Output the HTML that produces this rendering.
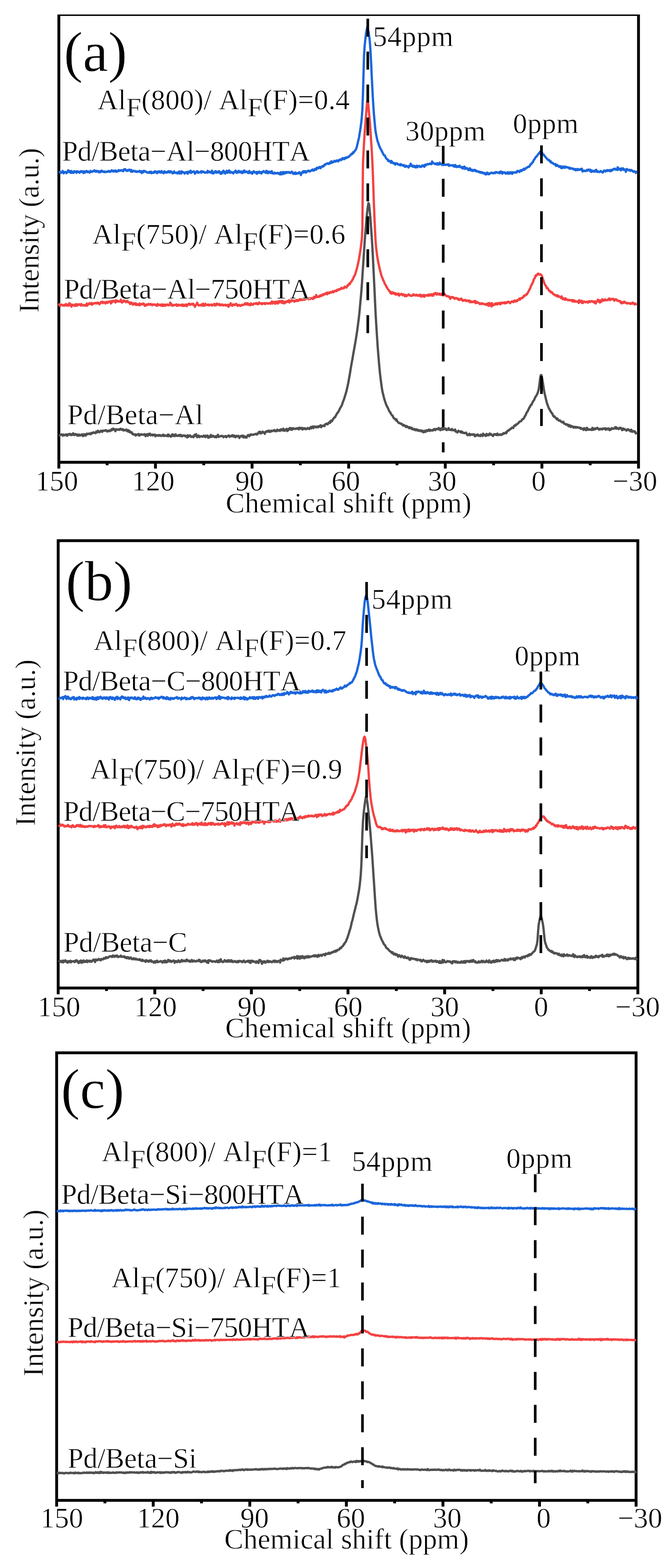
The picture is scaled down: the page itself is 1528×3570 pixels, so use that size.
<!DOCTYPE html>
<html><head><meta charset="utf-8"><title>NMR spectra</title>
<style>
html,body{margin:0;padding:0;background:#fff;}
svg{display:block;}
text{font-family:"Liberation Serif","Times New Roman",serif;font-size:65px;fill:#000;font-kerning:none;stroke:#fff;stroke-width:0.8px;paint-order:fill stroke;}
</style></head>
<body>
<svg width="1528" height="3570" viewBox="0 0 1528 3570">
<defs><filter id="soft" x="0" y="0" width="100%" height="100%" color-interpolation-filters="sRGB"><feGaussianBlur stdDeviation="0.6"/></filter></defs>
<rect width="1528" height="3570" fill="#fff"/>
<g filter="url(#soft)">
<rect x="134" y="33" width="1320" height="1019.5" fill="none" stroke="#000" stroke-width="6.5"/>
<rect x="130.75" y="1055.25" width="6.5" height="11.5" fill="#000"/>
<rect x="350.75" y="1055.25" width="6.5" height="11.5" fill="#000"/>
<rect x="570.75" y="1055.25" width="6.5" height="11.5" fill="#000"/>
<rect x="790.75" y="1055.25" width="6.5" height="11.5" fill="#000"/>
<rect x="1010.75" y="1055.25" width="6.5" height="11.5" fill="#000"/>
<rect x="1230.75" y="1055.25" width="6.5" height="11.5" fill="#000"/>
<rect x="1450.75" y="1055.25" width="6.5" height="11.5" fill="#000"/>
<rect x="240.75" y="1055.25" width="6.5" height="4" fill="#000"/>
<rect x="460.75" y="1055.25" width="6.5" height="4" fill="#000"/>
<rect x="680.75" y="1055.25" width="6.5" height="4" fill="#000"/>
<rect x="900.75" y="1055.25" width="6.5" height="4" fill="#000"/>
<rect x="1120.75" y="1055.25" width="6.5" height="4" fill="#000"/>
<rect x="1340.75" y="1055.25" width="6.5" height="4" fill="#000"/>
<path d="M134.0,990.6 L135.2,991.1 L136.5,990.4 L137.8,989.4 L139.0,989.9 L140.2,989.0 L141.5,990.6 L142.8,992.0 L144.0,989.5 L145.2,989.3 L146.5,990.9 L147.8,990.9 L149.0,990.7 L150.2,989.1 L151.5,990.8 L152.8,992.1 L154.0,989.3 L155.2,990.4 L156.5,988.3 L157.8,988.9 L159.0,988.1 L160.2,990.0 L161.5,988.4 L162.8,990.6 L164.0,990.2 L165.2,989.8 L166.5,986.5 L167.8,989.5 L169.0,990.6 L170.2,990.3 L171.5,988.2 L172.8,989.8 L174.0,989.1 L175.2,989.4 L176.5,992.1 L177.8,989.2 L179.0,990.5 L180.2,991.7 L181.5,989.7 L182.8,990.7 L184.0,991.3 L185.2,990.9 L186.5,989.0 L187.8,991.1 L189.0,992.8 L190.2,988.7 L191.5,991.6 L192.8,990.4 L194.0,988.9 L195.2,991.8 L196.5,990.2 L197.8,987.3 L199.0,988.4 L200.2,988.5 L201.5,987.3 L202.8,988.1 L204.0,986.9 L205.2,987.8 L206.5,988.7 L207.8,985.7 L209.0,986.6 L210.2,985.6 L211.5,986.2 L212.8,984.2 L214.0,984.9 L215.2,985.0 L216.5,986.2 L217.8,986.2 L219.0,982.6 L220.2,982.9 L221.5,984.4 L222.8,980.8 L224.0,982.4 L225.2,982.7 L226.5,984.3 L227.8,982.9 L229.0,981.2 L230.2,980.8 L231.5,980.8 L232.8,983.3 L234.0,980.5 L235.2,980.5 L236.5,981.0 L237.8,980.5 L239.0,980.5 L240.2,979.2 L241.5,980.9 L242.8,980.4 L244.0,982.5 L245.2,981.6 L246.5,980.7 L247.8,981.7 L249.0,979.9 L250.2,981.5 L251.5,979.9 L252.8,980.3 L254.0,977.3 L255.2,979.3 L256.5,976.6 L257.8,975.8 L259.0,978.1 L260.2,977.2 L261.5,978.8 L262.8,981.8 L264.0,977.4 L265.2,977.5 L266.5,978.5 L267.8,978.4 L269.0,977.6 L270.2,977.5 L271.5,978.8 L272.8,978.4 L274.0,976.1 L275.2,977.7 L276.5,978.0 L277.8,976.9 L279.0,978.8 L280.2,977.4 L281.5,980.2 L282.8,979.3 L284.0,979.5 L285.2,979.0 L286.5,979.9 L287.8,978.0 L289.0,979.4 L290.2,981.8 L291.5,979.3 L292.8,982.9 L294.0,980.4 L295.2,983.7 L296.5,982.4 L297.8,984.9 L299.0,985.1 L300.2,984.4 L301.5,987.9 L302.8,989.0 L304.0,988.4 L305.2,988.9 L306.5,989.7 L307.8,988.9 L309.0,991.8 L310.2,989.6 L311.5,990.1 L312.8,989.1 L314.0,989.2 L315.2,988.2 L316.5,991.5 L317.8,989.2 L319.0,990.9 L320.2,989.7 L321.5,988.7 L322.8,989.5 L324.0,989.1 L325.2,989.9 L326.5,989.5 L327.8,989.8 L329.0,988.5 L330.2,989.6 L331.5,993.1 L332.8,989.4 L334.0,988.7 L335.2,990.6 L336.5,992.2 L337.8,988.1 L339.0,990.0 L340.2,989.1 L341.5,987.3 L342.8,991.2 L344.0,990.2 L345.2,990.4 L346.5,989.4 L347.8,991.4 L349.0,989.8 L350.2,990.6 L351.5,989.5 L352.8,989.5 L354.0,993.3 L355.2,990.7 L356.5,991.8 L357.8,991.4 L359.0,990.8 L360.2,990.6 L361.5,992.3 L362.8,990.7 L364.0,990.7 L365.2,991.0 L366.5,992.7 L367.8,992.2 L369.0,992.0 L370.2,990.7 L371.5,989.6 L372.8,992.6 L374.0,992.6 L375.2,991.1 L376.5,991.8 L377.8,992.1 L379.0,992.4 L380.2,992.3 L381.5,990.0 L382.8,993.2 L384.0,989.4 L385.2,992.5 L386.5,992.1 L387.8,992.8 L389.0,994.2 L390.2,993.6 L391.5,989.8 L392.8,989.0 L394.0,992.5 L395.2,990.0 L396.5,991.6 L397.8,992.9 L399.0,989.2 L400.2,989.0 L401.5,992.3 L402.8,992.3 L404.0,992.0 L405.2,992.4 L406.5,991.1 L407.8,990.4 L409.0,992.5 L410.2,991.4 L411.5,990.1 L412.8,993.3 L414.0,992.4 L415.2,993.2 L416.5,991.4 L417.8,991.9 L419.0,991.5 L420.2,991.8 L421.5,993.4 L422.8,992.0 L424.0,993.6 L425.2,993.4 L426.5,996.0 L427.8,990.9 L429.0,994.3 L430.2,992.9 L431.5,993.1 L432.8,991.2 L434.0,992.9 L435.2,994.8 L436.5,993.9 L437.8,994.0 L439.0,993.5 L440.2,995.5 L441.5,993.9 L442.8,990.3 L444.0,992.4 L445.2,990.4 L446.5,988.5 L447.8,992.7 L449.0,995.5 L450.2,993.7 L451.5,991.7 L452.8,991.9 L454.0,995.2 L455.2,993.8 L456.5,993.8 L457.8,993.2 L459.0,993.2 L460.2,994.4 L461.5,994.1 L462.8,993.8 L464.0,991.8 L465.2,994.0 L466.5,992.4 L467.8,995.2 L469.0,992.0 L470.2,993.8 L471.5,993.8 L472.8,991.7 L474.0,996.6 L475.2,996.3 L476.5,993.7 L477.8,995.5 L479.0,994.5 L480.2,990.2 L481.5,994.4 L482.8,994.1 L484.0,994.2 L485.2,992.2 L486.5,993.4 L487.8,993.4 L489.0,995.3 L490.2,994.0 L491.5,993.3 L492.8,995.7 L494.0,992.4 L495.2,992.4 L496.5,990.1 L497.8,994.9 L499.0,993.8 L500.2,993.6 L501.5,993.4 L502.8,992.6 L504.0,993.1 L505.2,992.4 L506.5,992.5 L507.8,993.1 L509.0,995.5 L510.2,994.2 L511.5,993.7 L512.8,992.9 L514.0,992.6 L515.2,995.5 L516.5,994.1 L517.8,993.6 L519.0,992.7 L520.2,991.4 L521.5,993.1 L522.8,994.4 L524.0,992.4 L525.2,992.9 L526.5,993.2 L527.8,993.4 L529.0,990.7 L530.2,993.0 L531.5,992.1 L532.8,994.4 L534.0,991.8 L535.2,994.0 L536.5,995.6 L537.8,992.4 L539.0,992.6 L540.2,993.7 L541.5,993.4 L542.8,992.2 L544.0,994.8 L545.2,997.2 L546.5,993.5 L547.8,993.5 L549.0,992.4 L550.2,993.8 L551.5,991.9 L552.8,992.1 L554.0,995.8 L555.2,992.3 L556.5,995.2 L557.8,996.1 L559.0,994.3 L560.2,994.6 L561.5,996.4 L562.8,993.0 L564.0,991.9 L565.2,990.3 L566.5,991.9 L567.8,993.2 L569.0,992.0 L570.2,989.2 L571.5,989.2 L572.8,989.6 L574.0,990.2 L575.2,989.7 L576.5,989.9 L577.8,989.7 L579.0,988.8 L580.2,988.7 L581.5,988.6 L582.8,987.6 L584.0,987.9 L585.2,989.5 L586.5,987.4 L587.8,986.6 L589.0,984.0 L590.2,986.2 L591.5,982.9 L592.8,983.6 L594.0,986.9 L595.2,986.5 L596.5,984.9 L597.8,982.8 L599.0,984.3 L600.2,983.9 L601.5,985.6 L602.8,987.7 L604.0,984.7 L605.2,982.9 L606.5,982.0 L607.8,983.2 L609.0,982.7 L610.2,981.1 L611.5,982.5 L612.8,980.5 L614.0,983.3 L615.2,983.1 L616.5,982.8 L617.8,980.5 L619.0,981.8 L620.2,980.9 L621.5,980.7 L622.8,980.8 L624.0,979.4 L625.2,979.2 L626.5,981.8 L627.8,980.7 L629.0,981.1 L630.2,981.8 L631.5,978.2 L632.8,979.3 L634.0,980.2 L635.2,980.5 L636.5,979.1 L637.8,981.0 L639.0,979.4 L640.2,977.3 L641.5,978.0 L642.8,979.9 L644.0,979.3 L645.2,976.0 L646.5,980.6 L647.8,979.4 L649.0,980.4 L650.2,977.8 L651.5,977.7 L652.8,976.5 L654.0,981.4 L655.2,977.4 L656.5,979.8 L657.8,976.1 L659.0,977.2 L660.2,974.4 L661.5,976.3 L662.8,978.4 L664.0,975.0 L665.2,978.3 L666.5,977.0 L667.8,975.0 L669.0,975.8 L670.2,976.0 L671.5,976.9 L672.8,976.3 L674.0,975.7 L675.2,976.3 L676.5,975.2 L677.8,974.7 L679.0,976.3 L680.2,977.6 L681.5,973.8 L682.8,975.8 L684.0,974.6 L685.2,974.0 L686.5,976.5 L687.8,974.8 L689.0,977.8 L690.2,974.8 L691.5,976.6 L692.8,975.8 L694.0,974.9 L695.2,976.9 L696.5,976.1 L697.8,977.1 L699.0,976.0 L700.2,974.6 L701.5,975.7 L702.8,975.8 L704.0,976.9 L705.2,974.1 L706.5,975.1 L707.8,972.2 L709.0,975.4 L710.2,972.6 L711.5,971.3 L712.8,973.4 L714.0,974.8 L715.2,970.8 L716.5,971.5 L717.8,971.8 L719.0,971.3 L720.2,973.1 L721.5,971.4 L722.8,971.4 L724.0,972.8 L725.2,970.6 L726.5,972.1 L727.8,970.2 L729.0,969.3 L730.2,968.2 L731.5,972.7 L732.8,969.6 L734.0,970.1 L735.2,969.2 L736.5,969.3 L737.8,968.8 L739.0,970.2 L740.2,966.5 L741.5,965.4 L742.8,965.4 L744.0,964.7 L745.2,966.1 L746.5,965.8 L747.8,963.1 L749.0,961.9 L750.2,962.3 L751.5,963.0 L752.8,958.1 L754.0,960.3 L755.2,957.7 L756.5,958.3 L757.8,955.0 L759.0,954.1 L760.2,951.6 L761.5,950.3 L762.8,950.4 L764.0,948.1 L765.2,945.4 L766.5,943.3 L767.8,940.7 L769.0,939.8 L770.2,938.0 L771.5,935.7 L772.8,933.4 L774.0,930.2 L775.2,928.4 L776.5,925.9 L777.8,923.8 L779.0,921.1 L780.2,917.1 L781.5,913.6 L782.8,910.5 L784.0,906.7 L785.2,902.8 L786.5,899.0 L787.8,894.2 L789.0,890.2 L790.2,884.7 L791.5,879.2 L792.8,873.2 L794.0,866.8 L795.2,859.7 L796.5,852.5 L797.8,844.8 L799.0,837.4 L800.2,830.1 L801.5,822.7 L802.8,816.1 L804.0,808.7 L805.2,801.8 L806.5,794.7 L807.8,787.2 L809.0,780.7 L810.2,773.4 L811.5,765.3 L812.8,757.0 L814.0,748.4 L815.2,739.1 L816.5,729.2 L817.8,718.3 L819.0,706.4 L820.2,693.1 L821.5,679.3 L822.8,664.4 L824.0,648.4 L825.2,630.2 L826.5,610.4 L827.8,590.2 L829.0,571.9 L830.2,553.6 L831.5,535.9 L832.8,519.7 L834.0,505.1 L835.2,492.1 L836.5,479.3 L837.8,469.4 L839.0,462.5 L840.2,464.4 L841.5,474.5 L842.8,489.3 L844.0,504.5 L845.2,521.0 L846.5,539.4 L847.8,559.9 L849.0,581.8 L850.2,606.5 L851.5,633.5 L852.8,659.6 L854.0,685.8 L855.2,711.3 L856.5,734.4 L857.8,754.8 L859.0,773.9 L860.2,791.5 L861.5,807.6 L862.8,823.1 L864.0,837.4 L865.2,849.5 L866.5,860.4 L867.8,870.7 L869.0,879.8 L870.2,887.6 L871.5,894.2 L872.8,898.9 L874.0,904.0 L875.2,908.8 L876.5,912.7 L877.8,916.7 L879.0,919.9 L880.2,922.7 L881.5,926.0 L882.8,928.0 L884.0,930.2 L885.2,933.8 L886.5,935.9 L887.8,938.3 L889.0,939.2 L890.2,942.1 L891.5,944.0 L892.8,945.7 L894.0,946.3 L895.2,949.2 L896.5,951.9 L897.8,952.8 L899.0,953.2 L900.2,954.9 L901.5,956.7 L902.8,954.7 L904.0,958.1 L905.2,959.8 L906.5,961.0 L907.8,963.0 L909.0,963.2 L910.2,963.4 L911.5,964.0 L912.8,965.2 L914.0,964.5 L915.2,965.6 L916.5,967.3 L917.8,968.9 L919.0,967.4 L920.2,968.0 L921.5,968.9 L922.8,970.8 L924.0,970.1 L925.2,972.4 L926.5,970.3 L927.8,971.6 L929.0,972.1 L930.2,973.7 L931.5,974.8 L932.8,972.4 L934.0,973.5 L935.2,975.4 L936.5,974.6 L937.8,974.0 L939.0,977.5 L940.2,977.3 L941.5,977.6 L942.8,976.4 L944.0,978.6 L945.2,977.5 L946.5,979.6 L947.8,977.5 L949.0,977.8 L950.2,979.8 L951.5,978.8 L952.8,980.9 L954.0,980.8 L955.2,979.5 L956.5,980.9 L957.8,980.3 L959.0,982.1 L960.2,980.2 L961.5,980.3 L962.8,982.6 L964.0,984.3 L965.2,983.9 L966.5,980.9 L967.8,981.2 L969.0,983.4 L970.2,980.9 L971.5,979.5 L972.8,981.0 L974.0,981.4 L975.2,979.4 L976.5,978.2 L977.8,978.4 L979.0,981.1 L980.2,978.9 L981.5,979.7 L982.8,979.8 L984.0,980.3 L985.2,978.9 L986.5,979.7 L987.8,977.5 L989.0,978.0 L990.2,976.7 L991.5,979.3 L992.8,977.7 L994.0,976.5 L995.2,976.6 L996.5,976.4 L997.8,977.5 L999.0,974.5 L1000.2,975.2 L1001.5,975.9 L1002.8,979.5 L1004.0,976.9 L1005.2,975.2 L1006.5,976.7 L1007.8,978.4 L1009.0,975.2 L1010.2,974.9 L1011.5,977.0 L1012.8,976.3 L1014.0,976.9 L1015.2,975.7 L1016.5,979.1 L1017.8,979.0 L1019.0,977.9 L1020.2,978.0 L1021.5,974.7 L1022.8,978.6 L1024.0,977.8 L1025.2,978.5 L1026.5,979.1 L1027.8,978.1 L1029.0,976.8 L1030.2,979.5 L1031.5,978.6 L1032.8,979.6 L1034.0,979.2 L1035.2,979.9 L1036.5,977.9 L1037.8,982.7 L1039.0,982.1 L1040.2,983.4 L1041.5,984.7 L1042.8,982.7 L1044.0,980.7 L1045.2,982.1 L1046.5,982.2 L1047.8,983.3 L1049.0,984.3 L1050.2,982.0 L1051.5,985.1 L1052.8,983.2 L1054.0,985.6 L1055.2,985.7 L1056.5,985.7 L1057.8,986.3 L1059.0,985.9 L1060.2,986.0 L1061.5,985.0 L1062.8,987.6 L1064.0,990.2 L1065.2,990.9 L1066.5,989.9 L1067.8,989.5 L1069.0,987.6 L1070.2,991.0 L1071.5,989.1 L1072.8,989.3 L1074.0,989.0 L1075.2,990.0 L1076.5,989.0 L1077.8,989.7 L1079.0,988.6 L1080.2,989.7 L1081.5,993.4 L1082.8,990.5 L1084.0,990.2 L1085.2,991.4 L1086.5,991.7 L1087.8,989.1 L1089.0,990.7 L1090.2,992.3 L1091.5,991.3 L1092.8,991.0 L1094.0,992.9 L1095.2,989.6 L1096.5,990.8 L1097.8,989.9 L1099.0,992.8 L1100.2,987.5 L1101.5,989.2 L1102.8,989.5 L1104.0,991.4 L1105.2,991.1 L1106.5,992.4 L1107.8,988.0 L1109.0,991.3 L1110.2,989.8 L1111.5,989.2 L1112.8,991.0 L1114.0,988.7 L1115.2,987.0 L1116.5,989.7 L1117.8,988.1 L1119.0,989.5 L1120.2,990.9 L1121.5,990.8 L1122.8,992.8 L1124.0,990.1 L1125.2,988.4 L1126.5,989.4 L1127.8,989.1 L1129.0,988.5 L1130.2,990.6 L1131.5,989.1 L1132.8,987.3 L1134.0,990.7 L1135.2,989.5 L1136.5,989.9 L1137.8,989.4 L1139.0,990.0 L1140.2,988.9 L1141.5,990.3 L1142.8,989.0 L1144.0,988.7 L1145.2,988.7 L1146.5,986.0 L1147.8,987.2 L1149.0,986.7 L1150.2,986.4 L1151.5,984.4 L1152.8,986.4 L1154.0,984.1 L1155.2,981.8 L1156.5,980.2 L1157.8,980.5 L1159.0,979.8 L1160.2,978.1 L1161.5,977.8 L1162.8,976.0 L1164.0,976.1 L1165.2,973.9 L1166.5,973.8 L1167.8,973.7 L1169.0,974.4 L1170.2,969.9 L1171.5,969.6 L1172.8,968.2 L1174.0,969.0 L1175.2,966.4 L1176.5,966.2 L1177.8,965.9 L1179.0,964.2 L1180.2,963.2 L1181.5,962.5 L1182.8,960.1 L1184.0,959.7 L1185.2,959.5 L1186.5,958.9 L1187.8,957.4 L1189.0,954.7 L1190.2,954.5 L1191.5,954.0 L1192.8,952.3 L1194.0,950.0 L1195.2,947.5 L1196.5,946.2 L1197.8,943.1 L1199.0,940.2 L1200.2,937.9 L1201.5,936.7 L1202.8,933.4 L1204.0,931.5 L1205.2,928.2 L1206.5,926.9 L1207.8,923.8 L1209.0,922.0 L1210.2,921.8 L1211.5,918.6 L1212.8,915.7 L1214.0,914.0 L1215.2,912.1 L1216.5,910.3 L1217.8,906.8 L1219.0,904.0 L1220.2,902.7 L1221.5,900.6 L1222.8,898.1 L1224.0,895.8 L1225.2,891.8 L1226.5,887.9 L1227.8,879.7 L1229.0,869.8 L1230.2,860.2 L1231.5,854.0 L1232.8,853.9 L1234.0,858.1 L1235.2,865.4 L1236.5,873.2 L1237.8,882.2 L1239.0,890.1 L1240.2,896.1 L1241.5,901.2 L1242.8,906.9 L1244.0,911.8 L1245.2,916.8 L1246.5,920.9 L1247.8,924.1 L1249.0,927.4 L1250.2,930.6 L1251.5,932.0 L1252.8,934.7 L1254.0,937.3 L1255.2,938.1 L1256.5,940.8 L1257.8,941.7 L1259.0,944.9 L1260.2,947.4 L1261.5,948.6 L1262.8,948.0 L1264.0,950.2 L1265.2,951.1 L1266.5,952.1 L1267.8,954.4 L1269.0,952.8 L1270.2,955.8 L1271.5,955.5 L1272.8,957.9 L1274.0,957.5 L1275.2,957.2 L1276.5,958.9 L1277.8,960.1 L1279.0,960.2 L1280.2,961.5 L1281.5,961.2 L1282.8,960.3 L1284.0,964.1 L1285.2,964.6 L1286.5,964.9 L1287.8,965.4 L1289.0,967.0 L1290.2,966.0 L1291.5,966.3 L1292.8,967.4 L1294.0,969.7 L1295.2,967.4 L1296.5,970.9 L1297.8,969.1 L1299.0,968.8 L1300.2,972.2 L1301.5,971.0 L1302.8,970.1 L1304.0,971.5 L1305.2,973.0 L1306.5,973.5 L1307.8,971.7 L1309.0,972.9 L1310.2,973.6 L1311.5,972.0 L1312.8,973.6 L1314.0,973.0 L1315.2,972.5 L1316.5,973.1 L1317.8,974.1 L1319.0,974.2 L1320.2,973.6 L1321.5,974.0 L1322.8,976.4 L1324.0,975.1 L1325.2,976.2 L1326.5,977.0 L1327.8,976.2 L1329.0,978.8 L1330.2,974.7 L1331.5,977.4 L1332.8,976.2 L1334.0,979.3 L1335.2,979.2 L1336.5,974.0 L1337.8,975.5 L1339.0,978.2 L1340.2,978.5 L1341.5,978.7 L1342.8,977.4 L1344.0,978.0 L1345.2,978.3 L1346.5,977.5 L1347.8,979.0 L1349.0,974.1 L1350.2,978.3 L1351.5,975.6 L1352.8,978.2 L1354.0,976.5 L1355.2,975.5 L1356.5,977.0 L1357.8,975.1 L1359.0,975.3 L1360.2,974.1 L1361.5,976.3 L1362.8,977.2 L1364.0,978.0 L1365.2,976.2 L1366.5,977.8 L1367.8,976.5 L1369.0,976.2 L1370.2,977.0 L1371.5,977.7 L1372.8,975.6 L1374.0,975.7 L1375.2,976.0 L1376.5,976.4 L1377.8,975.1 L1379.0,978.2 L1380.2,976.1 L1381.5,977.6 L1382.8,975.7 L1384.0,977.2 L1385.2,976.9 L1386.5,975.6 L1387.8,979.2 L1389.0,976.9 L1390.2,978.7 L1391.5,977.5 L1392.8,974.8 L1394.0,975.3 L1395.2,976.4 L1396.5,976.1 L1397.8,975.9 L1399.0,975.4 L1400.2,973.0 L1401.5,975.4 L1402.8,972.4 L1404.0,976.1 L1405.2,974.9 L1406.5,974.9 L1407.8,975.9 L1409.0,977.0 L1410.2,974.5 L1411.5,973.9 L1412.8,975.2 L1414.0,974.2 L1415.2,975.9 L1416.5,979.3 L1417.8,975.9 L1419.0,978.3 L1420.2,975.6 L1421.5,978.1 L1422.8,977.5 L1424.0,977.7 L1425.2,978.8 L1426.5,980.5 L1427.8,978.4 L1429.0,978.5 L1430.2,977.3 L1431.5,979.5 L1432.8,978.8 L1434.0,980.4 L1435.2,979.9 L1436.5,982.4 L1437.8,978.4 L1439.0,981.1 L1440.2,983.0 L1441.5,982.0 L1442.8,981.7 L1444.0,982.8 L1445.2,981.8 L1446.5,984.0 L1447.8,986.9 L1449.0,985.9 L1450.0,983.6" fill="none" stroke="#505050" stroke-width="5.2" stroke-linejoin="round" stroke-linecap="butt"/>
<path d="M134.0,696.1 L135.2,692.3 L136.5,696.1 L137.8,696.0 L139.0,694.4 L140.2,693.4 L141.5,694.2 L142.8,695.1 L144.0,695.7 L145.2,695.0 L146.5,696.1 L147.8,693.9 L149.0,694.9 L150.2,692.2 L151.5,695.5 L152.8,694.6 L154.0,693.7 L155.2,696.1 L156.5,695.3 L157.8,690.1 L159.0,694.3 L160.2,692.1 L161.5,695.9 L162.8,698.2 L164.0,693.8 L165.2,694.9 L166.5,694.1 L167.8,695.1 L169.0,695.6 L170.2,696.4 L171.5,692.9 L172.8,696.4 L174.0,692.5 L175.2,694.3 L176.5,695.5 L177.8,694.9 L179.0,692.6 L180.2,692.9 L181.5,693.1 L182.8,693.8 L184.0,695.7 L185.2,692.3 L186.5,694.8 L187.8,694.9 L189.0,695.0 L190.2,694.6 L191.5,695.8 L192.8,694.5 L194.0,695.0 L195.2,694.5 L196.5,696.2 L197.8,691.0 L199.0,695.6 L200.2,693.1 L201.5,692.8 L202.8,691.7 L204.0,690.0 L205.2,692.0 L206.5,691.5 L207.8,692.8 L209.0,689.7 L210.2,693.7 L211.5,692.0 L212.8,691.2 L214.0,690.6 L215.2,690.4 L216.5,689.7 L217.8,690.2 L219.0,691.1 L220.2,690.8 L221.5,689.0 L222.8,690.5 L224.0,689.5 L225.2,690.5 L226.5,692.7 L227.8,691.0 L229.0,689.5 L230.2,687.6 L231.5,687.7 L232.8,687.0 L234.0,690.2 L235.2,688.0 L236.5,688.9 L237.8,687.9 L239.0,688.9 L240.2,690.9 L241.5,687.9 L242.8,688.3 L244.0,687.5 L245.2,689.7 L246.5,687.1 L247.8,687.0 L249.0,686.6 L250.2,686.2 L251.5,688.3 L252.8,690.8 L254.0,685.7 L255.2,688.2 L256.5,686.9 L257.8,684.8 L259.0,686.0 L260.2,685.7 L261.5,685.0 L262.8,688.7 L264.0,683.6 L265.2,686.7 L266.5,686.3 L267.8,684.8 L269.0,685.9 L270.2,686.7 L271.5,685.9 L272.8,686.1 L274.0,686.5 L275.2,682.1 L276.5,687.5 L277.8,688.8 L279.0,687.3 L280.2,687.3 L281.5,684.1 L282.8,685.7 L284.0,685.2 L285.2,685.5 L286.5,688.0 L287.8,686.1 L289.0,687.3 L290.2,685.3 L291.5,687.8 L292.8,688.6 L294.0,688.3 L295.2,688.7 L296.5,692.4 L297.8,688.8 L299.0,689.0 L300.2,689.5 L301.5,692.3 L302.8,693.8 L304.0,691.9 L305.2,690.5 L306.5,691.0 L307.8,693.3 L309.0,690.7 L310.2,694.3 L311.5,694.4 L312.8,692.5 L314.0,693.3 L315.2,693.6 L316.5,695.1 L317.8,691.2 L319.0,694.3 L320.2,692.2 L321.5,691.8 L322.8,693.2 L324.0,692.8 L325.2,691.9 L326.5,690.9 L327.8,691.7 L329.0,695.5 L330.2,696.3 L331.5,694.4 L332.8,695.3 L334.0,692.9 L335.2,693.7 L336.5,694.1 L337.8,692.1 L339.0,692.2 L340.2,693.6 L341.5,693.1 L342.8,692.0 L344.0,693.9 L345.2,693.0 L346.5,694.9 L347.8,693.2 L349.0,693.2 L350.2,693.9 L351.5,693.7 L352.8,693.1 L354.0,693.6 L355.2,695.4 L356.5,695.5 L357.8,696.3 L359.0,692.1 L360.2,693.9 L361.5,693.8 L362.8,694.7 L364.0,693.7 L365.2,693.9 L366.5,695.8 L367.8,694.6 L369.0,692.9 L370.2,696.6 L371.5,695.9 L372.8,693.7 L374.0,695.9 L375.2,693.5 L376.5,696.2 L377.8,694.4 L379.0,693.6 L380.2,694.2 L381.5,693.5 L382.8,695.0 L384.0,695.0 L385.2,694.7 L386.5,693.8 L387.8,688.9 L389.0,694.5 L390.2,691.8 L391.5,694.9 L392.8,696.4 L394.0,695.1 L395.2,694.3 L396.5,694.7 L397.8,694.7 L399.0,694.2 L400.2,693.9 L401.5,693.0 L402.8,696.3 L404.0,694.3 L405.2,695.9 L406.5,693.9 L407.8,694.5 L409.0,694.1 L410.2,695.2 L411.5,695.6 L412.8,694.9 L414.0,693.4 L415.2,693.4 L416.5,696.9 L417.8,694.1 L419.0,693.7 L420.2,696.4 L421.5,695.4 L422.8,694.9 L424.0,693.1 L425.2,697.1 L426.5,694.0 L427.8,694.4 L429.0,693.0 L430.2,691.4 L431.5,691.4 L432.8,694.0 L434.0,693.7 L435.2,693.1 L436.5,691.8 L437.8,691.8 L439.0,693.2 L440.2,691.6 L441.5,695.1 L442.8,695.6 L444.0,698.6 L445.2,695.8 L446.5,693.5 L447.8,693.0 L449.0,688.9 L450.2,693.4 L451.5,693.9 L452.8,695.6 L454.0,695.0 L455.2,694.6 L456.5,694.3 L457.8,694.6 L459.0,695.9 L460.2,692.4 L461.5,692.9 L462.8,691.6 L464.0,696.3 L465.2,696.0 L466.5,695.2 L467.8,691.8 L469.0,694.3 L470.2,693.8 L471.5,694.2 L472.8,693.6 L474.0,695.0 L475.2,693.5 L476.5,695.4 L477.8,694.6 L479.0,693.9 L480.2,694.0 L481.5,693.5 L482.8,695.7 L484.0,694.1 L485.2,694.6 L486.5,693.8 L487.8,692.0 L489.0,695.4 L490.2,692.5 L491.5,695.2 L492.8,694.6 L494.0,691.3 L495.2,692.6 L496.5,693.3 L497.8,692.7 L499.0,692.1 L500.2,695.1 L501.5,693.6 L502.8,694.7 L504.0,693.6 L505.2,694.8 L506.5,693.3 L507.8,694.5 L509.0,695.5 L510.2,694.9 L511.5,694.4 L512.8,693.7 L514.0,695.4 L515.2,695.6 L516.5,694.8 L517.8,694.0 L519.0,695.9 L520.2,698.5 L521.5,694.0 L522.8,694.8 L524.0,694.8 L525.2,690.5 L526.5,694.4 L527.8,693.2 L529.0,696.2 L530.2,693.8 L531.5,693.2 L532.8,694.2 L534.0,694.7 L535.2,693.2 L536.5,693.7 L537.8,691.7 L539.0,693.3 L540.2,694.8 L541.5,696.6 L542.8,694.7 L544.0,694.0 L545.2,695.4 L546.5,695.4 L547.8,696.5 L549.0,695.9 L550.2,693.9 L551.5,694.4 L552.8,694.1 L554.0,694.1 L555.2,694.1 L556.5,692.8 L557.8,690.8 L559.0,692.7 L560.2,690.4 L561.5,693.4 L562.8,693.2 L564.0,690.5 L565.2,693.9 L566.5,694.0 L567.8,692.5 L569.0,694.7 L570.2,694.8 L571.5,690.7 L572.8,693.7 L574.0,692.8 L575.2,693.2 L576.5,693.8 L577.8,691.3 L579.0,691.5 L580.2,691.0 L581.5,691.1 L582.8,691.9 L584.0,690.0 L585.2,690.6 L586.5,692.7 L587.8,691.8 L589.0,692.1 L590.2,688.7 L591.5,690.2 L592.8,690.5 L594.0,691.3 L595.2,690.6 L596.5,692.5 L597.8,690.7 L599.0,690.6 L600.2,690.7 L601.5,691.7 L602.8,690.1 L604.0,692.3 L605.2,691.2 L606.5,690.5 L607.8,690.1 L609.0,690.8 L610.2,691.4 L611.5,691.2 L612.8,690.3 L614.0,690.8 L615.2,689.7 L616.5,691.2 L617.8,689.4 L619.0,686.5 L620.2,691.2 L621.5,689.4 L622.8,687.4 L624.0,688.6 L625.2,687.5 L626.5,691.7 L627.8,689.4 L629.0,686.5 L630.2,689.5 L631.5,688.1 L632.8,691.1 L634.0,686.8 L635.2,685.4 L636.5,688.6 L637.8,687.9 L639.0,687.7 L640.2,685.0 L641.5,688.5 L642.8,690.1 L644.0,685.3 L645.2,689.6 L646.5,686.9 L647.8,690.8 L649.0,687.9 L650.2,686.8 L651.5,688.3 L652.8,687.5 L654.0,685.6 L655.2,687.1 L656.5,685.6 L657.8,683.6 L659.0,688.6 L660.2,685.2 L661.5,684.9 L662.8,686.2 L664.0,683.4 L665.2,683.8 L666.5,684.8 L667.8,684.7 L669.0,685.5 L670.2,686.8 L671.5,684.4 L672.8,685.5 L674.0,685.6 L675.2,683.1 L676.5,684.8 L677.8,682.9 L679.0,685.1 L680.2,684.1 L681.5,683.3 L682.8,681.2 L684.0,682.9 L685.2,681.4 L686.5,683.1 L687.8,681.6 L689.0,680.7 L690.2,682.8 L691.5,682.2 L692.8,680.2 L694.0,682.4 L695.2,680.5 L696.5,680.0 L697.8,680.4 L699.0,679.0 L700.2,679.1 L701.5,679.3 L702.8,681.4 L704.0,681.1 L705.2,678.6 L706.5,680.8 L707.8,678.8 L709.0,679.2 L710.2,679.6 L711.5,678.5 L712.8,680.8 L714.0,677.8 L715.2,675.7 L716.5,678.5 L717.8,675.7 L719.0,675.5 L720.2,671.7 L721.5,676.5 L722.8,676.0 L724.0,675.5 L725.2,675.4 L726.5,676.0 L727.8,673.6 L729.0,674.7 L730.2,672.2 L731.5,672.4 L732.8,673.4 L734.0,672.4 L735.2,669.8 L736.5,671.6 L737.8,670.4 L739.0,669.0 L740.2,669.9 L741.5,668.5 L742.8,666.8 L744.0,667.2 L745.2,670.0 L746.5,665.9 L747.8,667.4 L749.0,667.7 L750.2,667.5 L751.5,664.9 L752.8,665.6 L754.0,665.7 L755.2,666.0 L756.5,664.2 L757.8,663.0 L759.0,665.4 L760.2,664.8 L761.5,663.4 L762.8,662.0 L764.0,662.7 L765.2,662.0 L766.5,662.8 L767.8,659.8 L769.0,661.0 L770.2,660.0 L771.5,658.5 L772.8,659.6 L774.0,658.9 L775.2,657.6 L776.5,657.8 L777.8,655.1 L779.0,656.4 L780.2,656.7 L781.5,656.1 L782.8,656.6 L784.0,653.5 L785.2,652.7 L786.5,654.1 L787.8,653.8 L789.0,654.8 L790.2,652.1 L791.5,649.7 L792.8,650.1 L794.0,647.4 L795.2,645.7 L796.5,647.2 L797.8,643.9 L799.0,642.4 L800.2,640.5 L801.5,639.4 L802.8,636.4 L804.0,635.0 L805.2,631.3 L806.5,628.6 L807.8,627.2 L809.0,624.0 L810.2,619.8 L811.5,615.5 L812.8,611.0 L814.0,605.7 L815.2,601.0 L816.5,594.7 L817.8,588.0 L819.0,580.8 L820.2,573.3 L821.5,563.8 L822.8,553.9 L824.0,543.9 L825.2,518.8 L826.5,374.0 L827.8,346.7 L829.0,324.3 L830.2,305.2 L831.5,288.0 L832.8,271.8 L834.0,256.1 L835.2,241.4 L836.5,229.0 L837.8,230.0 L839.0,242.1 L840.2,255.4 L841.5,269.9 L842.8,285.8 L844.0,302.5 L845.2,321.5 L846.5,342.4 L847.8,366.2 L849.0,393.5 L850.2,427.4 L851.5,465.6 L852.8,497.6 L854.0,524.7 L855.2,547.4 L856.5,563.4 L857.8,573.9 L859.0,583.1 L860.2,590.8 L861.5,597.8 L862.8,604.1 L864.0,609.4 L865.2,614.9 L866.5,618.9 L867.8,624.8 L869.0,628.6 L870.2,631.6 L871.5,634.4 L872.8,638.4 L874.0,640.1 L875.2,643.3 L876.5,646.6 L877.8,648.4 L879.0,650.4 L880.2,653.6 L881.5,654.7 L882.8,657.7 L884.0,659.1 L885.2,660.6 L886.5,663.1 L887.8,663.1 L889.0,667.0 L890.2,665.2 L891.5,668.5 L892.8,665.3 L894.0,668.0 L895.2,666.4 L896.5,666.3 L897.8,668.5 L899.0,669.6 L900.2,667.6 L901.5,670.9 L902.8,668.6 L904.0,670.1 L905.2,670.6 L906.5,671.0 L907.8,668.3 L909.0,673.0 L910.2,671.8 L911.5,670.5 L912.8,669.6 L914.0,668.8 L915.2,669.4 L916.5,672.1 L917.8,671.0 L919.0,670.2 L920.2,671.4 L921.5,674.3 L922.8,671.7 L924.0,671.4 L925.2,674.4 L926.5,673.4 L927.8,672.9 L929.0,672.0 L930.2,670.2 L931.5,670.9 L932.8,672.0 L934.0,672.5 L935.2,673.6 L936.5,673.8 L937.8,673.3 L939.0,673.0 L940.2,671.4 L941.5,669.9 L942.8,672.1 L944.0,671.7 L945.2,672.3 L946.5,672.8 L947.8,671.0 L949.0,671.2 L950.2,673.0 L951.5,673.2 L952.8,671.9 L954.0,673.6 L955.2,672.1 L956.5,670.9 L957.8,672.5 L959.0,675.5 L960.2,671.7 L961.5,674.2 L962.8,674.5 L964.0,674.7 L965.2,671.4 L966.5,675.7 L967.8,672.9 L969.0,672.3 L970.2,672.0 L971.5,673.1 L972.8,672.0 L974.0,671.5 L975.2,673.6 L976.5,670.9 L977.8,670.2 L979.0,672.7 L980.2,672.3 L981.5,672.7 L982.8,669.6 L984.0,672.7 L985.2,671.6 L986.5,673.3 L987.8,668.6 L989.0,670.2 L990.2,669.1 L991.5,667.0 L992.8,668.0 L994.0,670.7 L995.2,668.3 L996.5,667.9 L997.8,670.2 L999.0,670.7 L1000.2,670.8 L1001.5,668.5 L1002.8,669.9 L1004.0,671.6 L1005.2,669.4 L1006.5,669.4 L1007.8,671.6 L1009.0,672.7 L1010.2,669.7 L1011.5,668.5 L1012.8,670.1 L1014.0,671.2 L1015.2,672.8 L1016.5,674.2 L1017.8,674.1 L1019.0,674.0 L1020.2,675.5 L1021.5,674.6 L1022.8,676.1 L1024.0,675.8 L1025.2,680.3 L1026.5,678.2 L1027.8,676.3 L1029.0,676.3 L1030.2,677.6 L1031.5,676.4 L1032.8,677.9 L1034.0,678.2 L1035.2,680.5 L1036.5,678.9 L1037.8,678.7 L1039.0,678.6 L1040.2,678.9 L1041.5,680.5 L1042.8,680.5 L1044.0,682.3 L1045.2,680.4 L1046.5,683.0 L1047.8,682.3 L1049.0,682.1 L1050.2,679.6 L1051.5,680.8 L1052.8,683.7 L1054.0,684.9 L1055.2,683.7 L1056.5,684.4 L1057.8,683.0 L1059.0,683.1 L1060.2,683.2 L1061.5,685.5 L1062.8,685.1 L1064.0,684.2 L1065.2,684.3 L1066.5,685.8 L1067.8,685.8 L1069.0,684.3 L1070.2,688.1 L1071.5,686.2 L1072.8,686.0 L1074.0,688.2 L1075.2,687.8 L1076.5,686.8 L1077.8,687.6 L1079.0,686.0 L1080.2,687.2 L1081.5,685.2 L1082.8,690.1 L1084.0,686.3 L1085.2,689.8 L1086.5,688.4 L1087.8,688.2 L1089.0,689.6 L1090.2,690.2 L1091.5,690.6 L1092.8,692.3 L1094.0,691.0 L1095.2,692.0 L1096.5,690.4 L1097.8,692.1 L1099.0,691.9 L1100.2,691.0 L1101.5,691.9 L1102.8,692.5 L1104.0,693.2 L1105.2,693.4 L1106.5,692.4 L1107.8,692.1 L1109.0,694.4 L1110.2,691.1 L1111.5,692.9 L1112.8,696.2 L1114.0,689.7 L1115.2,692.8 L1116.5,694.8 L1117.8,691.4 L1119.0,697.8 L1120.2,690.2 L1121.5,695.5 L1122.8,695.6 L1124.0,694.6 L1125.2,692.9 L1126.5,693.2 L1127.8,691.2 L1129.0,693.3 L1130.2,690.4 L1131.5,691.3 L1132.8,693.1 L1134.0,690.2 L1135.2,690.9 L1136.5,691.5 L1137.8,689.5 L1139.0,692.9 L1140.2,691.6 L1141.5,689.1 L1142.8,690.7 L1144.0,689.4 L1145.2,689.2 L1146.5,689.9 L1147.8,688.7 L1149.0,690.8 L1150.2,688.2 L1151.5,690.2 L1152.8,688.7 L1154.0,689.7 L1155.2,687.7 L1156.5,687.8 L1157.8,686.7 L1159.0,688.6 L1160.2,688.9 L1161.5,690.2 L1162.8,688.8 L1164.0,687.0 L1165.2,686.3 L1166.5,687.0 L1167.8,686.1 L1169.0,687.9 L1170.2,687.2 L1171.5,684.4 L1172.8,684.3 L1174.0,686.6 L1175.2,685.1 L1176.5,684.1 L1177.8,685.5 L1179.0,682.9 L1180.2,682.8 L1181.5,682.0 L1182.8,679.8 L1184.0,682.3 L1185.2,679.4 L1186.5,679.4 L1187.8,678.4 L1189.0,678.9 L1190.2,677.4 L1191.5,676.5 L1192.8,674.0 L1194.0,674.3 L1195.2,672.1 L1196.5,672.5 L1197.8,671.3 L1199.0,669.7 L1200.2,670.0 L1201.5,667.1 L1202.8,665.1 L1204.0,662.6 L1205.2,660.0 L1206.5,658.0 L1207.8,655.3 L1209.0,651.3 L1210.2,649.7 L1211.5,646.6 L1212.8,644.3 L1214.0,641.3 L1215.2,637.4 L1216.5,634.4 L1217.8,633.1 L1219.0,629.9 L1220.2,626.8 L1221.5,627.6 L1222.8,626.2 L1224.0,624.1 L1225.2,623.1 L1226.5,623.4 L1227.8,625.2 L1229.0,624.6 L1230.2,624.2 L1231.5,625.1 L1232.8,626.6 L1234.0,627.9 L1235.2,632.2 L1236.5,635.8 L1237.8,639.6 L1239.0,643.5 L1240.2,646.7 L1241.5,648.9 L1242.8,650.1 L1244.0,652.7 L1245.2,656.1 L1246.5,655.7 L1247.8,656.8 L1249.0,659.8 L1250.2,661.6 L1251.5,662.8 L1252.8,662.6 L1254.0,665.5 L1255.2,665.0 L1256.5,665.3 L1257.8,666.8 L1259.0,668.2 L1260.2,670.0 L1261.5,670.7 L1262.8,670.8 L1264.0,672.4 L1265.2,672.1 L1266.5,673.7 L1267.8,672.0 L1269.0,672.4 L1270.2,675.5 L1271.5,673.4 L1272.8,675.2 L1274.0,675.9 L1275.2,675.8 L1276.5,676.3 L1277.8,678.8 L1279.0,674.8 L1280.2,679.0 L1281.5,681.0 L1282.8,679.1 L1284.0,679.4 L1285.2,680.8 L1286.5,682.7 L1287.8,679.3 L1289.0,681.3 L1290.2,681.3 L1291.5,682.8 L1292.8,682.8 L1294.0,683.6 L1295.2,682.6 L1296.5,683.6 L1297.8,682.9 L1299.0,683.2 L1300.2,684.0 L1301.5,684.2 L1302.8,683.1 L1304.0,686.6 L1305.2,684.8 L1306.5,683.5 L1307.8,686.9 L1309.0,684.7 L1310.2,686.8 L1311.5,686.4 L1312.8,686.8 L1314.0,686.8 L1315.2,686.0 L1316.5,686.7 L1317.8,689.7 L1319.0,683.5 L1320.2,686.9 L1321.5,687.4 L1322.8,684.9 L1324.0,684.7 L1325.2,689.8 L1326.5,686.0 L1327.8,689.7 L1329.0,687.3 L1330.2,686.5 L1331.5,687.0 L1332.8,687.4 L1334.0,688.3 L1335.2,687.3 L1336.5,687.1 L1337.8,687.1 L1339.0,689.0 L1340.2,688.1 L1341.5,685.6 L1342.8,686.2 L1344.0,687.5 L1345.2,686.1 L1346.5,686.2 L1347.8,685.3 L1349.0,686.3 L1350.2,687.3 L1351.5,687.9 L1352.8,686.2 L1354.0,689.4 L1355.2,686.2 L1356.5,691.1 L1357.8,687.9 L1359.0,687.0 L1360.2,685.6 L1361.5,682.1 L1362.8,686.0 L1364.0,686.3 L1365.2,688.5 L1366.5,683.7 L1367.8,688.1 L1369.0,684.9 L1370.2,686.1 L1371.5,681.3 L1372.8,684.3 L1374.0,683.3 L1375.2,684.3 L1376.5,683.5 L1377.8,681.6 L1379.0,683.9 L1380.2,683.5 L1381.5,682.9 L1382.8,683.3 L1384.0,683.3 L1385.2,682.0 L1386.5,679.8 L1387.8,679.6 L1389.0,683.3 L1390.2,682.4 L1391.5,681.2 L1392.8,680.4 L1394.0,681.3 L1395.2,681.6 L1396.5,680.7 L1397.8,680.7 L1399.0,684.7 L1400.2,682.4 L1401.5,681.7 L1402.8,681.4 L1404.0,682.3 L1405.2,684.4 L1406.5,685.0 L1407.8,684.6 L1409.0,685.3 L1410.2,685.7 L1411.5,685.1 L1412.8,688.3 L1414.0,687.7 L1415.2,690.8 L1416.5,687.4 L1417.8,688.5 L1419.0,689.9 L1420.2,688.7 L1421.5,686.8 L1422.8,687.8 L1424.0,689.2 L1425.2,689.8 L1426.5,689.2 L1427.8,690.8 L1429.0,690.9 L1430.2,690.3 L1431.5,690.1 L1432.8,690.1 L1434.0,691.3 L1435.2,691.8 L1436.5,690.8 L1437.8,691.6 L1439.0,690.8 L1440.2,688.9 L1441.5,689.4 L1442.8,691.6 L1444.0,691.1 L1445.2,693.0 L1446.5,691.0 L1447.8,692.1 L1449.0,692.7 L1450.0,692.1" fill="none" stroke="#f44242" stroke-width="5.2" stroke-linejoin="round" stroke-linecap="butt"/>
<path d="M134.0,392.8 L135.2,392.0 L136.5,392.4 L137.8,393.5 L139.0,391.8 L140.2,392.8 L141.5,392.9 L142.8,389.2 L144.0,391.9 L145.2,394.7 L146.5,392.0 L147.8,392.3 L149.0,391.5 L150.2,391.8 L151.5,394.4 L152.8,391.9 L154.0,391.0 L155.2,387.8 L156.5,391.4 L157.8,389.3 L159.0,389.3 L160.2,393.3 L161.5,393.2 L162.8,389.4 L164.0,393.7 L165.2,392.9 L166.5,391.3 L167.8,393.5 L169.0,390.0 L170.2,391.0 L171.5,390.4 L172.8,390.7 L174.0,393.5 L175.2,390.0 L176.5,390.3 L177.8,390.4 L179.0,392.2 L180.2,391.5 L181.5,393.2 L182.8,390.8 L184.0,389.7 L185.2,390.8 L186.5,391.5 L187.8,390.0 L189.0,391.7 L190.2,394.0 L191.5,390.1 L192.8,390.8 L194.0,392.9 L195.2,389.9 L196.5,389.5 L197.8,389.4 L199.0,392.0 L200.2,391.9 L201.5,390.7 L202.8,391.3 L204.0,393.0 L205.2,392.3 L206.5,389.0 L207.8,391.2 L209.0,390.8 L210.2,391.2 L211.5,389.9 L212.8,389.5 L214.0,389.7 L215.2,387.7 L216.5,390.3 L217.8,389.6 L219.0,391.1 L220.2,389.1 L221.5,390.3 L222.8,389.8 L224.0,389.6 L225.2,392.2 L226.5,390.7 L227.8,391.9 L229.0,389.4 L230.2,391.2 L231.5,388.5 L232.8,390.2 L234.0,390.1 L235.2,391.7 L236.5,391.1 L237.8,390.4 L239.0,392.0 L240.2,391.0 L241.5,391.4 L242.8,391.6 L244.0,390.5 L245.2,390.1 L246.5,390.7 L247.8,389.3 L249.0,390.6 L250.2,391.4 L251.5,391.2 L252.8,389.3 L254.0,387.8 L255.2,389.2 L256.5,388.9 L257.8,390.6 L259.0,388.6 L260.2,389.0 L261.5,390.2 L262.8,388.2 L264.0,388.5 L265.2,391.2 L266.5,391.0 L267.8,389.6 L269.0,389.1 L270.2,387.2 L271.5,389.2 L272.8,388.5 L274.0,388.6 L275.2,387.6 L276.5,388.1 L277.8,387.4 L279.0,388.2 L280.2,389.8 L281.5,388.5 L282.8,385.2 L284.0,386.2 L285.2,385.3 L286.5,386.8 L287.8,389.0 L289.0,389.0 L290.2,387.6 L291.5,388.9 L292.8,387.0 L294.0,386.3 L295.2,386.4 L296.5,387.4 L297.8,390.5 L299.0,386.9 L300.2,390.9 L301.5,391.2 L302.8,389.0 L304.0,389.5 L305.2,388.8 L306.5,389.6 L307.8,390.6 L309.0,389.7 L310.2,391.2 L311.5,391.5 L312.8,390.3 L314.0,390.6 L315.2,390.2 L316.5,390.7 L317.8,389.1 L319.0,391.3 L320.2,391.5 L321.5,389.9 L322.8,394.0 L324.0,389.9 L325.2,390.1 L326.5,391.9 L327.8,388.9 L329.0,390.3 L330.2,389.5 L331.5,390.1 L332.8,391.5 L334.0,392.2 L335.2,393.0 L336.5,392.7 L337.8,393.3 L339.0,392.6 L340.2,391.2 L341.5,393.6 L342.8,391.3 L344.0,390.9 L345.2,394.2 L346.5,393.3 L347.8,392.6 L349.0,393.2 L350.2,393.5 L351.5,390.4 L352.8,391.9 L354.0,390.3 L355.2,392.3 L356.5,391.1 L357.8,394.3 L359.0,392.6 L360.2,390.8 L361.5,392.0 L362.8,390.1 L364.0,392.0 L365.2,392.9 L366.5,392.5 L367.8,389.4 L369.0,391.7 L370.2,393.3 L371.5,392.8 L372.8,394.2 L374.0,390.2 L375.2,393.0 L376.5,391.3 L377.8,392.4 L379.0,392.7 L380.2,393.0 L381.5,391.0 L382.8,392.1 L384.0,389.8 L385.2,389.8 L386.5,392.8 L387.8,391.8 L389.0,389.9 L390.2,390.9 L391.5,392.3 L392.8,394.6 L394.0,394.1 L395.2,393.9 L396.5,390.3 L397.8,392.7 L399.0,393.7 L400.2,393.5 L401.5,393.5 L402.8,392.7 L404.0,395.1 L405.2,394.5 L406.5,392.2 L407.8,390.4 L409.0,395.0 L410.2,391.0 L411.5,393.5 L412.8,394.8 L414.0,390.2 L415.2,392.5 L416.5,391.7 L417.8,392.6 L419.0,392.5 L420.2,395.2 L421.5,393.3 L422.8,392.4 L424.0,393.5 L425.2,391.7 L426.5,391.6 L427.8,395.3 L429.0,390.9 L430.2,391.8 L431.5,392.3 L432.8,390.3 L434.0,388.7 L435.2,393.8 L436.5,391.0 L437.8,391.3 L439.0,391.7 L440.2,390.8 L441.5,390.1 L442.8,391.9 L444.0,395.5 L445.2,392.9 L446.5,393.1 L447.8,389.9 L449.0,392.0 L450.2,390.2 L451.5,393.3 L452.8,392.2 L454.0,392.6 L455.2,392.5 L456.5,391.7 L457.8,389.9 L459.0,393.1 L460.2,390.3 L461.5,390.6 L462.8,391.7 L464.0,390.9 L465.2,392.3 L466.5,393.4 L467.8,392.4 L469.0,392.5 L470.2,392.3 L471.5,393.3 L472.8,389.0 L474.0,392.6 L475.2,390.8 L476.5,390.5 L477.8,392.2 L479.0,391.4 L480.2,392.9 L481.5,393.7 L482.8,388.6 L484.0,392.1 L485.2,395.0 L486.5,393.2 L487.8,393.9 L489.0,392.0 L490.2,389.6 L491.5,390.2 L492.8,392.9 L494.0,393.3 L495.2,390.9 L496.5,391.7 L497.8,392.3 L499.0,389.8 L500.2,391.7 L501.5,394.8 L502.8,395.7 L504.0,391.9 L505.2,395.1 L506.5,391.4 L507.8,390.8 L509.0,388.6 L510.2,393.1 L511.5,391.1 L512.8,395.0 L514.0,391.8 L515.2,391.7 L516.5,388.8 L517.8,393.6 L519.0,390.7 L520.2,391.1 L521.5,388.0 L522.8,392.9 L524.0,393.3 L525.2,390.9 L526.5,392.1 L527.8,392.3 L529.0,393.5 L530.2,392.4 L531.5,394.8 L532.8,391.5 L534.0,391.2 L535.2,391.4 L536.5,388.4 L537.8,391.1 L539.0,393.7 L540.2,392.4 L541.5,390.6 L542.8,392.4 L544.0,389.0 L545.2,391.2 L546.5,392.2 L547.8,392.5 L549.0,390.2 L550.2,392.8 L551.5,394.1 L552.8,390.7 L554.0,392.5 L555.2,389.0 L556.5,388.3 L557.8,392.3 L559.0,391.2 L560.2,391.6 L561.5,390.4 L562.8,391.2 L564.0,392.8 L565.2,394.0 L566.5,391.3 L567.8,389.3 L569.0,393.7 L570.2,392.8 L571.5,392.8 L572.8,392.2 L574.0,395.5 L575.2,392.3 L576.5,393.3 L577.8,389.9 L579.0,391.9 L580.2,391.8 L581.5,392.9 L582.8,393.6 L584.0,391.8 L585.2,395.7 L586.5,391.5 L587.8,392.2 L589.0,393.2 L590.2,390.9 L591.5,393.5 L592.8,393.4 L594.0,391.8 L595.2,395.1 L596.5,391.8 L597.8,392.2 L599.0,390.4 L600.2,389.6 L601.5,391.4 L602.8,391.9 L604.0,391.8 L605.2,393.7 L606.5,389.0 L607.8,391.1 L609.0,389.9 L610.2,394.5 L611.5,391.7 L612.8,391.7 L614.0,390.8 L615.2,393.9 L616.5,392.1 L617.8,393.2 L619.0,389.8 L620.2,394.7 L621.5,393.9 L622.8,394.2 L624.0,395.3 L625.2,393.2 L626.5,393.5 L627.8,394.8 L629.0,394.7 L630.2,394.0 L631.5,394.3 L632.8,393.5 L634.0,395.3 L635.2,395.7 L636.5,394.5 L637.8,397.1 L639.0,392.1 L640.2,394.0 L641.5,396.8 L642.8,393.8 L644.0,391.8 L645.2,396.1 L646.5,394.7 L647.8,391.9 L649.0,394.9 L650.2,392.4 L651.5,391.6 L652.8,393.5 L654.0,392.7 L655.2,391.7 L656.5,392.9 L657.8,391.7 L659.0,393.1 L660.2,393.0 L661.5,394.0 L662.8,392.4 L664.0,391.0 L665.2,391.5 L666.5,393.2 L667.8,395.8 L669.0,395.3 L670.2,393.4 L671.5,395.7 L672.8,392.7 L674.0,395.9 L675.2,394.0 L676.5,395.4 L677.8,395.0 L679.0,393.9 L680.2,394.4 L681.5,392.2 L682.8,393.3 L684.0,394.7 L685.2,398.5 L686.5,393.7 L687.8,392.7 L689.0,391.1 L690.2,393.3 L691.5,389.6 L692.8,390.6 L694.0,392.0 L695.2,389.8 L696.5,393.1 L697.8,392.3 L699.0,390.0 L700.2,389.6 L701.5,388.7 L702.8,388.4 L704.0,390.4 L705.2,390.4 L706.5,389.6 L707.8,389.0 L709.0,387.7 L710.2,388.4 L711.5,385.9 L712.8,387.2 L714.0,388.5 L715.2,387.9 L716.5,385.1 L717.8,384.7 L719.0,386.5 L720.2,386.2 L721.5,381.9 L722.8,382.6 L724.0,382.7 L725.2,383.2 L726.5,380.4 L727.8,381.8 L729.0,380.3 L730.2,382.8 L731.5,380.2 L732.8,379.2 L734.0,378.5 L735.2,379.6 L736.5,378.7 L737.8,376.0 L739.0,376.7 L740.2,374.3 L741.5,374.3 L742.8,373.0 L744.0,372.4 L745.2,372.7 L746.5,371.8 L747.8,373.2 L749.0,373.1 L750.2,371.5 L751.5,370.1 L752.8,371.8 L754.0,367.9 L755.2,367.3 L756.5,370.2 L757.8,369.5 L759.0,369.5 L760.2,367.8 L761.5,366.1 L762.8,366.8 L764.0,368.1 L765.2,366.4 L766.5,366.6 L767.8,365.2 L769.0,365.3 L770.2,367.4 L771.5,366.4 L772.8,363.9 L774.0,363.4 L775.2,363.8 L776.5,364.6 L777.8,361.9 L779.0,362.7 L780.2,360.0 L781.5,360.6 L782.8,362.2 L784.0,362.3 L785.2,359.5 L786.5,359.1 L787.8,360.3 L789.0,358.6 L790.2,357.9 L791.5,358.5 L792.8,357.4 L794.0,357.5 L795.2,356.3 L796.5,354.2 L797.8,353.6 L799.0,352.6 L800.2,350.4 L801.5,349.6 L802.8,350.2 L804.0,346.8 L805.2,347.6 L806.5,345.7 L807.8,343.7 L809.0,342.5 L810.2,340.5 L811.5,338.0 L812.8,333.2 L814.0,328.3 L815.2,322.9 L816.5,318.0 L817.8,311.5 L819.0,304.1 L820.2,296.5 L821.5,287.8 L822.8,277.8 L824.0,265.7 L825.2,249.1 L826.5,215.0 L827.8,168.2 L829.0,126.5 L830.2,107.1 L831.5,93.7 L832.8,82.4 L834.0,73.3 L835.2,67.2 L836.5,61.2 L837.8,66.9 L839.0,71.8 L840.2,78.9 L841.5,88.0 L842.8,102.7 L844.0,121.6 L845.2,144.7 L846.5,173.8 L847.8,198.7 L849.0,221.1 L850.2,241.2 L851.5,259.6 L852.8,274.6 L854.0,287.7 L855.2,298.8 L856.5,306.1 L857.8,312.5 L859.0,318.5 L860.2,322.6 L861.5,325.5 L862.8,330.1 L864.0,333.1 L865.2,335.9 L866.5,338.5 L867.8,341.0 L869.0,342.8 L870.2,345.3 L871.5,348.4 L872.8,350.2 L874.0,353.2 L875.2,353.7 L876.5,354.2 L877.8,357.5 L879.0,359.7 L880.2,361.4 L881.5,362.8 L882.8,363.3 L884.0,366.4 L885.2,365.3 L886.5,367.5 L887.8,367.3 L889.0,367.0 L890.2,370.6 L891.5,366.5 L892.8,368.7 L894.0,370.8 L895.2,370.5 L896.5,372.3 L897.8,371.5 L899.0,371.4 L900.2,374.8 L901.5,372.0 L902.8,372.7 L904.0,372.0 L905.2,372.8 L906.5,374.7 L907.8,374.9 L909.0,375.0 L910.2,374.2 L911.5,376.3 L912.8,373.6 L914.0,375.9 L915.2,376.2 L916.5,375.6 L917.8,377.0 L919.0,376.2 L920.2,375.8 L921.5,379.5 L922.8,378.2 L924.0,379.3 L925.2,377.5 L926.5,378.8 L927.8,378.6 L929.0,379.5 L930.2,381.3 L931.5,377.6 L932.8,378.6 L934.0,377.9 L935.2,372.7 L936.5,375.9 L937.8,378.0 L939.0,378.9 L940.2,377.1 L941.5,379.6 L942.8,379.9 L944.0,377.6 L945.2,380.6 L946.5,381.2 L947.8,379.4 L949.0,377.1 L950.2,380.9 L951.5,378.2 L952.8,378.0 L954.0,378.7 L955.2,377.8 L956.5,380.1 L957.8,379.4 L959.0,379.9 L960.2,379.0 L961.5,376.8 L962.8,377.4 L964.0,378.3 L965.2,376.4 L966.5,379.7 L967.8,375.4 L969.0,374.6 L970.2,376.1 L971.5,375.3 L972.8,374.0 L974.0,373.4 L975.2,373.8 L976.5,373.9 L977.8,373.6 L979.0,372.2 L980.2,373.0 L981.5,373.7 L982.8,373.4 L984.0,367.7 L985.2,370.8 L986.5,370.9 L987.8,372.0 L989.0,372.6 L990.2,373.5 L991.5,373.5 L992.8,372.2 L994.0,372.2 L995.2,374.7 L996.5,371.7 L997.8,373.0 L999.0,374.7 L1000.2,373.3 L1001.5,370.3 L1002.8,373.6 L1004.0,372.9 L1005.2,373.7 L1006.5,375.6 L1007.8,375.2 L1009.0,374.5 L1010.2,375.8 L1011.5,375.2 L1012.8,374.9 L1014.0,375.4 L1015.2,375.3 L1016.5,374.8 L1017.8,374.7 L1019.0,375.3 L1020.2,374.1 L1021.5,374.2 L1022.8,377.9 L1024.0,376.1 L1025.2,376.4 L1026.5,376.5 L1027.8,376.6 L1029.0,376.8 L1030.2,377.0 L1031.5,376.1 L1032.8,378.5 L1034.0,376.9 L1035.2,379.4 L1036.5,375.6 L1037.8,377.1 L1039.0,380.3 L1040.2,379.0 L1041.5,378.5 L1042.8,379.9 L1044.0,378.7 L1045.2,380.0 L1046.5,377.2 L1047.8,379.8 L1049.0,379.8 L1050.2,381.4 L1051.5,382.0 L1052.8,380.3 L1054.0,383.8 L1055.2,380.9 L1056.5,379.7 L1057.8,379.4 L1059.0,384.7 L1060.2,383.0 L1061.5,382.7 L1062.8,383.0 L1064.0,382.9 L1065.2,386.2 L1066.5,384.9 L1067.8,387.4 L1069.0,385.6 L1070.2,383.1 L1071.5,387.5 L1072.8,386.2 L1074.0,386.7 L1075.2,389.1 L1076.5,387.1 L1077.8,389.0 L1079.0,387.6 L1080.2,386.8 L1081.5,388.6 L1082.8,387.6 L1084.0,390.1 L1085.2,390.1 L1086.5,389.4 L1087.8,390.5 L1089.0,390.9 L1090.2,390.4 L1091.5,392.2 L1092.8,391.5 L1094.0,392.9 L1095.2,391.6 L1096.5,393.3 L1097.8,394.0 L1099.0,392.7 L1100.2,393.5 L1101.5,393.8 L1102.8,395.7 L1104.0,394.0 L1105.2,395.7 L1106.5,397.3 L1107.8,395.8 L1109.0,393.0 L1110.2,395.5 L1111.5,396.6 L1112.8,394.5 L1114.0,396.5 L1115.2,395.5 L1116.5,394.9 L1117.8,393.7 L1119.0,393.1 L1120.2,393.3 L1121.5,393.9 L1122.8,394.6 L1124.0,394.4 L1125.2,393.2 L1126.5,393.8 L1127.8,394.2 L1129.0,391.6 L1130.2,392.5 L1131.5,392.4 L1132.8,393.1 L1134.0,393.1 L1135.2,392.9 L1136.5,392.0 L1137.8,394.4 L1139.0,393.7 L1140.2,390.4 L1141.5,393.1 L1142.8,391.3 L1144.0,395.5 L1145.2,392.1 L1146.5,392.5 L1147.8,393.2 L1149.0,392.5 L1150.2,392.7 L1151.5,395.2 L1152.8,393.4 L1154.0,394.6 L1155.2,394.9 L1156.5,392.0 L1157.8,395.6 L1159.0,394.1 L1160.2,394.9 L1161.5,392.0 L1162.8,394.7 L1164.0,394.1 L1165.2,392.2 L1166.5,395.9 L1167.8,393.1 L1169.0,392.1 L1170.2,392.4 L1171.5,392.9 L1172.8,393.2 L1174.0,392.1 L1175.2,392.5 L1176.5,392.8 L1177.8,389.3 L1179.0,390.0 L1180.2,389.2 L1181.5,390.2 L1182.8,391.5 L1184.0,390.1 L1185.2,387.7 L1186.5,388.1 L1187.8,389.3 L1189.0,386.8 L1190.2,387.0 L1191.5,386.9 L1192.8,384.0 L1194.0,386.4 L1195.2,385.1 L1196.5,384.8 L1197.8,382.6 L1199.0,381.9 L1200.2,381.2 L1201.5,381.1 L1202.8,379.9 L1204.0,379.0 L1205.2,379.5 L1206.5,377.8 L1207.8,374.7 L1209.0,373.3 L1210.2,373.5 L1211.5,370.4 L1212.8,369.9 L1214.0,368.3 L1215.2,364.9 L1216.5,363.2 L1217.8,361.6 L1219.0,359.3 L1220.2,357.4 L1221.5,356.3 L1222.8,355.6 L1224.0,353.0 L1225.2,351.5 L1226.5,350.0 L1227.8,348.1 L1229.0,349.3 L1230.2,344.8 L1231.5,345.7 L1232.8,347.3 L1234.0,346.4 L1235.2,349.4 L1236.5,351.6 L1237.8,351.7 L1239.0,354.2 L1240.2,354.6 L1241.5,357.1 L1242.8,358.0 L1244.0,359.4 L1245.2,361.4 L1246.5,362.0 L1247.8,363.9 L1249.0,364.6 L1250.2,364.1 L1251.5,366.6 L1252.8,367.9 L1254.0,367.0 L1255.2,370.5 L1256.5,370.2 L1257.8,371.2 L1259.0,371.0 L1260.2,372.7 L1261.5,373.7 L1262.8,373.9 L1264.0,375.1 L1265.2,373.6 L1266.5,377.9 L1267.8,376.1 L1269.0,375.6 L1270.2,377.4 L1271.5,377.8 L1272.8,379.7 L1274.0,378.2 L1275.2,379.9 L1276.5,378.4 L1277.8,382.6 L1279.0,380.7 L1280.2,382.7 L1281.5,378.9 L1282.8,381.4 L1284.0,379.6 L1285.2,381.6 L1286.5,382.2 L1287.8,379.3 L1289.0,380.3 L1290.2,380.6 L1291.5,380.5 L1292.8,381.7 L1294.0,381.6 L1295.2,381.3 L1296.5,383.7 L1297.8,384.3 L1299.0,382.2 L1300.2,383.1 L1301.5,383.9 L1302.8,383.8 L1304.0,383.4 L1305.2,385.5 L1306.5,385.7 L1307.8,385.7 L1309.0,384.7 L1310.2,387.6 L1311.5,387.6 L1312.8,384.9 L1314.0,385.5 L1315.2,387.3 L1316.5,385.0 L1317.8,386.7 L1319.0,386.5 L1320.2,385.8 L1321.5,386.6 L1322.8,384.8 L1324.0,386.3 L1325.2,384.2 L1326.5,390.5 L1327.8,389.5 L1329.0,389.5 L1330.2,388.2 L1331.5,389.3 L1332.8,389.5 L1334.0,389.2 L1335.2,389.1 L1336.5,386.7 L1337.8,388.5 L1339.0,386.9 L1340.2,386.1 L1341.5,386.2 L1342.8,388.3 L1344.0,389.7 L1345.2,386.7 L1346.5,391.3 L1347.8,391.2 L1349.0,388.7 L1350.2,389.1 L1351.5,389.5 L1352.8,391.0 L1354.0,389.3 L1355.2,388.0 L1356.5,390.3 L1357.8,386.7 L1359.0,389.8 L1360.2,391.4 L1361.5,390.1 L1362.8,391.1 L1364.0,391.0 L1365.2,391.7 L1366.5,390.9 L1367.8,389.3 L1369.0,390.5 L1370.2,390.7 L1371.5,392.5 L1372.8,392.8 L1374.0,390.7 L1375.2,388.8 L1376.5,388.3 L1377.8,388.7 L1379.0,390.5 L1380.2,388.6 L1381.5,388.2 L1382.8,387.2 L1384.0,389.2 L1385.2,388.2 L1386.5,387.5 L1387.8,387.7 L1389.0,389.7 L1390.2,387.0 L1391.5,389.4 L1392.8,388.5 L1394.0,386.4 L1395.2,387.3 L1396.5,385.6 L1397.8,384.5 L1399.0,385.2 L1400.2,384.1 L1401.5,386.1 L1402.8,385.6 L1404.0,386.3 L1405.2,386.9 L1406.5,380.8 L1407.8,386.2 L1409.0,383.3 L1410.2,385.9 L1411.5,384.4 L1412.8,386.0 L1414.0,387.7 L1415.2,383.2 L1416.5,386.0 L1417.8,385.9 L1419.0,383.4 L1420.2,386.9 L1421.5,386.4 L1422.8,386.1 L1424.0,385.8 L1425.2,391.3 L1426.5,386.6 L1427.8,384.8 L1429.0,386.0 L1430.2,387.1 L1431.5,387.1 L1432.8,387.9 L1434.0,386.6 L1435.2,389.1 L1436.5,388.2 L1437.8,387.1 L1439.0,388.1 L1440.2,389.0 L1441.5,390.8 L1442.8,390.9 L1444.0,389.8 L1445.2,390.7 L1446.5,391.1 L1447.8,393.7 L1449.0,390.9 L1450.0,392.5" fill="none" stroke="#1b66dc" stroke-width="5.2" stroke-linejoin="round" stroke-linecap="butt"/>
<line x1="837.5" y1="42.5" x2="837.5" y2="760" stroke="#000" stroke-width="6" stroke-dasharray="41 34"/>
<line x1="1009.3" y1="332" x2="1009.3" y2="1030" stroke="#000" stroke-width="6" stroke-dasharray="41 34"/>
<line x1="1233" y1="331" x2="1233" y2="970" stroke="#000" stroke-width="6" stroke-dasharray="41 34"/>
<text x="145.3" y="162.2" style="font-size:130px">(a)</text>
<text x="129.3" y="1117.3" text-anchor="middle">150</text>
<text x="348.8" y="1117.3" text-anchor="middle">120</text>
<text x="568.2" y="1117.3" text-anchor="middle">90</text>
<text x="787.6" y="1117.3" text-anchor="middle">60</text>
<text x="1007.1" y="1117.3" text-anchor="middle">30</text>
<text x="1226.5" y="1117.3" text-anchor="middle">0</text>
<text x="1446.0" y="1117.3" text-anchor="middle">−30</text>
<rect x="132.5" y="1231" width="1320.0" height="1018.5" fill="none" stroke="#000" stroke-width="6.5"/>
<rect x="129.25" y="2252.25" width="6.5" height="11.5" fill="#000"/>
<rect x="349.25" y="2252.25" width="6.5" height="11.5" fill="#000"/>
<rect x="569.25" y="2252.25" width="6.5" height="11.5" fill="#000"/>
<rect x="789.25" y="2252.25" width="6.5" height="11.5" fill="#000"/>
<rect x="1009.25" y="2252.25" width="6.5" height="11.5" fill="#000"/>
<rect x="1229.25" y="2252.25" width="6.5" height="11.5" fill="#000"/>
<rect x="1449.25" y="2252.25" width="6.5" height="11.5" fill="#000"/>
<rect x="239.25" y="2252.25" width="6.5" height="4" fill="#000"/>
<rect x="459.25" y="2252.25" width="6.5" height="4" fill="#000"/>
<rect x="679.25" y="2252.25" width="6.5" height="4" fill="#000"/>
<rect x="899.25" y="2252.25" width="6.5" height="4" fill="#000"/>
<rect x="1119.25" y="2252.25" width="6.5" height="4" fill="#000"/>
<rect x="1339.25" y="2252.25" width="6.5" height="4" fill="#000"/>
<path d="M134.0,2190.2 L135.2,2188.8 L136.5,2187.9 L137.8,2187.9 L139.0,2190.5 L140.2,2190.6 L141.5,2188.1 L142.8,2187.3 L144.0,2191.2 L145.2,2187.3 L146.5,2189.6 L147.8,2187.9 L149.0,2186.5 L150.2,2189.2 L151.5,2188.4 L152.8,2190.9 L154.0,2191.8 L155.2,2188.3 L156.5,2190.2 L157.8,2190.4 L159.0,2188.1 L160.2,2187.4 L161.5,2191.1 L162.8,2188.4 L164.0,2188.8 L165.2,2188.8 L166.5,2188.8 L167.8,2188.1 L169.0,2189.9 L170.2,2190.5 L171.5,2188.2 L172.8,2186.6 L174.0,2188.8 L175.2,2186.8 L176.5,2188.3 L177.8,2191.0 L179.0,2192.7 L180.2,2190.2 L181.5,2188.3 L182.8,2191.1 L184.0,2186.8 L185.2,2189.0 L186.5,2192.1 L187.8,2190.6 L189.0,2187.4 L190.2,2186.7 L191.5,2190.4 L192.8,2189.0 L194.0,2188.3 L195.2,2189.9 L196.5,2188.3 L197.8,2186.5 L199.0,2190.4 L200.2,2188.4 L201.5,2188.0 L202.8,2187.3 L204.0,2189.4 L205.2,2187.6 L206.5,2189.3 L207.8,2188.1 L209.0,2189.5 L210.2,2187.5 L211.5,2186.6 L212.8,2184.7 L214.0,2185.5 L215.2,2187.6 L216.5,2190.5 L217.8,2184.7 L219.0,2184.6 L220.2,2186.5 L221.5,2186.4 L222.8,2184.8 L224.0,2185.3 L225.2,2183.2 L226.5,2184.5 L227.8,2185.9 L229.0,2186.5 L230.2,2184.0 L231.5,2183.3 L232.8,2184.0 L234.0,2184.5 L235.2,2183.5 L236.5,2181.5 L237.8,2182.5 L239.0,2182.7 L240.2,2180.5 L241.5,2179.2 L242.8,2181.2 L244.0,2180.5 L245.2,2180.9 L246.5,2179.5 L247.8,2178.3 L249.0,2178.3 L250.2,2177.3 L251.5,2177.1 L252.8,2177.6 L254.0,2177.3 L255.2,2179.0 L256.5,2175.7 L257.8,2176.9 L259.0,2176.0 L260.2,2178.7 L261.5,2177.0 L262.8,2176.0 L264.0,2177.5 L265.2,2176.3 L266.5,2175.5 L267.8,2178.8 L269.0,2177.5 L270.2,2178.9 L271.5,2178.1 L272.8,2177.7 L274.0,2177.1 L275.2,2175.8 L276.5,2178.5 L277.8,2177.8 L279.0,2178.6 L280.2,2178.2 L281.5,2177.5 L282.8,2177.4 L284.0,2179.8 L285.2,2180.6 L286.5,2179.0 L287.8,2180.2 L289.0,2181.8 L290.2,2179.1 L291.5,2180.2 L292.8,2179.7 L294.0,2182.8 L295.2,2182.0 L296.5,2181.4 L297.8,2180.0 L299.0,2182.1 L300.2,2183.8 L301.5,2182.5 L302.8,2182.5 L304.0,2183.9 L305.2,2181.7 L306.5,2183.7 L307.8,2184.4 L309.0,2182.9 L310.2,2182.9 L311.5,2184.7 L312.8,2184.5 L314.0,2184.4 L315.2,2185.3 L316.5,2185.3 L317.8,2183.8 L319.0,2184.4 L320.2,2186.1 L321.5,2187.4 L322.8,2187.7 L324.0,2185.0 L325.2,2187.8 L326.5,2187.5 L327.8,2186.9 L329.0,2187.9 L330.2,2188.6 L331.5,2189.8 L332.8,2186.0 L334.0,2188.4 L335.2,2187.5 L336.5,2187.5 L337.8,2189.5 L339.0,2189.0 L340.2,2186.6 L341.5,2187.8 L342.8,2188.7 L344.0,2186.4 L345.2,2189.9 L346.5,2188.7 L347.8,2189.2 L349.0,2189.7 L350.2,2191.9 L351.5,2189.4 L352.8,2188.7 L354.0,2191.6 L355.2,2188.7 L356.5,2188.8 L357.8,2187.2 L359.0,2190.9 L360.2,2189.5 L361.5,2190.0 L362.8,2189.6 L364.0,2189.2 L365.2,2188.4 L366.5,2188.2 L367.8,2189.8 L369.0,2189.6 L370.2,2191.7 L371.5,2188.3 L372.8,2188.4 L374.0,2187.6 L375.2,2191.1 L376.5,2187.2 L377.8,2190.2 L379.0,2191.0 L380.2,2188.6 L381.5,2189.8 L382.8,2185.6 L384.0,2188.2 L385.2,2186.3 L386.5,2189.1 L387.8,2188.7 L389.0,2187.5 L390.2,2190.0 L391.5,2189.2 L392.8,2188.0 L394.0,2188.0 L395.2,2186.7 L396.5,2188.8 L397.8,2192.1 L399.0,2188.1 L400.2,2189.6 L401.5,2188.3 L402.8,2190.5 L404.0,2190.0 L405.2,2188.8 L406.5,2186.5 L407.8,2188.1 L409.0,2190.6 L410.2,2188.4 L411.5,2189.4 L412.8,2187.7 L414.0,2185.5 L415.2,2188.9 L416.5,2188.5 L417.8,2187.1 L419.0,2187.1 L420.2,2188.3 L421.5,2187.1 L422.8,2188.6 L424.0,2188.0 L425.2,2184.6 L426.5,2187.8 L427.8,2187.4 L429.0,2186.9 L430.2,2189.0 L431.5,2187.3 L432.8,2188.9 L434.0,2189.8 L435.2,2188.2 L436.5,2185.6 L437.8,2186.9 L439.0,2189.4 L440.2,2187.7 L441.5,2187.0 L442.8,2188.2 L444.0,2188.9 L445.2,2188.5 L446.5,2189.1 L447.8,2187.4 L449.0,2188.0 L450.2,2187.6 L451.5,2188.3 L452.8,2185.2 L454.0,2187.7 L455.2,2186.1 L456.5,2190.0 L457.8,2190.3 L459.0,2190.3 L460.2,2189.0 L461.5,2187.3 L462.8,2189.0 L464.0,2187.3 L465.2,2188.6 L466.5,2186.7 L467.8,2187.2 L469.0,2188.8 L470.2,2190.7 L471.5,2187.9 L472.8,2191.6 L474.0,2192.4 L475.2,2186.2 L476.5,2188.1 L477.8,2186.6 L479.0,2187.7 L480.2,2187.2 L481.5,2188.0 L482.8,2189.6 L484.0,2189.6 L485.2,2188.8 L486.5,2188.6 L487.8,2188.9 L489.0,2189.0 L490.2,2190.0 L491.5,2188.9 L492.8,2189.6 L494.0,2187.0 L495.2,2189.8 L496.5,2190.8 L497.8,2188.6 L499.0,2186.3 L500.2,2190.2 L501.5,2187.7 L502.8,2183.9 L504.0,2188.0 L505.2,2189.3 L506.5,2189.0 L507.8,2190.5 L509.0,2189.6 L510.2,2188.9 L511.5,2186.0 L512.8,2187.0 L514.0,2189.0 L515.2,2189.6 L516.5,2187.1 L517.8,2187.7 L519.0,2189.5 L520.2,2186.1 L521.5,2186.1 L522.8,2188.7 L524.0,2189.7 L525.2,2188.8 L526.5,2186.2 L527.8,2189.5 L529.0,2187.6 L530.2,2190.3 L531.5,2189.1 L532.8,2189.5 L534.0,2189.7 L535.2,2188.0 L536.5,2189.8 L537.8,2190.4 L539.0,2189.5 L540.2,2190.7 L541.5,2188.0 L542.8,2190.5 L544.0,2189.5 L545.2,2187.8 L546.5,2188.9 L547.8,2188.1 L549.0,2188.4 L550.2,2189.3 L551.5,2190.8 L552.8,2188.6 L554.0,2189.2 L555.2,2187.1 L556.5,2189.4 L557.8,2190.9 L559.0,2190.5 L560.2,2189.9 L561.5,2188.4 L562.8,2188.1 L564.0,2189.5 L565.2,2187.5 L566.5,2187.4 L567.8,2190.9 L569.0,2188.0 L570.2,2192.4 L571.5,2187.5 L572.8,2190.2 L574.0,2187.4 L575.2,2189.6 L576.5,2188.1 L577.8,2189.7 L579.0,2189.4 L580.2,2189.4 L581.5,2190.6 L582.8,2192.0 L584.0,2188.8 L585.2,2191.1 L586.5,2189.8 L587.8,2189.3 L589.0,2192.6 L590.2,2185.8 L591.5,2187.7 L592.8,2185.9 L594.0,2188.3 L595.2,2188.5 L596.5,2194.4 L597.8,2189.3 L599.0,2191.6 L600.2,2190.9 L601.5,2188.4 L602.8,2190.0 L604.0,2192.0 L605.2,2189.6 L606.5,2189.7 L607.8,2190.3 L609.0,2187.3 L610.2,2188.2 L611.5,2190.1 L612.8,2190.5 L614.0,2188.2 L615.2,2189.1 L616.5,2189.6 L617.8,2189.4 L619.0,2190.9 L620.2,2189.8 L621.5,2189.8 L622.8,2187.3 L624.0,2187.9 L625.2,2190.1 L626.5,2187.2 L627.8,2189.8 L629.0,2188.6 L630.2,2188.2 L631.5,2190.5 L632.8,2188.7 L634.0,2188.0 L635.2,2187.8 L636.5,2188.4 L637.8,2191.5 L639.0,2185.0 L640.2,2187.1 L641.5,2186.3 L642.8,2187.1 L644.0,2185.1 L645.2,2182.2 L646.5,2186.7 L647.8,2183.5 L649.0,2184.4 L650.2,2182.5 L651.5,2182.5 L652.8,2183.0 L654.0,2184.4 L655.2,2184.2 L656.5,2182.4 L657.8,2183.3 L659.0,2181.8 L660.2,2182.3 L661.5,2182.1 L662.8,2182.5 L664.0,2180.4 L665.2,2180.6 L666.5,2180.5 L667.8,2180.2 L669.0,2178.9 L670.2,2182.2 L671.5,2178.9 L672.8,2180.7 L674.0,2180.0 L675.2,2181.4 L676.5,2176.7 L677.8,2182.6 L679.0,2179.0 L680.2,2177.4 L681.5,2179.7 L682.8,2182.8 L684.0,2180.0 L685.2,2177.2 L686.5,2178.4 L687.8,2181.1 L689.0,2177.1 L690.2,2178.7 L691.5,2178.7 L692.8,2181.9 L694.0,2178.4 L695.2,2180.6 L696.5,2177.9 L697.8,2177.6 L699.0,2180.0 L700.2,2179.8 L701.5,2176.7 L702.8,2179.7 L704.0,2179.8 L705.2,2177.6 L706.5,2178.5 L707.8,2178.4 L709.0,2177.5 L710.2,2177.3 L711.5,2176.7 L712.8,2177.1 L714.0,2175.7 L715.2,2177.2 L716.5,2174.9 L717.8,2177.2 L719.0,2176.8 L720.2,2175.3 L721.5,2177.4 L722.8,2178.6 L724.0,2177.6 L725.2,2173.9 L726.5,2177.2 L727.8,2175.9 L729.0,2175.2 L730.2,2174.1 L731.5,2174.5 L732.8,2176.2 L734.0,2175.0 L735.2,2173.4 L736.5,2172.8 L737.8,2172.8 L739.0,2173.7 L740.2,2175.2 L741.5,2171.2 L742.8,2172.3 L744.0,2171.7 L745.2,2171.0 L746.5,2171.9 L747.8,2171.8 L749.0,2169.1 L750.2,2169.5 L751.5,2171.4 L752.8,2170.0 L754.0,2169.9 L755.2,2168.1 L756.5,2167.9 L757.8,2168.6 L759.0,2167.1 L760.2,2165.9 L761.5,2166.4 L762.8,2167.1 L764.0,2164.4 L765.2,2166.2 L766.5,2165.4 L767.8,2163.0 L769.0,2163.4 L770.2,2162.4 L771.5,2162.1 L772.8,2161.4 L774.0,2158.8 L775.2,2157.9 L776.5,2158.7 L777.8,2156.6 L779.0,2155.6 L780.2,2154.0 L781.5,2153.3 L782.8,2149.8 L784.0,2149.7 L785.2,2146.5 L786.5,2145.5 L787.8,2143.8 L789.0,2139.7 L790.2,2137.5 L791.5,2133.8 L792.8,2130.2 L794.0,2126.5 L795.2,2122.0 L796.5,2117.9 L797.8,2114.1 L799.0,2109.3 L800.2,2103.7 L801.5,2098.2 L802.8,2094.3 L804.0,2088.8 L805.2,2083.6 L806.5,2078.1 L807.8,2073.2 L809.0,2068.3 L810.2,2062.9 L811.5,2058.7 L812.8,2052.9 L814.0,2047.0 L815.2,2039.9 L816.5,2033.0 L817.8,2025.3 L819.0,2016.7 L820.2,2005.6 L821.5,1992.1 L822.8,1970.5 L824.0,1937.8 L825.2,1898.5 L826.5,1871.6 L827.8,1855.5 L829.0,1843.7 L830.2,1834.2 L831.5,1824.3 L832.8,1816.5 L834.0,1813.2 L835.2,1817.6 L836.5,1827.2 L837.8,1837.2 L839.0,1848.3 L840.2,1860.8 L841.5,1874.0 L842.8,1887.6 L844.0,1902.2 L845.2,1917.5 L846.5,1933.8 L847.8,1951.3 L849.0,1969.5 L850.2,1988.4 L851.5,2007.5 L852.8,2027.3 L854.0,2046.0 L855.2,2063.9 L856.5,2078.7 L857.8,2091.0 L859.0,2100.6 L860.2,2108.2 L861.5,2114.8 L862.8,2121.3 L864.0,2125.6 L865.2,2130.0 L866.5,2132.8 L867.8,2136.3 L869.0,2139.1 L870.2,2141.7 L871.5,2143.9 L872.8,2146.5 L874.0,2149.5 L875.2,2150.3 L876.5,2152.1 L877.8,2153.6 L879.0,2157.3 L880.2,2158.2 L881.5,2159.0 L882.8,2160.7 L884.0,2161.0 L885.2,2162.8 L886.5,2164.5 L887.8,2165.5 L889.0,2165.9 L890.2,2167.1 L891.5,2169.2 L892.8,2169.8 L894.0,2168.0 L895.2,2170.9 L896.5,2172.8 L897.8,2171.3 L899.0,2172.9 L900.2,2171.5 L901.5,2174.4 L902.8,2172.7 L904.0,2173.1 L905.2,2174.6 L906.5,2178.1 L907.8,2175.0 L909.0,2174.6 L910.2,2177.0 L911.5,2177.1 L912.8,2179.0 L914.0,2176.0 L915.2,2175.8 L916.5,2177.9 L917.8,2179.0 L919.0,2179.1 L920.2,2180.7 L921.5,2177.5 L922.8,2178.5 L924.0,2180.0 L925.2,2181.3 L926.5,2181.3 L927.8,2180.2 L929.0,2179.7 L930.2,2182.4 L931.5,2182.6 L932.8,2185.3 L934.0,2182.0 L935.2,2184.5 L936.5,2181.3 L937.8,2182.4 L939.0,2182.5 L940.2,2183.0 L941.5,2182.6 L942.8,2183.1 L944.0,2183.9 L945.2,2183.4 L946.5,2184.7 L947.8,2183.6 L949.0,2184.0 L950.2,2186.3 L951.5,2185.0 L952.8,2185.0 L954.0,2185.2 L955.2,2185.6 L956.5,2186.7 L957.8,2185.3 L959.0,2188.3 L960.2,2189.0 L961.5,2188.5 L962.8,2186.4 L964.0,2185.2 L965.2,2186.8 L966.5,2187.9 L967.8,2188.9 L969.0,2187.8 L970.2,2187.7 L971.5,2190.5 L972.8,2187.6 L974.0,2190.5 L975.2,2190.3 L976.5,2187.4 L977.8,2189.5 L979.0,2188.4 L980.2,2187.8 L981.5,2186.3 L982.8,2186.6 L984.0,2189.6 L985.2,2188.2 L986.5,2189.2 L987.8,2187.7 L989.0,2188.9 L990.2,2189.0 L991.5,2187.4 L992.8,2187.4 L994.0,2190.4 L995.2,2189.9 L996.5,2188.4 L997.8,2189.7 L999.0,2190.6 L1000.2,2192.2 L1001.5,2188.2 L1002.8,2190.2 L1004.0,2192.5 L1005.2,2189.5 L1006.5,2191.5 L1007.8,2185.5 L1009.0,2191.4 L1010.2,2189.0 L1011.5,2186.4 L1012.8,2190.3 L1014.0,2190.6 L1015.2,2190.8 L1016.5,2190.7 L1017.8,2189.0 L1019.0,2188.0 L1020.2,2188.4 L1021.5,2189.1 L1022.8,2189.8 L1024.0,2188.7 L1025.2,2189.6 L1026.5,2191.0 L1027.8,2190.3 L1029.0,2193.2 L1030.2,2193.0 L1031.5,2188.5 L1032.8,2189.6 L1034.0,2188.5 L1035.2,2188.5 L1036.5,2191.1 L1037.8,2189.0 L1039.0,2188.9 L1040.2,2190.2 L1041.5,2192.0 L1042.8,2190.0 L1044.0,2190.1 L1045.2,2191.8 L1046.5,2191.3 L1047.8,2191.1 L1049.0,2191.9 L1050.2,2189.0 L1051.5,2190.7 L1052.8,2189.4 L1054.0,2191.7 L1055.2,2191.2 L1056.5,2188.3 L1057.8,2191.8 L1059.0,2188.1 L1060.2,2191.3 L1061.5,2189.8 L1062.8,2188.1 L1064.0,2187.6 L1065.2,2188.8 L1066.5,2189.2 L1067.8,2188.4 L1069.0,2190.3 L1070.2,2187.5 L1071.5,2189.3 L1072.8,2189.4 L1074.0,2186.6 L1075.2,2189.9 L1076.5,2187.6 L1077.8,2185.7 L1079.0,2188.3 L1080.2,2188.7 L1081.5,2190.6 L1082.8,2188.7 L1084.0,2191.5 L1085.2,2191.7 L1086.5,2191.2 L1087.8,2191.7 L1089.0,2190.2 L1090.2,2188.8 L1091.5,2191.1 L1092.8,2191.3 L1094.0,2190.2 L1095.2,2189.5 L1096.5,2187.6 L1097.8,2190.7 L1099.0,2190.1 L1100.2,2187.8 L1101.5,2190.1 L1102.8,2190.6 L1104.0,2189.4 L1105.2,2190.6 L1106.5,2190.2 L1107.8,2186.9 L1109.0,2188.6 L1110.2,2189.7 L1111.5,2190.6 L1112.8,2191.1 L1114.0,2186.3 L1115.2,2189.1 L1116.5,2190.4 L1117.8,2191.5 L1119.0,2191.9 L1120.2,2188.4 L1121.5,2189.2 L1122.8,2187.8 L1124.0,2190.3 L1125.2,2187.2 L1126.5,2190.4 L1127.8,2189.9 L1129.0,2189.2 L1130.2,2185.8 L1131.5,2187.3 L1132.8,2189.1 L1134.0,2186.0 L1135.2,2187.3 L1136.5,2187.2 L1137.8,2188.5 L1139.0,2187.4 L1140.2,2187.1 L1141.5,2185.6 L1142.8,2186.0 L1144.0,2185.6 L1145.2,2186.8 L1146.5,2185.5 L1147.8,2187.0 L1149.0,2183.3 L1150.2,2186.9 L1151.5,2184.8 L1152.8,2186.5 L1154.0,2185.0 L1155.2,2186.0 L1156.5,2186.8 L1157.8,2183.8 L1159.0,2184.4 L1160.2,2184.0 L1161.5,2184.6 L1162.8,2182.0 L1164.0,2184.0 L1165.2,2183.9 L1166.5,2183.1 L1167.8,2183.8 L1169.0,2181.9 L1170.2,2185.7 L1171.5,2184.0 L1172.8,2185.8 L1174.0,2181.7 L1175.2,2181.0 L1176.5,2182.8 L1177.8,2179.9 L1179.0,2182.1 L1180.2,2180.8 L1181.5,2181.1 L1182.8,2181.8 L1184.0,2181.5 L1185.2,2183.9 L1186.5,2182.1 L1187.8,2179.4 L1189.0,2181.9 L1190.2,2178.7 L1191.5,2180.0 L1192.8,2178.2 L1194.0,2178.1 L1195.2,2180.0 L1196.5,2177.4 L1197.8,2176.7 L1199.0,2176.3 L1200.2,2176.0 L1201.5,2177.6 L1202.8,2174.2 L1204.0,2173.7 L1205.2,2175.3 L1206.5,2172.4 L1207.8,2172.9 L1209.0,2173.8 L1210.2,2172.0 L1211.5,2170.5 L1212.8,2169.3 L1214.0,2167.8 L1215.2,2166.8 L1216.5,2165.9 L1217.8,2164.6 L1219.0,2161.8 L1220.2,2157.8 L1221.5,2153.6 L1222.8,2149.2 L1224.0,2140.8 L1225.2,2123.0 L1226.5,2106.7 L1227.8,2099.0 L1229.0,2092.9 L1230.2,2089.0 L1231.5,2084.7 L1232.8,2088.0 L1234.0,2092.5 L1235.2,2098.7 L1236.5,2104.9 L1237.8,2114.9 L1239.0,2127.3 L1240.2,2139.2 L1241.5,2146.2 L1242.8,2149.8 L1244.0,2153.0 L1245.2,2157.0 L1246.5,2158.8 L1247.8,2160.4 L1249.0,2162.8 L1250.2,2162.7 L1251.5,2164.7 L1252.8,2165.2 L1254.0,2165.0 L1255.2,2167.1 L1256.5,2165.2 L1257.8,2168.2 L1259.0,2167.2 L1260.2,2169.2 L1261.5,2170.8 L1262.8,2170.4 L1264.0,2169.5 L1265.2,2170.5 L1266.5,2170.8 L1267.8,2170.4 L1269.0,2171.0 L1270.2,2172.9 L1271.5,2173.8 L1272.8,2171.4 L1274.0,2173.8 L1275.2,2175.1 L1276.5,2175.0 L1277.8,2173.7 L1279.0,2176.5 L1280.2,2173.7 L1281.5,2175.9 L1282.8,2177.3 L1284.0,2172.6 L1285.2,2175.6 L1286.5,2175.5 L1287.8,2175.6 L1289.0,2174.5 L1290.2,2175.1 L1291.5,2173.2 L1292.8,2175.8 L1294.0,2176.4 L1295.2,2174.8 L1296.5,2174.5 L1297.8,2175.4 L1299.0,2175.9 L1300.2,2176.2 L1301.5,2176.0 L1302.8,2176.8 L1304.0,2174.5 L1305.2,2172.6 L1306.5,2177.4 L1307.8,2179.0 L1309.0,2174.9 L1310.2,2176.2 L1311.5,2177.6 L1312.8,2178.6 L1314.0,2178.2 L1315.2,2179.3 L1316.5,2177.6 L1317.8,2178.4 L1319.0,2178.2 L1320.2,2177.2 L1321.5,2179.3 L1322.8,2178.6 L1324.0,2179.1 L1325.2,2177.1 L1326.5,2179.2 L1327.8,2176.4 L1329.0,2178.5 L1330.2,2174.5 L1331.5,2176.5 L1332.8,2179.3 L1334.0,2177.7 L1335.2,2178.7 L1336.5,2176.1 L1337.8,2180.6 L1339.0,2179.4 L1340.2,2178.6 L1341.5,2179.1 L1342.8,2179.3 L1344.0,2181.0 L1345.2,2179.4 L1346.5,2177.1 L1347.8,2179.0 L1349.0,2181.1 L1350.2,2179.9 L1351.5,2178.4 L1352.8,2179.7 L1354.0,2178.9 L1355.2,2179.3 L1356.5,2175.9 L1357.8,2176.6 L1359.0,2178.6 L1360.2,2177.2 L1361.5,2177.6 L1362.8,2179.8 L1364.0,2176.6 L1365.2,2177.1 L1366.5,2176.1 L1367.8,2176.0 L1369.0,2176.4 L1370.2,2174.8 L1371.5,2173.7 L1372.8,2178.7 L1374.0,2176.6 L1375.2,2178.0 L1376.5,2176.5 L1377.8,2176.2 L1379.0,2176.7 L1380.2,2176.6 L1381.5,2173.6 L1382.8,2176.5 L1384.0,2173.5 L1385.2,2174.5 L1386.5,2177.4 L1387.8,2174.0 L1389.0,2176.3 L1390.2,2173.5 L1391.5,2174.6 L1392.8,2173.8 L1394.0,2174.0 L1395.2,2172.0 L1396.5,2172.0 L1397.8,2173.7 L1399.0,2171.3 L1400.2,2172.1 L1401.5,2173.9 L1402.8,2173.1 L1404.0,2173.5 L1405.2,2173.9 L1406.5,2175.8 L1407.8,2175.9 L1409.0,2177.0 L1410.2,2177.1 L1411.5,2180.1 L1412.8,2178.3 L1414.0,2177.1 L1415.2,2179.5 L1416.5,2179.8 L1417.8,2180.5 L1419.0,2178.2 L1420.2,2182.1 L1421.5,2181.0 L1422.8,2181.0 L1424.0,2179.1 L1425.2,2182.0 L1426.5,2181.8 L1427.8,2183.9 L1429.0,2181.5 L1430.2,2180.8 L1431.5,2182.7 L1432.8,2181.2 L1434.0,2183.3 L1435.2,2181.4 L1436.5,2182.6 L1437.8,2182.4 L1439.0,2182.8 L1440.2,2182.1 L1441.5,2181.7 L1442.8,2182.8 L1444.0,2182.2 L1445.2,2183.5 L1446.5,2183.1 L1447.8,2180.4 L1449.0,2183.8 L1450.0,2185.7" fill="none" stroke="#505050" stroke-width="5.2" stroke-linejoin="round" stroke-linecap="butt"/>
<path d="M134.0,1882.1 L135.2,1880.5 L136.5,1880.5 L137.8,1877.0 L139.0,1878.2 L140.2,1879.3 L141.5,1879.6 L142.8,1877.8 L144.0,1878.8 L145.2,1879.3 L146.5,1881.9 L147.8,1881.5 L149.0,1880.5 L150.2,1880.7 L151.5,1881.3 L152.8,1879.8 L154.0,1880.4 L155.2,1878.3 L156.5,1881.6 L157.8,1882.0 L159.0,1881.0 L160.2,1881.0 L161.5,1881.0 L162.8,1883.6 L164.0,1880.9 L165.2,1879.0 L166.5,1879.4 L167.8,1882.1 L169.0,1882.6 L170.2,1882.3 L171.5,1882.5 L172.8,1881.6 L174.0,1879.2 L175.2,1880.3 L176.5,1878.5 L177.8,1880.5 L179.0,1879.0 L180.2,1881.4 L181.5,1880.6 L182.8,1878.0 L184.0,1882.0 L185.2,1882.2 L186.5,1879.5 L187.8,1881.5 L189.0,1882.3 L190.2,1881.0 L191.5,1882.3 L192.8,1881.8 L194.0,1883.1 L195.2,1881.8 L196.5,1881.2 L197.8,1882.0 L199.0,1882.6 L200.2,1881.9 L201.5,1880.9 L202.8,1880.4 L204.0,1880.8 L205.2,1880.3 L206.5,1881.2 L207.8,1881.2 L209.0,1880.9 L210.2,1880.9 L211.5,1881.2 L212.8,1883.1 L214.0,1883.0 L215.2,1880.2 L216.5,1882.1 L217.8,1881.1 L219.0,1881.4 L220.2,1881.2 L221.5,1880.8 L222.8,1879.9 L224.0,1878.6 L225.2,1882.1 L226.5,1883.6 L227.8,1880.7 L229.0,1883.0 L230.2,1881.7 L231.5,1882.7 L232.8,1881.3 L234.0,1882.0 L235.2,1882.3 L236.5,1879.0 L237.8,1882.8 L239.0,1882.0 L240.2,1878.6 L241.5,1883.3 L242.8,1882.4 L244.0,1882.8 L245.2,1883.2 L246.5,1882.0 L247.8,1881.1 L249.0,1882.1 L250.2,1882.3 L251.5,1885.9 L252.8,1885.4 L254.0,1882.1 L255.2,1882.0 L256.5,1882.9 L257.8,1883.3 L259.0,1881.9 L260.2,1881.4 L261.5,1885.5 L262.8,1884.3 L264.0,1880.5 L265.2,1880.0 L266.5,1881.6 L267.8,1883.1 L269.0,1883.7 L270.2,1882.6 L271.5,1880.6 L272.8,1883.2 L274.0,1883.6 L275.2,1882.6 L276.5,1882.0 L277.8,1883.6 L279.0,1882.9 L280.2,1881.0 L281.5,1882.3 L282.8,1880.2 L284.0,1883.7 L285.2,1883.3 L286.5,1881.1 L287.8,1882.8 L289.0,1884.3 L290.2,1879.4 L291.5,1882.6 L292.8,1885.5 L294.0,1881.2 L295.2,1883.1 L296.5,1881.1 L297.8,1883.5 L299.0,1880.3 L300.2,1881.3 L301.5,1882.7 L302.8,1883.3 L304.0,1883.7 L305.2,1883.8 L306.5,1884.7 L307.8,1884.2 L309.0,1884.3 L310.2,1881.9 L311.5,1883.1 L312.8,1887.9 L314.0,1886.7 L315.2,1884.5 L316.5,1884.0 L317.8,1884.5 L319.0,1882.3 L320.2,1885.4 L321.5,1881.8 L322.8,1882.6 L324.0,1886.0 L325.2,1880.1 L326.5,1883.5 L327.8,1880.9 L329.0,1882.3 L330.2,1883.2 L331.5,1882.8 L332.8,1883.5 L334.0,1881.8 L335.2,1882.7 L336.5,1881.1 L337.8,1882.2 L339.0,1880.5 L340.2,1883.2 L341.5,1880.1 L342.8,1882.6 L344.0,1880.9 L345.2,1881.0 L346.5,1882.7 L347.8,1880.8 L349.0,1878.1 L350.2,1881.2 L351.5,1876.5 L352.8,1880.9 L354.0,1880.0 L355.2,1878.7 L356.5,1880.7 L357.8,1880.0 L359.0,1883.3 L360.2,1879.6 L361.5,1882.7 L362.8,1881.8 L364.0,1878.8 L365.2,1878.3 L366.5,1881.0 L367.8,1879.0 L369.0,1879.2 L370.2,1878.5 L371.5,1877.2 L372.8,1878.5 L374.0,1877.4 L375.2,1876.4 L376.5,1877.9 L377.8,1880.9 L379.0,1880.3 L380.2,1878.0 L381.5,1878.3 L382.8,1878.6 L384.0,1879.5 L385.2,1878.0 L386.5,1877.1 L387.8,1877.5 L389.0,1879.7 L390.2,1882.1 L391.5,1877.3 L392.8,1875.2 L394.0,1879.8 L395.2,1878.4 L396.5,1878.6 L397.8,1880.0 L399.0,1878.2 L400.2,1876.0 L401.5,1874.9 L402.8,1877.5 L404.0,1875.7 L405.2,1877.7 L406.5,1875.4 L407.8,1876.7 L409.0,1875.0 L410.2,1877.0 L411.5,1876.9 L412.8,1878.7 L414.0,1879.9 L415.2,1877.2 L416.5,1876.3 L417.8,1880.5 L419.0,1878.0 L420.2,1878.2 L421.5,1878.1 L422.8,1879.1 L424.0,1878.2 L425.2,1877.7 L426.5,1878.2 L427.8,1875.5 L429.0,1876.0 L430.2,1876.8 L431.5,1877.2 L432.8,1876.9 L434.0,1877.5 L435.2,1877.1 L436.5,1876.4 L437.8,1874.3 L439.0,1878.1 L440.2,1877.8 L441.5,1875.5 L442.8,1877.4 L444.0,1877.0 L445.2,1876.6 L446.5,1873.7 L447.8,1874.5 L449.0,1875.8 L450.2,1879.1 L451.5,1875.3 L452.8,1876.2 L454.0,1875.2 L455.2,1876.1 L456.5,1877.4 L457.8,1873.9 L459.0,1872.8 L460.2,1877.6 L461.5,1876.7 L462.8,1876.1 L464.0,1878.4 L465.2,1878.2 L466.5,1873.8 L467.8,1876.5 L469.0,1878.4 L470.2,1875.6 L471.5,1876.3 L472.8,1878.0 L474.0,1875.9 L475.2,1874.3 L476.5,1875.3 L477.8,1874.4 L479.0,1877.1 L480.2,1873.8 L481.5,1877.7 L482.8,1873.7 L484.0,1876.2 L485.2,1874.0 L486.5,1875.7 L487.8,1877.8 L489.0,1877.6 L490.2,1877.9 L491.5,1875.9 L492.8,1876.3 L494.0,1876.4 L495.2,1876.8 L496.5,1875.2 L497.8,1877.4 L499.0,1876.1 L500.2,1877.4 L501.5,1876.4 L502.8,1876.9 L504.0,1874.9 L505.2,1875.6 L506.5,1874.2 L507.8,1875.6 L509.0,1875.9 L510.2,1877.3 L511.5,1874.4 L512.8,1880.8 L514.0,1875.6 L515.2,1877.4 L516.5,1876.8 L517.8,1871.9 L519.0,1875.0 L520.2,1877.5 L521.5,1871.8 L522.8,1876.0 L524.0,1873.5 L525.2,1873.9 L526.5,1875.0 L527.8,1872.1 L529.0,1875.0 L530.2,1873.9 L531.5,1873.4 L532.8,1875.5 L534.0,1879.7 L535.2,1875.4 L536.5,1876.0 L537.8,1875.2 L539.0,1874.2 L540.2,1875.6 L541.5,1877.2 L542.8,1875.5 L544.0,1876.3 L545.2,1874.8 L546.5,1878.4 L547.8,1872.1 L549.0,1874.9 L550.2,1874.6 L551.5,1874.1 L552.8,1872.1 L554.0,1872.1 L555.2,1873.3 L556.5,1873.8 L557.8,1871.9 L559.0,1872.3 L560.2,1874.9 L561.5,1875.3 L562.8,1872.7 L564.0,1872.5 L565.2,1872.5 L566.5,1877.2 L567.8,1874.1 L569.0,1873.2 L570.2,1874.6 L571.5,1876.0 L572.8,1874.7 L574.0,1870.7 L575.2,1872.3 L576.5,1871.9 L577.8,1872.0 L579.0,1870.5 L580.2,1872.0 L581.5,1870.9 L582.8,1873.2 L584.0,1872.6 L585.2,1870.9 L586.5,1870.7 L587.8,1871.9 L589.0,1873.5 L590.2,1873.3 L591.5,1872.3 L592.8,1867.6 L594.0,1871.3 L595.2,1870.9 L596.5,1871.3 L597.8,1870.0 L599.0,1871.2 L600.2,1870.7 L601.5,1875.5 L602.8,1872.5 L604.0,1871.1 L605.2,1871.3 L606.5,1871.1 L607.8,1871.2 L609.0,1870.3 L610.2,1870.7 L611.5,1872.1 L612.8,1871.6 L614.0,1870.5 L615.2,1871.7 L616.5,1869.6 L617.8,1867.9 L619.0,1866.8 L620.2,1868.3 L621.5,1869.2 L622.8,1869.7 L624.0,1870.6 L625.2,1868.5 L626.5,1868.0 L627.8,1870.4 L629.0,1870.8 L630.2,1868.8 L631.5,1869.6 L632.8,1870.6 L634.0,1869.2 L635.2,1868.8 L636.5,1865.7 L637.8,1870.8 L639.0,1869.7 L640.2,1869.0 L641.5,1867.7 L642.8,1866.4 L644.0,1868.0 L645.2,1867.6 L646.5,1868.5 L647.8,1865.5 L649.0,1868.4 L650.2,1866.4 L651.5,1867.7 L652.8,1864.6 L654.0,1866.3 L655.2,1867.5 L656.5,1865.9 L657.8,1863.9 L659.0,1865.1 L660.2,1866.2 L661.5,1863.2 L662.8,1862.8 L664.0,1865.1 L665.2,1863.5 L666.5,1865.7 L667.8,1863.1 L669.0,1862.2 L670.2,1863.4 L671.5,1866.5 L672.8,1863.3 L674.0,1864.4 L675.2,1864.5 L676.5,1862.5 L677.8,1865.0 L679.0,1863.4 L680.2,1863.5 L681.5,1860.3 L682.8,1860.0 L684.0,1858.7 L685.2,1861.7 L686.5,1861.1 L687.8,1862.2 L689.0,1862.8 L690.2,1860.3 L691.5,1860.0 L692.8,1860.8 L694.0,1861.6 L695.2,1858.1 L696.5,1859.9 L697.8,1858.9 L699.0,1858.3 L700.2,1859.5 L701.5,1857.3 L702.8,1856.8 L704.0,1858.8 L705.2,1858.2 L706.5,1857.6 L707.8,1857.3 L709.0,1858.2 L710.2,1857.0 L711.5,1858.4 L712.8,1857.9 L714.0,1859.0 L715.2,1858.7 L716.5,1857.5 L717.8,1855.7 L719.0,1856.6 L720.2,1855.4 L721.5,1860.3 L722.8,1855.7 L724.0,1856.9 L725.2,1858.3 L726.5,1854.3 L727.8,1855.4 L729.0,1856.0 L730.2,1855.0 L731.5,1854.2 L732.8,1855.5 L734.0,1858.0 L735.2,1856.9 L736.5,1855.8 L737.8,1855.8 L739.0,1853.3 L740.2,1856.9 L741.5,1856.4 L742.8,1854.5 L744.0,1856.0 L745.2,1855.2 L746.5,1854.4 L747.8,1853.4 L749.0,1853.6 L750.2,1852.9 L751.5,1854.4 L752.8,1854.0 L754.0,1853.6 L755.2,1852.6 L756.5,1852.1 L757.8,1855.0 L759.0,1850.2 L760.2,1853.8 L761.5,1852.3 L762.8,1851.6 L764.0,1850.5 L765.2,1850.7 L766.5,1849.2 L767.8,1848.7 L769.0,1849.9 L770.2,1847.3 L771.5,1849.3 L772.8,1849.0 L774.0,1843.6 L775.2,1845.0 L776.5,1846.0 L777.8,1845.3 L779.0,1844.2 L780.2,1843.7 L781.5,1843.3 L782.8,1842.5 L784.0,1842.4 L785.2,1839.7 L786.5,1839.1 L787.8,1835.8 L789.0,1835.8 L790.2,1833.6 L791.5,1833.9 L792.8,1832.7 L794.0,1829.7 L795.2,1826.6 L796.5,1825.6 L797.8,1823.6 L799.0,1821.6 L800.2,1819.9 L801.5,1817.5 L802.8,1812.9 L804.0,1812.4 L805.2,1808.6 L806.5,1805.5 L807.8,1803.2 L809.0,1798.9 L810.2,1794.7 L811.5,1790.5 L812.8,1786.4 L814.0,1781.5 L815.2,1776.1 L816.5,1769.0 L817.8,1761.0 L819.0,1752.6 L820.2,1742.6 L821.5,1731.8 L822.8,1721.0 L824.0,1710.5 L825.2,1700.7 L826.5,1692.2 L827.8,1684.1 L829.0,1679.1 L830.2,1677.3 L831.5,1680.9 L832.8,1689.5 L834.0,1699.8 L835.2,1710.4 L836.5,1722.1 L837.8,1735.7 L839.0,1752.7 L840.2,1772.5 L841.5,1789.6 L842.8,1804.0 L844.0,1816.3 L845.2,1825.4 L846.5,1833.3 L847.8,1840.2 L849.0,1846.5 L850.2,1852.2 L851.5,1857.2 L852.8,1861.2 L854.0,1866.1 L855.2,1869.9 L856.5,1875.3 L857.8,1878.7 L859.0,1881.3 L860.2,1881.7 L861.5,1883.4 L862.8,1882.8 L864.0,1883.5 L865.2,1882.6 L866.5,1883.8 L867.8,1884.5 L869.0,1886.8 L870.2,1888.1 L871.5,1885.8 L872.8,1886.9 L874.0,1887.1 L875.2,1886.3 L876.5,1885.2 L877.8,1886.9 L879.0,1886.4 L880.2,1888.3 L881.5,1888.7 L882.8,1888.9 L884.0,1889.3 L885.2,1890.4 L886.5,1888.8 L887.8,1891.6 L889.0,1888.4 L890.2,1891.2 L891.5,1891.7 L892.8,1890.2 L894.0,1889.3 L895.2,1892.6 L896.5,1890.8 L897.8,1892.8 L899.0,1892.7 L900.2,1891.7 L901.5,1891.2 L902.8,1892.8 L904.0,1892.0 L905.2,1890.2 L906.5,1891.9 L907.8,1892.6 L909.0,1892.2 L910.2,1892.3 L911.5,1891.8 L912.8,1891.9 L914.0,1890.7 L915.2,1889.6 L916.5,1893.1 L917.8,1890.4 L919.0,1891.5 L920.2,1889.1 L921.5,1891.3 L922.8,1889.9 L924.0,1895.4 L925.2,1889.7 L926.5,1890.0 L927.8,1892.7 L929.0,1892.9 L930.2,1888.4 L931.5,1891.8 L932.8,1892.5 L934.0,1889.1 L935.2,1891.9 L936.5,1890.1 L937.8,1889.4 L939.0,1890.6 L940.2,1890.5 L941.5,1888.9 L942.8,1893.6 L944.0,1889.6 L945.2,1889.4 L946.5,1891.6 L947.8,1890.1 L949.0,1891.9 L950.2,1889.3 L951.5,1889.6 L952.8,1889.1 L954.0,1889.0 L955.2,1888.3 L956.5,1888.3 L957.8,1890.7 L959.0,1887.3 L960.2,1887.6 L961.5,1887.8 L962.8,1889.3 L964.0,1889.2 L965.2,1890.1 L966.5,1887.0 L967.8,1889.2 L969.0,1888.4 L970.2,1888.1 L971.5,1888.6 L972.8,1885.7 L974.0,1888.6 L975.2,1888.4 L976.5,1885.9 L977.8,1888.0 L979.0,1890.5 L980.2,1887.6 L981.5,1889.0 L982.8,1887.7 L984.0,1886.7 L985.2,1886.8 L986.5,1887.8 L987.8,1890.2 L989.0,1889.4 L990.2,1887.0 L991.5,1889.5 L992.8,1888.0 L994.0,1887.4 L995.2,1889.1 L996.5,1887.0 L997.8,1885.7 L999.0,1890.0 L1000.2,1885.4 L1001.5,1888.7 L1002.8,1885.6 L1004.0,1887.4 L1005.2,1886.9 L1006.5,1886.4 L1007.8,1884.0 L1009.0,1887.3 L1010.2,1887.5 L1011.5,1885.9 L1012.8,1887.3 L1014.0,1888.7 L1015.2,1886.4 L1016.5,1888.2 L1017.8,1886.3 L1019.0,1888.5 L1020.2,1888.5 L1021.5,1890.8 L1022.8,1888.3 L1024.0,1887.6 L1025.2,1889.3 L1026.5,1885.8 L1027.8,1888.7 L1029.0,1886.3 L1030.2,1886.1 L1031.5,1888.8 L1032.8,1887.9 L1034.0,1889.6 L1035.2,1886.0 L1036.5,1888.4 L1037.8,1887.4 L1039.0,1887.7 L1040.2,1885.6 L1041.5,1889.4 L1042.8,1888.2 L1044.0,1886.7 L1045.2,1886.5 L1046.5,1887.3 L1047.8,1890.6 L1049.0,1888.7 L1050.2,1889.0 L1051.5,1890.2 L1052.8,1890.1 L1054.0,1890.6 L1055.2,1891.5 L1056.5,1891.2 L1057.8,1892.0 L1059.0,1889.3 L1060.2,1890.9 L1061.5,1890.3 L1062.8,1891.1 L1064.0,1891.0 L1065.2,1890.5 L1066.5,1891.0 L1067.8,1892.9 L1069.0,1890.8 L1070.2,1889.9 L1071.5,1892.7 L1072.8,1893.4 L1074.0,1891.6 L1075.2,1892.4 L1076.5,1890.8 L1077.8,1891.9 L1079.0,1893.9 L1080.2,1893.6 L1081.5,1892.6 L1082.8,1892.1 L1084.0,1890.1 L1085.2,1893.3 L1086.5,1893.4 L1087.8,1894.5 L1089.0,1896.0 L1090.2,1893.5 L1091.5,1894.5 L1092.8,1891.5 L1094.0,1894.5 L1095.2,1894.1 L1096.5,1894.6 L1097.8,1893.7 L1099.0,1893.2 L1100.2,1894.5 L1101.5,1891.5 L1102.8,1892.9 L1104.0,1893.6 L1105.2,1890.9 L1106.5,1890.5 L1107.8,1893.0 L1109.0,1892.4 L1110.2,1892.9 L1111.5,1892.9 L1112.8,1890.9 L1114.0,1892.8 L1115.2,1893.8 L1116.5,1891.6 L1117.8,1891.5 L1119.0,1889.9 L1120.2,1892.9 L1121.5,1894.6 L1122.8,1889.7 L1124.0,1892.7 L1125.2,1892.6 L1126.5,1890.5 L1127.8,1890.8 L1129.0,1889.8 L1130.2,1890.2 L1131.5,1891.5 L1132.8,1892.3 L1134.0,1891.4 L1135.2,1892.4 L1136.5,1891.7 L1137.8,1889.7 L1139.0,1893.4 L1140.2,1893.0 L1141.5,1890.4 L1142.8,1893.7 L1144.0,1891.8 L1145.2,1891.3 L1146.5,1893.9 L1147.8,1887.4 L1149.0,1888.9 L1150.2,1892.2 L1151.5,1890.7 L1152.8,1889.7 L1154.0,1893.2 L1155.2,1891.7 L1156.5,1889.3 L1157.8,1890.0 L1159.0,1892.1 L1160.2,1893.1 L1161.5,1887.8 L1162.8,1890.9 L1164.0,1889.8 L1165.2,1887.8 L1166.5,1890.1 L1167.8,1888.3 L1169.0,1889.7 L1170.2,1892.9 L1171.5,1891.4 L1172.8,1891.6 L1174.0,1891.4 L1175.2,1890.9 L1176.5,1891.9 L1177.8,1888.8 L1179.0,1889.5 L1180.2,1891.5 L1181.5,1889.3 L1182.8,1889.8 L1184.0,1891.9 L1185.2,1892.3 L1186.5,1889.3 L1187.8,1888.9 L1189.0,1891.0 L1190.2,1890.4 L1191.5,1888.8 L1192.8,1890.4 L1194.0,1890.3 L1195.2,1889.8 L1196.5,1893.6 L1197.8,1891.3 L1199.0,1890.3 L1200.2,1890.2 L1201.5,1893.1 L1202.8,1890.3 L1204.0,1887.8 L1205.2,1888.8 L1206.5,1888.6 L1207.8,1887.9 L1209.0,1888.7 L1210.2,1888.2 L1211.5,1887.2 L1212.8,1886.1 L1214.0,1886.9 L1215.2,1884.0 L1216.5,1885.9 L1217.8,1884.1 L1219.0,1883.2 L1220.2,1879.8 L1221.5,1880.6 L1222.8,1876.5 L1224.0,1874.9 L1225.2,1873.9 L1226.5,1871.0 L1227.8,1869.0 L1229.0,1865.8 L1230.2,1864.6 L1231.5,1862.8 L1232.8,1861.5 L1234.0,1859.1 L1235.2,1858.9 L1236.5,1859.2 L1237.8,1858.8 L1239.0,1860.1 L1240.2,1863.3 L1241.5,1862.8 L1242.8,1866.1 L1244.0,1866.7 L1245.2,1869.4 L1246.5,1868.5 L1247.8,1870.6 L1249.0,1871.3 L1250.2,1871.6 L1251.5,1873.0 L1252.8,1872.9 L1254.0,1874.2 L1255.2,1874.8 L1256.5,1876.8 L1257.8,1876.7 L1259.0,1875.8 L1260.2,1877.4 L1261.5,1878.4 L1262.8,1878.1 L1264.0,1881.1 L1265.2,1880.2 L1266.5,1880.9 L1267.8,1879.2 L1269.0,1879.8 L1270.2,1881.9 L1271.5,1878.9 L1272.8,1881.2 L1274.0,1881.0 L1275.2,1880.6 L1276.5,1881.5 L1277.8,1880.3 L1279.0,1882.0 L1280.2,1880.2 L1281.5,1880.8 L1282.8,1884.7 L1284.0,1882.1 L1285.2,1880.3 L1286.5,1884.3 L1287.8,1882.0 L1289.0,1878.4 L1290.2,1883.4 L1291.5,1885.1 L1292.8,1883.7 L1294.0,1885.8 L1295.2,1883.4 L1296.5,1884.3 L1297.8,1882.3 L1299.0,1884.1 L1300.2,1886.1 L1301.5,1884.9 L1302.8,1884.3 L1304.0,1881.5 L1305.2,1883.7 L1306.5,1882.3 L1307.8,1885.7 L1309.0,1883.5 L1310.2,1885.3 L1311.5,1883.3 L1312.8,1887.4 L1314.0,1882.8 L1315.2,1884.7 L1316.5,1888.4 L1317.8,1884.9 L1319.0,1883.4 L1320.2,1885.6 L1321.5,1886.4 L1322.8,1886.1 L1324.0,1881.8 L1325.2,1885.1 L1326.5,1881.7 L1327.8,1887.7 L1329.0,1885.0 L1330.2,1883.9 L1331.5,1885.5 L1332.8,1885.0 L1334.0,1882.8 L1335.2,1887.0 L1336.5,1884.5 L1337.8,1882.4 L1339.0,1886.7 L1340.2,1887.0 L1341.5,1886.5 L1342.8,1885.7 L1344.0,1883.8 L1345.2,1886.4 L1346.5,1887.9 L1347.8,1886.0 L1349.0,1886.8 L1350.2,1883.5 L1351.5,1886.1 L1352.8,1886.0 L1354.0,1882.3 L1355.2,1882.0 L1356.5,1883.4 L1357.8,1884.7 L1359.0,1885.6 L1360.2,1884.8 L1361.5,1885.2 L1362.8,1885.2 L1364.0,1885.6 L1365.2,1886.5 L1366.5,1886.4 L1367.8,1885.5 L1369.0,1885.7 L1370.2,1885.0 L1371.5,1887.0 L1372.8,1885.2 L1374.0,1888.5 L1375.2,1886.3 L1376.5,1886.6 L1377.8,1885.1 L1379.0,1885.6 L1380.2,1886.5 L1381.5,1885.6 L1382.8,1884.6 L1384.0,1883.7 L1385.2,1885.0 L1386.5,1885.3 L1387.8,1885.7 L1389.0,1886.8 L1390.2,1884.5 L1391.5,1881.9 L1392.8,1884.8 L1394.0,1882.6 L1395.2,1883.4 L1396.5,1887.3 L1397.8,1886.5 L1399.0,1884.9 L1400.2,1884.8 L1401.5,1885.6 L1402.8,1883.2 L1404.0,1886.6 L1405.2,1885.0 L1406.5,1887.9 L1407.8,1883.3 L1409.0,1886.3 L1410.2,1883.6 L1411.5,1886.2 L1412.8,1883.2 L1414.0,1885.5 L1415.2,1883.6 L1416.5,1882.9 L1417.8,1884.1 L1419.0,1885.0 L1420.2,1884.9 L1421.5,1886.5 L1422.8,1885.1 L1424.0,1880.1 L1425.2,1883.4 L1426.5,1881.2 L1427.8,1883.9 L1429.0,1885.6 L1430.2,1882.8 L1431.5,1883.0 L1432.8,1885.1 L1434.0,1884.8 L1435.2,1887.4 L1436.5,1885.5 L1437.8,1885.7 L1439.0,1887.3 L1440.2,1884.0 L1441.5,1884.5 L1442.8,1883.1 L1444.0,1884.8 L1445.2,1885.9 L1446.5,1886.5 L1447.8,1884.5 L1449.0,1883.5 L1450.0,1883.2" fill="none" stroke="#f44242" stroke-width="5.2" stroke-linejoin="round" stroke-linecap="butt"/>
<path d="M134.0,1589.1 L135.2,1591.0 L136.5,1589.3 L137.8,1588.8 L139.0,1589.1 L140.2,1589.3 L141.5,1588.4 L142.8,1587.1 L144.0,1591.7 L145.2,1588.5 L146.5,1586.6 L147.8,1585.7 L149.0,1584.8 L150.2,1588.4 L151.5,1591.6 L152.8,1586.6 L154.0,1588.5 L155.2,1586.2 L156.5,1590.8 L157.8,1589.5 L159.0,1589.7 L160.2,1591.5 L161.5,1591.9 L162.8,1591.0 L164.0,1588.7 L165.2,1587.8 L166.5,1588.3 L167.8,1587.0 L169.0,1592.6 L170.2,1589.4 L171.5,1589.8 L172.8,1590.0 L174.0,1592.8 L175.2,1588.8 L176.5,1591.3 L177.8,1590.2 L179.0,1589.9 L180.2,1587.0 L181.5,1591.3 L182.8,1588.7 L184.0,1588.9 L185.2,1589.7 L186.5,1589.4 L187.8,1591.2 L189.0,1588.4 L190.2,1589.5 L191.5,1589.9 L192.8,1589.7 L194.0,1590.9 L195.2,1589.5 L196.5,1591.9 L197.8,1589.0 L199.0,1587.9 L200.2,1590.1 L201.5,1591.7 L202.8,1588.9 L204.0,1588.8 L205.2,1589.1 L206.5,1590.1 L207.8,1589.7 L209.0,1590.6 L210.2,1587.1 L211.5,1591.9 L212.8,1590.3 L214.0,1588.4 L215.2,1592.0 L216.5,1590.6 L217.8,1592.3 L219.0,1588.4 L220.2,1592.9 L221.5,1590.4 L222.8,1587.1 L224.0,1591.4 L225.2,1589.4 L226.5,1588.0 L227.8,1589.1 L229.0,1586.3 L230.2,1589.9 L231.5,1588.5 L232.8,1588.6 L234.0,1591.2 L235.2,1589.4 L236.5,1588.1 L237.8,1587.8 L239.0,1589.2 L240.2,1591.0 L241.5,1588.3 L242.8,1587.6 L244.0,1590.7 L245.2,1589.2 L246.5,1589.2 L247.8,1592.7 L249.0,1587.6 L250.2,1589.7 L251.5,1586.9 L252.8,1589.3 L254.0,1590.6 L255.2,1591.5 L256.5,1587.9 L257.8,1591.1 L259.0,1590.8 L260.2,1589.5 L261.5,1593.5 L262.8,1589.2 L264.0,1588.1 L265.2,1590.1 L266.5,1586.5 L267.8,1591.7 L269.0,1590.5 L270.2,1588.6 L271.5,1589.9 L272.8,1589.9 L274.0,1592.3 L275.2,1588.1 L276.5,1586.9 L277.8,1585.7 L279.0,1588.5 L280.2,1586.7 L281.5,1589.0 L282.8,1590.0 L284.0,1588.7 L285.2,1587.9 L286.5,1591.5 L287.8,1589.5 L289.0,1590.3 L290.2,1591.5 L291.5,1587.9 L292.8,1588.6 L294.0,1594.0 L295.2,1589.9 L296.5,1588.5 L297.8,1589.4 L299.0,1588.9 L300.2,1588.0 L301.5,1589.4 L302.8,1590.2 L304.0,1590.2 L305.2,1591.1 L306.5,1587.6 L307.8,1588.0 L309.0,1591.5 L310.2,1589.8 L311.5,1592.1 L312.8,1590.9 L314.0,1588.2 L315.2,1591.1 L316.5,1588.6 L317.8,1590.6 L319.0,1592.1 L320.2,1593.5 L321.5,1590.0 L322.8,1591.2 L324.0,1590.2 L325.2,1591.1 L326.5,1586.0 L327.8,1589.4 L329.0,1590.3 L330.2,1590.5 L331.5,1588.5 L332.8,1591.0 L334.0,1591.6 L335.2,1590.2 L336.5,1589.5 L337.8,1589.4 L339.0,1590.2 L340.2,1592.2 L341.5,1592.4 L342.8,1589.5 L344.0,1588.7 L345.2,1588.7 L346.5,1591.4 L347.8,1590.1 L349.0,1589.7 L350.2,1589.8 L351.5,1589.3 L352.8,1589.1 L354.0,1587.5 L355.2,1588.0 L356.5,1589.0 L357.8,1589.4 L359.0,1588.3 L360.2,1588.6 L361.5,1591.3 L362.8,1588.4 L364.0,1588.9 L365.2,1588.2 L366.5,1587.3 L367.8,1586.2 L369.0,1587.9 L370.2,1587.5 L371.5,1590.1 L372.8,1587.3 L374.0,1588.4 L375.2,1590.5 L376.5,1589.1 L377.8,1590.5 L379.0,1591.5 L380.2,1587.2 L381.5,1589.2 L382.8,1588.6 L384.0,1592.0 L385.2,1590.1 L386.5,1590.8 L387.8,1592.7 L389.0,1589.0 L390.2,1589.8 L391.5,1590.5 L392.8,1589.4 L394.0,1591.3 L395.2,1590.5 L396.5,1590.8 L397.8,1589.3 L399.0,1588.8 L400.2,1588.9 L401.5,1588.8 L402.8,1587.0 L404.0,1589.9 L405.2,1590.8 L406.5,1589.5 L407.8,1588.8 L409.0,1589.5 L410.2,1589.9 L411.5,1590.4 L412.8,1592.6 L414.0,1588.2 L415.2,1590.0 L416.5,1590.5 L417.8,1590.0 L419.0,1589.3 L420.2,1588.2 L421.5,1589.0 L422.8,1590.9 L424.0,1592.0 L425.2,1589.2 L426.5,1591.1 L427.8,1591.3 L429.0,1591.5 L430.2,1590.3 L431.5,1590.8 L432.8,1591.4 L434.0,1588.4 L435.2,1590.3 L436.5,1587.3 L437.8,1586.9 L439.0,1588.6 L440.2,1588.0 L441.5,1591.0 L442.8,1591.8 L444.0,1589.7 L445.2,1589.7 L446.5,1589.4 L447.8,1589.4 L449.0,1589.9 L450.2,1590.1 L451.5,1588.7 L452.8,1588.2 L454.0,1588.5 L455.2,1590.7 L456.5,1588.9 L457.8,1592.0 L459.0,1589.6 L460.2,1592.0 L461.5,1587.9 L462.8,1588.7 L464.0,1590.4 L465.2,1590.2 L466.5,1589.3 L467.8,1592.3 L469.0,1589.2 L470.2,1589.6 L471.5,1588.3 L472.8,1592.2 L474.0,1591.1 L475.2,1590.4 L476.5,1587.8 L477.8,1590.5 L479.0,1589.3 L480.2,1590.4 L481.5,1591.0 L482.8,1588.6 L484.0,1589.7 L485.2,1590.5 L486.5,1589.6 L487.8,1588.9 L489.0,1587.8 L490.2,1588.6 L491.5,1587.9 L492.8,1591.6 L494.0,1590.1 L495.2,1588.0 L496.5,1589.8 L497.8,1588.0 L499.0,1584.8 L500.2,1591.4 L501.5,1591.1 L502.8,1586.8 L504.0,1587.6 L505.2,1589.1 L506.5,1588.4 L507.8,1588.1 L509.0,1588.6 L510.2,1588.9 L511.5,1588.9 L512.8,1590.2 L514.0,1589.5 L515.2,1588.9 L516.5,1590.2 L517.8,1587.4 L519.0,1591.9 L520.2,1587.1 L521.5,1589.5 L522.8,1590.0 L524.0,1590.2 L525.2,1590.2 L526.5,1591.8 L527.8,1588.0 L529.0,1589.9 L530.2,1590.2 L531.5,1589.3 L532.8,1588.9 L534.0,1591.5 L535.2,1588.6 L536.5,1588.9 L537.8,1589.0 L539.0,1589.1 L540.2,1589.3 L541.5,1588.6 L542.8,1589.3 L544.0,1589.1 L545.2,1589.9 L546.5,1591.0 L547.8,1587.9 L549.0,1591.4 L550.2,1588.7 L551.5,1590.4 L552.8,1589.8 L554.0,1589.3 L555.2,1586.9 L556.5,1592.3 L557.8,1588.9 L559.0,1588.4 L560.2,1591.5 L561.5,1589.8 L562.8,1592.6 L564.0,1591.9 L565.2,1590.2 L566.5,1589.5 L567.8,1590.2 L569.0,1587.3 L570.2,1589.6 L571.5,1589.5 L572.8,1588.2 L574.0,1589.5 L575.2,1587.2 L576.5,1590.6 L577.8,1591.0 L579.0,1587.2 L580.2,1589.0 L581.5,1591.0 L582.8,1589.4 L584.0,1587.6 L585.2,1587.5 L586.5,1589.9 L587.8,1591.1 L589.0,1586.9 L590.2,1588.5 L591.5,1587.3 L592.8,1587.7 L594.0,1588.5 L595.2,1587.5 L596.5,1586.5 L597.8,1590.3 L599.0,1587.0 L600.2,1586.6 L601.5,1588.1 L602.8,1586.1 L604.0,1585.6 L605.2,1586.8 L606.5,1584.5 L607.8,1586.5 L609.0,1586.8 L610.2,1586.3 L611.5,1585.5 L612.8,1585.6 L614.0,1583.5 L615.2,1585.3 L616.5,1585.6 L617.8,1585.9 L619.0,1584.8 L620.2,1583.6 L621.5,1582.6 L622.8,1583.3 L624.0,1583.3 L625.2,1584.4 L626.5,1582.6 L627.8,1582.1 L629.0,1582.6 L630.2,1581.9 L631.5,1582.2 L632.8,1579.6 L634.0,1580.2 L635.2,1580.4 L636.5,1582.2 L637.8,1581.3 L639.0,1581.5 L640.2,1582.3 L641.5,1579.6 L642.8,1582.2 L644.0,1580.8 L645.2,1579.3 L646.5,1582.1 L647.8,1578.2 L649.0,1578.4 L650.2,1579.0 L651.5,1579.6 L652.8,1578.3 L654.0,1575.5 L655.2,1577.6 L656.5,1577.6 L657.8,1581.1 L659.0,1579.3 L660.2,1577.5 L661.5,1575.6 L662.8,1577.7 L664.0,1575.4 L665.2,1577.3 L666.5,1577.9 L667.8,1576.8 L669.0,1577.6 L670.2,1576.7 L671.5,1576.4 L672.8,1579.5 L674.0,1578.0 L675.2,1576.6 L676.5,1575.9 L677.8,1576.9 L679.0,1577.3 L680.2,1577.6 L681.5,1578.5 L682.8,1577.0 L684.0,1574.7 L685.2,1578.9 L686.5,1577.6 L687.8,1576.9 L689.0,1577.4 L690.2,1573.4 L691.5,1575.0 L692.8,1574.5 L694.0,1576.7 L695.2,1573.1 L696.5,1574.4 L697.8,1577.1 L699.0,1575.8 L700.2,1574.4 L701.5,1577.4 L702.8,1572.6 L704.0,1575.1 L705.2,1574.1 L706.5,1575.1 L707.8,1573.9 L709.0,1573.2 L710.2,1574.6 L711.5,1572.3 L712.8,1575.3 L714.0,1574.3 L715.2,1576.0 L716.5,1573.9 L717.8,1573.7 L719.0,1575.4 L720.2,1576.4 L721.5,1571.8 L722.8,1575.2 L724.0,1575.6 L725.2,1572.0 L726.5,1572.9 L727.8,1575.4 L729.0,1573.0 L730.2,1573.1 L731.5,1576.6 L732.8,1572.6 L734.0,1572.4 L735.2,1570.5 L736.5,1572.4 L737.8,1572.1 L739.0,1576.3 L740.2,1576.0 L741.5,1572.3 L742.8,1576.8 L744.0,1575.1 L745.2,1574.0 L746.5,1575.5 L747.8,1575.1 L749.0,1573.4 L750.2,1572.1 L751.5,1572.9 L752.8,1574.0 L754.0,1573.3 L755.2,1572.7 L756.5,1574.3 L757.8,1571.2 L759.0,1573.3 L760.2,1571.2 L761.5,1571.6 L762.8,1569.9 L764.0,1570.8 L765.2,1569.5 L766.5,1567.9 L767.8,1569.9 L769.0,1569.7 L770.2,1570.5 L771.5,1569.4 L772.8,1567.5 L774.0,1567.5 L775.2,1564.9 L776.5,1565.9 L777.8,1568.0 L779.0,1567.7 L780.2,1566.3 L781.5,1565.1 L782.8,1564.8 L784.0,1564.1 L785.2,1561.0 L786.5,1561.3 L787.8,1563.0 L789.0,1562.4 L790.2,1560.8 L791.5,1559.4 L792.8,1558.7 L794.0,1558.0 L795.2,1556.9 L796.5,1555.1 L797.8,1556.0 L799.0,1554.4 L800.2,1553.4 L801.5,1553.4 L802.8,1550.9 L804.0,1548.2 L805.2,1546.6 L806.5,1542.9 L807.8,1541.8 L809.0,1538.6 L810.2,1535.3 L811.5,1532.0 L812.8,1528.1 L814.0,1522.7 L815.2,1517.6 L816.5,1513.1 L817.8,1506.1 L819.0,1499.4 L820.2,1491.2 L821.5,1482.6 L822.8,1471.9 L824.0,1458.2 L825.2,1436.7 L826.5,1415.1 L827.8,1399.5 L829.0,1385.3 L830.2,1372.7 L831.5,1363.2 L832.8,1358.0 L834.0,1355.8 L835.2,1358.7 L836.5,1364.8 L837.8,1374.7 L839.0,1385.9 L840.2,1397.8 L841.5,1410.2 L842.8,1422.6 L844.0,1435.1 L845.2,1448.1 L846.5,1460.1 L847.8,1471.1 L849.0,1482.2 L850.2,1492.1 L851.5,1500.2 L852.8,1506.0 L854.0,1511.6 L855.2,1516.3 L856.5,1519.3 L857.8,1523.8 L859.0,1525.5 L860.2,1529.3 L861.5,1532.1 L862.8,1536.4 L864.0,1537.6 L865.2,1540.8 L866.5,1541.5 L867.8,1545.0 L869.0,1547.3 L870.2,1549.0 L871.5,1548.8 L872.8,1552.5 L874.0,1554.3 L875.2,1556.0 L876.5,1556.4 L877.8,1555.4 L879.0,1557.9 L880.2,1559.6 L881.5,1558.8 L882.8,1561.0 L884.0,1560.5 L885.2,1561.6 L886.5,1563.0 L887.8,1561.8 L889.0,1566.4 L890.2,1563.9 L891.5,1564.9 L892.8,1563.9 L894.0,1565.3 L895.2,1565.1 L896.5,1564.4 L897.8,1564.4 L899.0,1567.1 L900.2,1566.9 L901.5,1564.1 L902.8,1565.1 L904.0,1568.0 L905.2,1568.5 L906.5,1570.0 L907.8,1568.0 L909.0,1570.7 L910.2,1569.7 L911.5,1570.0 L912.8,1570.8 L914.0,1572.4 L915.2,1571.9 L916.5,1572.7 L917.8,1571.2 L919.0,1572.1 L920.2,1571.5 L921.5,1572.8 L922.8,1573.4 L924.0,1573.7 L925.2,1575.5 L926.5,1575.9 L927.8,1576.8 L929.0,1576.3 L930.2,1577.6 L931.5,1576.7 L932.8,1577.9 L934.0,1577.5 L935.2,1578.2 L936.5,1577.2 L937.8,1575.4 L939.0,1575.1 L940.2,1580.3 L941.5,1578.0 L942.8,1578.1 L944.0,1577.2 L945.2,1576.7 L946.5,1580.9 L947.8,1575.0 L949.0,1576.6 L950.2,1576.5 L951.5,1574.5 L952.8,1574.3 L954.0,1575.1 L955.2,1575.5 L956.5,1575.5 L957.8,1578.0 L959.0,1575.2 L960.2,1577.5 L961.5,1579.0 L962.8,1578.3 L964.0,1575.3 L965.2,1572.7 L966.5,1578.3 L967.8,1577.9 L969.0,1576.1 L970.2,1578.8 L971.5,1576.6 L972.8,1577.4 L974.0,1575.9 L975.2,1578.3 L976.5,1577.2 L977.8,1577.4 L979.0,1579.9 L980.2,1578.8 L981.5,1576.2 L982.8,1579.4 L984.0,1579.8 L985.2,1577.4 L986.5,1578.0 L987.8,1578.7 L989.0,1578.3 L990.2,1578.6 L991.5,1579.5 L992.8,1578.0 L994.0,1581.5 L995.2,1577.5 L996.5,1577.8 L997.8,1581.3 L999.0,1582.1 L1000.2,1578.7 L1001.5,1578.7 L1002.8,1577.4 L1004.0,1580.6 L1005.2,1579.3 L1006.5,1578.1 L1007.8,1580.1 L1009.0,1581.7 L1010.2,1581.0 L1011.5,1583.2 L1012.8,1581.7 L1014.0,1580.6 L1015.2,1580.4 L1016.5,1581.4 L1017.8,1582.5 L1019.0,1581.9 L1020.2,1582.1 L1021.5,1580.8 L1022.8,1581.8 L1024.0,1582.2 L1025.2,1580.6 L1026.5,1579.0 L1027.8,1583.6 L1029.0,1582.0 L1030.2,1580.7 L1031.5,1581.7 L1032.8,1581.2 L1034.0,1579.2 L1035.2,1581.4 L1036.5,1579.5 L1037.8,1581.8 L1039.0,1581.1 L1040.2,1582.8 L1041.5,1581.1 L1042.8,1581.8 L1044.0,1581.1 L1045.2,1581.0 L1046.5,1580.0 L1047.8,1583.7 L1049.0,1582.8 L1050.2,1581.9 L1051.5,1583.2 L1052.8,1582.4 L1054.0,1582.0 L1055.2,1583.4 L1056.5,1584.8 L1057.8,1582.9 L1059.0,1581.5 L1060.2,1582.6 L1061.5,1586.3 L1062.8,1582.6 L1064.0,1585.6 L1065.2,1583.8 L1066.5,1585.2 L1067.8,1584.3 L1069.0,1582.1 L1070.2,1583.9 L1071.5,1587.6 L1072.8,1584.5 L1074.0,1585.9 L1075.2,1584.9 L1076.5,1585.3 L1077.8,1586.0 L1079.0,1586.1 L1080.2,1589.0 L1081.5,1585.6 L1082.8,1585.2 L1084.0,1584.5 L1085.2,1583.4 L1086.5,1583.3 L1087.8,1586.7 L1089.0,1583.5 L1090.2,1588.6 L1091.5,1587.8 L1092.8,1586.4 L1094.0,1585.4 L1095.2,1587.3 L1096.5,1587.5 L1097.8,1588.9 L1099.0,1586.1 L1100.2,1586.7 L1101.5,1587.1 L1102.8,1586.7 L1104.0,1586.0 L1105.2,1584.7 L1106.5,1584.9 L1107.8,1586.5 L1109.0,1587.0 L1110.2,1589.0 L1111.5,1590.9 L1112.8,1589.7 L1114.0,1587.9 L1115.2,1590.1 L1116.5,1587.1 L1117.8,1586.7 L1119.0,1590.9 L1120.2,1586.2 L1121.5,1587.1 L1122.8,1587.2 L1124.0,1590.4 L1125.2,1587.5 L1126.5,1589.7 L1127.8,1588.0 L1129.0,1586.6 L1130.2,1589.0 L1131.5,1588.9 L1132.8,1587.2 L1134.0,1587.6 L1135.2,1587.3 L1136.5,1589.9 L1137.8,1589.2 L1139.0,1588.9 L1140.2,1589.2 L1141.5,1587.4 L1142.8,1588.7 L1144.0,1586.8 L1145.2,1586.0 L1146.5,1587.2 L1147.8,1588.5 L1149.0,1588.3 L1150.2,1589.9 L1151.5,1586.1 L1152.8,1588.5 L1154.0,1589.6 L1155.2,1588.0 L1156.5,1589.5 L1157.8,1588.4 L1159.0,1587.2 L1160.2,1590.5 L1161.5,1586.8 L1162.8,1590.1 L1164.0,1588.2 L1165.2,1587.4 L1166.5,1587.2 L1167.8,1587.4 L1169.0,1587.2 L1170.2,1589.0 L1171.5,1586.1 L1172.8,1590.7 L1174.0,1590.3 L1175.2,1590.9 L1176.5,1587.5 L1177.8,1586.0 L1179.0,1588.6 L1180.2,1589.5 L1181.5,1590.1 L1182.8,1588.6 L1184.0,1589.1 L1185.2,1589.3 L1186.5,1586.9 L1187.8,1591.2 L1189.0,1586.9 L1190.2,1588.5 L1191.5,1589.3 L1192.8,1586.5 L1194.0,1587.6 L1195.2,1589.6 L1196.5,1587.0 L1197.8,1588.4 L1199.0,1587.0 L1200.2,1586.5 L1201.5,1586.2 L1202.8,1584.3 L1204.0,1583.1 L1205.2,1582.8 L1206.5,1581.2 L1207.8,1580.3 L1209.0,1577.9 L1210.2,1578.2 L1211.5,1578.5 L1212.8,1577.3 L1214.0,1576.1 L1215.2,1574.3 L1216.5,1573.1 L1217.8,1572.9 L1219.0,1572.7 L1220.2,1570.2 L1221.5,1569.7 L1222.8,1567.0 L1224.0,1566.1 L1225.2,1562.5 L1226.5,1561.3 L1227.8,1558.5 L1229.0,1557.4 L1230.2,1554.2 L1231.5,1552.0 L1232.8,1555.2 L1234.0,1557.2 L1235.2,1558.2 L1236.5,1560.3 L1237.8,1562.0 L1239.0,1565.0 L1240.2,1567.3 L1241.5,1568.0 L1242.8,1569.9 L1244.0,1571.8 L1245.2,1572.5 L1246.5,1573.8 L1247.8,1575.9 L1249.0,1576.6 L1250.2,1577.3 L1251.5,1577.9 L1252.8,1580.7 L1254.0,1579.4 L1255.2,1580.8 L1256.5,1580.0 L1257.8,1580.8 L1259.0,1582.1 L1260.2,1581.5 L1261.5,1582.8 L1262.8,1582.2 L1264.0,1580.6 L1265.2,1579.3 L1266.5,1583.6 L1267.8,1581.3 L1269.0,1584.4 L1270.2,1582.3 L1271.5,1581.2 L1272.8,1582.8 L1274.0,1581.8 L1275.2,1582.1 L1276.5,1581.0 L1277.8,1583.4 L1279.0,1584.1 L1280.2,1582.1 L1281.5,1585.4 L1282.8,1582.7 L1284.0,1584.1 L1285.2,1581.8 L1286.5,1581.5 L1287.8,1587.1 L1289.0,1586.5 L1290.2,1586.5 L1291.5,1582.7 L1292.8,1585.5 L1294.0,1585.7 L1295.2,1585.5 L1296.5,1585.9 L1297.8,1584.9 L1299.0,1586.0 L1300.2,1584.9 L1301.5,1586.1 L1302.8,1587.5 L1304.0,1586.0 L1305.2,1587.1 L1306.5,1587.0 L1307.8,1588.0 L1309.0,1589.1 L1310.2,1588.0 L1311.5,1588.2 L1312.8,1585.5 L1314.0,1586.7 L1315.2,1588.2 L1316.5,1585.5 L1317.8,1586.0 L1319.0,1584.9 L1320.2,1587.9 L1321.5,1585.6 L1322.8,1585.2 L1324.0,1587.2 L1325.2,1588.1 L1326.5,1587.3 L1327.8,1588.0 L1329.0,1587.1 L1330.2,1586.6 L1331.5,1586.6 L1332.8,1586.4 L1334.0,1586.3 L1335.2,1587.6 L1336.5,1586.8 L1337.8,1587.0 L1339.0,1587.8 L1340.2,1586.7 L1341.5,1584.7 L1342.8,1585.5 L1344.0,1585.0 L1345.2,1583.7 L1346.5,1586.8 L1347.8,1584.8 L1349.0,1584.7 L1350.2,1585.0 L1351.5,1587.9 L1352.8,1586.1 L1354.0,1587.9 L1355.2,1586.2 L1356.5,1585.7 L1357.8,1587.2 L1359.0,1587.2 L1360.2,1586.6 L1361.5,1584.7 L1362.8,1585.5 L1364.0,1584.5 L1365.2,1585.8 L1366.5,1586.3 L1367.8,1588.3 L1369.0,1588.1 L1370.2,1587.2 L1371.5,1587.4 L1372.8,1586.2 L1374.0,1590.0 L1375.2,1587.7 L1376.5,1589.5 L1377.8,1586.0 L1379.0,1585.9 L1380.2,1586.6 L1381.5,1585.1 L1382.8,1585.6 L1384.0,1583.9 L1385.2,1586.9 L1386.5,1586.0 L1387.8,1586.6 L1389.0,1585.4 L1390.2,1583.0 L1391.5,1586.5 L1392.8,1587.6 L1394.0,1583.8 L1395.2,1584.3 L1396.5,1585.1 L1397.8,1585.3 L1399.0,1583.6 L1400.2,1588.8 L1401.5,1588.1 L1402.8,1585.9 L1404.0,1584.2 L1405.2,1587.8 L1406.5,1590.0 L1407.8,1588.5 L1409.0,1588.8 L1410.2,1585.7 L1411.5,1587.3 L1412.8,1584.6 L1414.0,1589.8 L1415.2,1587.9 L1416.5,1583.8 L1417.8,1584.4 L1419.0,1587.7 L1420.2,1587.0 L1421.5,1586.3 L1422.8,1587.6 L1424.0,1590.1 L1425.2,1587.7 L1426.5,1584.6 L1427.8,1587.1 L1429.0,1585.7 L1430.2,1586.6 L1431.5,1588.6 L1432.8,1588.0 L1434.0,1586.7 L1435.2,1587.8 L1436.5,1586.7 L1437.8,1588.8 L1439.0,1587.7 L1440.2,1588.4 L1441.5,1587.5 L1442.8,1588.9 L1444.0,1587.8 L1445.2,1588.2 L1446.5,1587.6 L1447.8,1588.8 L1449.0,1586.1 L1450.0,1592.3" fill="none" stroke="#1b66dc" stroke-width="5.2" stroke-linejoin="round" stroke-linecap="butt"/>
<line x1="834.8" y1="1325" x2="834.8" y2="1954" stroke="#000" stroke-width="6" stroke-dasharray="41 34"/>
<line x1="1231.6" y1="1529" x2="1231.6" y2="2170.5" stroke="#000" stroke-width="6" stroke-dasharray="41 34"/>
<text x="149.7" y="1366.5" style="font-size:130px">(b)</text>
<text x="134.3" y="2314" text-anchor="middle">150</text>
<text x="353.9" y="2314" text-anchor="middle">120</text>
<text x="573.5" y="2314" text-anchor="middle">90</text>
<text x="793.1" y="2314" text-anchor="middle">60</text>
<text x="1012.7" y="2314" text-anchor="middle">30</text>
<text x="1232.3" y="2314" text-anchor="middle">0</text>
<text x="1451.9" y="2314" text-anchor="middle">−30</text>
<rect x="129" y="2397" width="1319.5" height="1019" fill="none" stroke="#000" stroke-width="6.5"/>
<rect x="125.75" y="3418.75" width="6.5" height="11.5" fill="#000"/>
<rect x="345.67" y="3418.75" width="6.5" height="11.5" fill="#000"/>
<rect x="565.58" y="3418.75" width="6.5" height="11.5" fill="#000"/>
<rect x="785.50" y="3418.75" width="6.5" height="11.5" fill="#000"/>
<rect x="1005.42" y="3418.75" width="6.5" height="11.5" fill="#000"/>
<rect x="1225.33" y="3418.75" width="6.5" height="11.5" fill="#000"/>
<rect x="1445.25" y="3418.75" width="6.5" height="11.5" fill="#000"/>
<rect x="235.71" y="3418.75" width="6.5" height="4" fill="#000"/>
<rect x="455.62" y="3418.75" width="6.5" height="4" fill="#000"/>
<rect x="675.54" y="3418.75" width="6.5" height="4" fill="#000"/>
<rect x="895.46" y="3418.75" width="6.5" height="4" fill="#000"/>
<rect x="1115.38" y="3418.75" width="6.5" height="4" fill="#000"/>
<rect x="1335.29" y="3418.75" width="6.5" height="4" fill="#000"/>
<path d="M129.0,3354.2 L130.2,3354.3 L131.5,3352.9 L132.8,3353.8 L134.0,3354.4 L135.2,3353.0 L136.5,3353.4 L137.8,3353.6 L139.0,3354.1 L140.2,3353.7 L141.5,3353.4 L142.8,3353.7 L144.0,3354.3 L145.2,3354.0 L146.5,3354.8 L147.8,3354.0 L149.0,3353.3 L150.2,3353.4 L151.5,3353.7 L152.8,3353.6 L154.0,3354.0 L155.2,3353.6 L156.5,3354.2 L157.8,3353.7 L159.0,3354.1 L160.2,3352.9 L161.5,3353.0 L162.8,3353.7 L164.0,3353.4 L165.2,3353.8 L166.5,3353.6 L167.8,3353.3 L169.0,3354.6 L170.2,3354.2 L171.5,3352.7 L172.8,3353.2 L174.0,3353.5 L175.2,3354.0 L176.5,3353.5 L177.8,3352.9 L179.0,3354.2 L180.2,3353.4 L181.5,3354.2 L182.8,3353.8 L184.0,3354.2 L185.2,3354.0 L186.5,3353.9 L187.8,3353.1 L189.0,3353.8 L190.2,3353.2 L191.5,3352.6 L192.8,3353.1 L194.0,3353.1 L195.2,3353.5 L196.5,3353.6 L197.8,3352.5 L199.0,3353.6 L200.2,3353.3 L201.5,3352.7 L202.8,3353.6 L204.0,3352.6 L205.2,3352.4 L206.5,3353.3 L207.8,3353.4 L209.0,3352.6 L210.2,3353.6 L211.5,3353.5 L212.8,3352.8 L214.0,3354.2 L215.2,3353.1 L216.5,3353.2 L217.8,3351.8 L219.0,3353.4 L220.2,3352.7 L221.5,3353.2 L222.8,3351.9 L224.0,3353.5 L225.2,3353.6 L226.5,3353.8 L227.8,3351.2 L229.0,3353.3 L230.2,3353.2 L231.5,3351.3 L232.8,3352.5 L234.0,3352.9 L235.2,3353.7 L236.5,3352.5 L237.8,3353.0 L239.0,3352.8 L240.2,3353.0 L241.5,3352.5 L242.8,3353.2 L244.0,3353.4 L245.2,3352.1 L246.5,3353.5 L247.8,3352.4 L249.0,3352.8 L250.2,3353.6 L251.5,3352.9 L252.8,3353.3 L254.0,3353.5 L255.2,3353.4 L256.5,3352.6 L257.8,3352.4 L259.0,3353.3 L260.2,3353.4 L261.5,3353.2 L262.8,3352.9 L264.0,3353.5 L265.2,3352.9 L266.5,3352.0 L267.8,3352.7 L269.0,3352.9 L270.2,3353.0 L271.5,3352.0 L272.8,3352.1 L274.0,3352.6 L275.2,3352.3 L276.5,3352.4 L277.8,3353.0 L279.0,3352.9 L280.2,3353.6 L281.5,3352.7 L282.8,3353.5 L284.0,3353.0 L285.2,3353.9 L286.5,3352.5 L287.8,3352.6 L289.0,3353.3 L290.2,3352.3 L291.5,3352.3 L292.8,3352.8 L294.0,3352.8 L295.2,3351.9 L296.5,3352.6 L297.8,3352.1 L299.0,3352.2 L300.2,3352.3 L301.5,3352.2 L302.8,3352.8 L304.0,3352.4 L305.2,3352.1 L306.5,3352.2 L307.8,3352.9 L309.0,3352.8 L310.2,3353.1 L311.5,3352.3 L312.8,3352.4 L314.0,3353.6 L315.2,3352.5 L316.5,3353.4 L317.8,3353.1 L319.0,3352.4 L320.2,3351.8 L321.5,3352.8 L322.8,3352.2 L324.0,3352.1 L325.2,3351.4 L326.5,3353.1 L327.8,3352.5 L329.0,3352.4 L330.2,3352.7 L331.5,3352.7 L332.8,3352.7 L334.0,3352.8 L335.2,3352.5 L336.5,3351.2 L337.8,3353.1 L339.0,3352.9 L340.2,3352.7 L341.5,3353.5 L342.8,3351.7 L344.0,3350.9 L345.2,3353.4 L346.5,3352.6 L347.8,3351.5 L349.0,3352.1 L350.2,3352.7 L351.5,3351.6 L352.8,3352.6 L354.0,3353.6 L355.2,3353.1 L356.5,3352.4 L357.8,3352.7 L359.0,3351.9 L360.2,3352.6 L361.5,3352.4 L362.8,3352.0 L364.0,3351.9 L365.2,3353.7 L366.5,3352.7 L367.8,3352.0 L369.0,3352.3 L370.2,3353.4 L371.5,3353.4 L372.8,3352.1 L374.0,3352.5 L375.2,3352.9 L376.5,3352.2 L377.8,3351.7 L379.0,3351.9 L380.2,3352.5 L381.5,3352.1 L382.8,3351.9 L384.0,3352.4 L385.2,3353.1 L386.5,3352.7 L387.8,3352.1 L389.0,3353.3 L390.2,3351.8 L391.5,3352.2 L392.8,3351.5 L394.0,3352.6 L395.2,3352.1 L396.5,3351.4 L397.8,3352.0 L399.0,3353.5 L400.2,3352.8 L401.5,3352.5 L402.8,3352.8 L404.0,3351.3 L405.2,3351.8 L406.5,3351.5 L407.8,3351.6 L409.0,3351.8 L410.2,3352.3 L411.5,3352.6 L412.8,3352.6 L414.0,3353.5 L415.2,3351.7 L416.5,3351.9 L417.8,3352.3 L419.0,3351.4 L420.2,3351.8 L421.5,3352.1 L422.8,3351.4 L424.0,3352.2 L425.2,3352.7 L426.5,3351.3 L427.8,3350.8 L429.0,3352.0 L430.2,3351.5 L431.5,3352.1 L432.8,3351.8 L434.0,3352.2 L435.2,3352.4 L436.5,3352.2 L437.8,3351.6 L439.0,3351.0 L440.2,3350.2 L441.5,3350.2 L442.8,3350.9 L444.0,3351.4 L445.2,3350.9 L446.5,3351.1 L447.8,3350.4 L449.0,3350.4 L450.2,3350.4 L451.5,3351.7 L452.8,3350.4 L454.0,3351.8 L455.2,3350.8 L456.5,3351.7 L457.8,3351.6 L459.0,3351.8 L460.2,3352.1 L461.5,3351.0 L462.8,3350.7 L464.0,3351.1 L465.2,3350.9 L466.5,3351.8 L467.8,3351.5 L469.0,3351.4 L470.2,3351.7 L471.5,3351.1 L472.8,3351.7 L474.0,3350.3 L475.2,3351.3 L476.5,3351.3 L477.8,3350.4 L479.0,3350.3 L480.2,3351.2 L481.5,3350.5 L482.8,3349.6 L484.0,3349.9 L485.2,3351.2 L486.5,3350.0 L487.8,3351.0 L489.0,3351.0 L490.2,3350.1 L491.5,3350.4 L492.8,3349.7 L494.0,3350.0 L495.2,3349.7 L496.5,3350.2 L497.8,3349.2 L499.0,3349.9 L500.2,3349.9 L501.5,3350.1 L502.8,3348.5 L504.0,3348.5 L505.2,3348.7 L506.5,3349.0 L507.8,3349.1 L509.0,3348.9 L510.2,3349.8 L511.5,3349.0 L512.8,3348.9 L514.0,3348.3 L515.2,3348.7 L516.5,3348.6 L517.8,3348.5 L519.0,3348.1 L520.2,3348.5 L521.5,3348.9 L522.8,3347.7 L524.0,3346.9 L525.2,3348.4 L526.5,3348.4 L527.8,3347.9 L529.0,3347.7 L530.2,3349.2 L531.5,3347.4 L532.8,3346.9 L534.0,3347.2 L535.2,3347.6 L536.5,3347.0 L537.8,3347.1 L539.0,3347.4 L540.2,3346.9 L541.5,3347.2 L542.8,3346.9 L544.0,3346.4 L545.2,3346.8 L546.5,3346.2 L547.8,3347.1 L549.0,3346.0 L550.2,3346.4 L551.5,3345.5 L552.8,3346.3 L554.0,3346.0 L555.2,3347.3 L556.5,3346.4 L557.8,3346.5 L559.0,3345.4 L560.2,3345.6 L561.5,3346.1 L562.8,3345.5 L564.0,3346.6 L565.2,3345.7 L566.5,3346.1 L567.8,3346.2 L569.0,3346.1 L570.2,3346.3 L571.5,3345.5 L572.8,3346.1 L574.0,3346.4 L575.2,3346.0 L576.5,3345.8 L577.8,3345.5 L579.0,3345.5 L580.2,3345.7 L581.5,3345.3 L582.8,3344.6 L584.0,3345.7 L585.2,3345.5 L586.5,3345.8 L587.8,3345.5 L589.0,3346.3 L590.2,3345.0 L591.5,3345.1 L592.8,3346.0 L594.0,3344.9 L595.2,3345.5 L596.5,3345.3 L597.8,3344.3 L599.0,3345.6 L600.2,3345.9 L601.5,3345.3 L602.8,3344.4 L604.0,3345.4 L605.2,3344.6 L606.5,3345.2 L607.8,3345.4 L609.0,3344.6 L610.2,3344.2 L611.5,3344.9 L612.8,3344.7 L614.0,3344.2 L615.2,3344.3 L616.5,3344.9 L617.8,3344.3 L619.0,3344.1 L620.2,3344.0 L621.5,3344.4 L622.8,3344.4 L624.0,3344.2 L625.2,3343.6 L626.5,3344.1 L627.8,3343.9 L629.0,3344.2 L630.2,3344.8 L631.5,3344.8 L632.8,3344.5 L634.0,3344.2 L635.2,3343.9 L636.5,3344.2 L637.8,3343.7 L639.0,3343.8 L640.2,3343.5 L641.5,3343.8 L642.8,3343.7 L644.0,3344.7 L645.2,3343.9 L646.5,3343.4 L647.8,3344.0 L649.0,3343.2 L650.2,3343.9 L651.5,3343.7 L652.8,3344.8 L654.0,3342.7 L655.2,3343.2 L656.5,3343.3 L657.8,3343.5 L659.0,3343.8 L660.2,3342.9 L661.5,3342.9 L662.8,3343.3 L664.0,3343.6 L665.2,3342.4 L666.5,3342.1 L667.8,3343.2 L669.0,3343.0 L670.2,3343.0 L671.5,3342.0 L672.8,3342.3 L674.0,3342.6 L675.2,3342.8 L676.5,3342.6 L677.8,3342.6 L679.0,3343.1 L680.2,3342.3 L681.5,3342.3 L682.8,3342.3 L684.0,3342.4 L685.2,3342.8 L686.5,3342.4 L687.8,3342.3 L689.0,3343.2 L690.2,3342.9 L691.5,3342.6 L692.8,3343.3 L694.0,3342.5 L695.2,3342.7 L696.5,3342.7 L697.8,3342.4 L699.0,3342.5 L700.2,3342.9 L701.5,3341.9 L702.8,3342.5 L704.0,3342.9 L705.2,3342.9 L706.5,3343.0 L707.8,3344.0 L709.0,3343.4 L710.2,3343.2 L711.5,3343.4 L712.8,3343.7 L714.0,3344.1 L715.2,3343.8 L716.5,3344.9 L717.8,3343.8 L719.0,3345.0 L720.2,3345.1 L721.5,3344.4 L722.8,3345.3 L724.0,3345.2 L725.2,3344.5 L726.5,3345.9 L727.8,3345.0 L729.0,3344.3 L730.2,3343.9 L731.5,3343.4 L732.8,3343.5 L734.0,3343.1 L735.2,3342.2 L736.5,3342.0 L737.8,3341.9 L739.0,3341.6 L740.2,3341.3 L741.5,3341.0 L742.8,3341.5 L744.0,3341.4 L745.2,3340.9 L746.5,3339.6 L747.8,3340.6 L749.0,3341.0 L750.2,3340.7 L751.5,3340.8 L752.8,3340.8 L754.0,3340.0 L755.2,3339.4 L756.5,3341.0 L757.8,3340.5 L759.0,3341.1 L760.2,3340.7 L761.5,3340.7 L762.8,3341.6 L764.0,3340.1 L765.2,3340.6 L766.5,3340.1 L767.8,3340.7 L769.0,3341.0 L770.2,3341.0 L771.5,3340.6 L772.8,3339.8 L774.0,3339.9 L775.2,3339.5 L776.5,3338.8 L777.8,3338.3 L779.0,3337.0 L780.2,3335.7 L781.5,3335.1 L782.8,3334.8 L784.0,3334.4 L785.2,3332.9 L786.5,3333.1 L787.8,3332.4 L789.0,3331.2 L790.2,3331.1 L791.5,3330.0 L792.8,3329.9 L794.0,3329.3 L795.2,3329.3 L796.5,3328.5 L797.8,3329.0 L799.0,3327.5 L800.2,3328.2 L801.5,3328.1 L802.8,3329.0 L804.0,3328.4 L805.2,3327.8 L806.5,3327.6 L807.8,3328.0 L809.0,3327.6 L810.2,3328.8 L811.5,3326.3 L812.8,3327.6 L814.0,3326.4 L815.2,3327.9 L816.5,3326.8 L817.8,3327.8 L819.0,3326.7 L820.2,3327.2 L821.5,3326.7 L822.8,3327.1 L824.0,3326.5 L825.2,3324.7 L826.5,3325.9 L827.8,3325.6 L829.0,3326.8 L830.2,3326.8 L831.5,3326.8 L832.8,3327.1 L834.0,3327.4 L835.2,3327.3 L836.5,3328.9 L837.8,3328.4 L839.0,3328.8 L840.2,3328.6 L841.5,3329.4 L842.8,3330.3 L844.0,3331.0 L845.2,3331.5 L846.5,3332.5 L847.8,3332.9 L849.0,3334.2 L850.2,3334.4 L851.5,3335.5 L852.8,3336.2 L854.0,3337.4 L855.2,3337.8 L856.5,3338.0 L857.8,3337.8 L859.0,3338.3 L860.2,3338.9 L861.5,3339.4 L862.8,3338.2 L864.0,3338.8 L865.2,3339.2 L866.5,3339.4 L867.8,3339.4 L869.0,3339.8 L870.2,3339.0 L871.5,3340.7 L872.8,3339.4 L874.0,3340.1 L875.2,3340.4 L876.5,3341.0 L877.8,3341.0 L879.0,3341.1 L880.2,3341.6 L881.5,3341.0 L882.8,3341.7 L884.0,3342.2 L885.2,3341.4 L886.5,3341.0 L887.8,3341.3 L889.0,3342.6 L890.2,3342.7 L891.5,3342.2 L892.8,3342.6 L894.0,3342.9 L895.2,3343.4 L896.5,3342.2 L897.8,3343.2 L899.0,3343.6 L900.2,3344.0 L901.5,3344.0 L902.8,3343.9 L904.0,3344.3 L905.2,3343.0 L906.5,3345.7 L907.8,3344.8 L909.0,3345.0 L910.2,3344.4 L911.5,3345.1 L912.8,3345.9 L914.0,3345.9 L915.2,3345.3 L916.5,3344.9 L917.8,3345.6 L919.0,3345.4 L920.2,3345.9 L921.5,3344.9 L922.8,3345.4 L924.0,3345.7 L925.2,3345.2 L926.5,3346.0 L927.8,3344.8 L929.0,3344.9 L930.2,3345.4 L931.5,3346.0 L932.8,3345.4 L934.0,3345.3 L935.2,3346.1 L936.5,3345.9 L937.8,3345.5 L939.0,3345.9 L940.2,3345.6 L941.5,3346.0 L942.8,3345.8 L944.0,3345.2 L945.2,3345.4 L946.5,3345.5 L947.8,3345.8 L949.0,3346.0 L950.2,3345.3 L951.5,3345.7 L952.8,3346.0 L954.0,3346.5 L955.2,3346.3 L956.5,3347.2 L957.8,3346.2 L959.0,3346.6 L960.2,3345.8 L961.5,3345.6 L962.8,3346.2 L964.0,3346.5 L965.2,3346.4 L966.5,3346.3 L967.8,3346.0 L969.0,3345.9 L970.2,3346.2 L971.5,3346.8 L972.8,3347.1 L974.0,3344.7 L975.2,3346.6 L976.5,3347.0 L977.8,3347.1 L979.0,3346.6 L980.2,3346.7 L981.5,3346.2 L982.8,3346.4 L984.0,3346.8 L985.2,3346.0 L986.5,3346.2 L987.8,3346.6 L989.0,3345.8 L990.2,3346.5 L991.5,3345.8 L992.8,3346.7 L994.0,3346.7 L995.2,3346.3 L996.5,3346.1 L997.8,3346.3 L999.0,3345.4 L1000.2,3346.5 L1001.5,3346.8 L1002.8,3347.2 L1004.0,3346.3 L1005.2,3346.5 L1006.5,3347.4 L1007.8,3347.6 L1009.0,3346.6 L1010.2,3347.5 L1011.5,3347.5 L1012.8,3347.2 L1014.0,3346.3 L1015.2,3346.1 L1016.5,3346.7 L1017.8,3347.6 L1019.0,3346.4 L1020.2,3347.1 L1021.5,3347.3 L1022.8,3345.7 L1024.0,3346.2 L1025.2,3347.3 L1026.5,3347.3 L1027.8,3347.3 L1029.0,3347.0 L1030.2,3347.5 L1031.5,3346.9 L1032.8,3348.4 L1034.0,3346.5 L1035.2,3346.1 L1036.5,3347.2 L1037.8,3347.7 L1039.0,3346.7 L1040.2,3347.0 L1041.5,3346.3 L1042.8,3346.8 L1044.0,3346.3 L1045.2,3346.4 L1046.5,3346.3 L1047.8,3346.8 L1049.0,3348.1 L1050.2,3347.1 L1051.5,3347.2 L1052.8,3348.4 L1054.0,3347.0 L1055.2,3347.0 L1056.5,3348.0 L1057.8,3347.0 L1059.0,3347.8 L1060.2,3348.3 L1061.5,3347.2 L1062.8,3347.4 L1064.0,3348.5 L1065.2,3347.2 L1066.5,3347.2 L1067.8,3347.5 L1069.0,3347.3 L1070.2,3347.1 L1071.5,3348.4 L1072.8,3347.2 L1074.0,3347.8 L1075.2,3347.5 L1076.5,3347.5 L1077.8,3347.0 L1079.0,3348.2 L1080.2,3347.7 L1081.5,3348.5 L1082.8,3347.1 L1084.0,3347.4 L1085.2,3348.0 L1086.5,3347.6 L1087.8,3347.2 L1089.0,3347.6 L1090.2,3347.0 L1091.5,3347.8 L1092.8,3346.3 L1094.0,3347.9 L1095.2,3348.7 L1096.5,3348.6 L1097.8,3348.8 L1099.0,3348.2 L1100.2,3348.6 L1101.5,3348.1 L1102.8,3348.2 L1104.0,3348.3 L1105.2,3346.7 L1106.5,3348.8 L1107.8,3348.6 L1109.0,3348.9 L1110.2,3348.0 L1111.5,3348.8 L1112.8,3348.8 L1114.0,3347.4 L1115.2,3347.8 L1116.5,3348.8 L1117.8,3348.5 L1119.0,3348.6 L1120.2,3348.3 L1121.5,3349.5 L1122.8,3347.7 L1124.0,3348.2 L1125.2,3348.4 L1126.5,3348.4 L1127.8,3348.8 L1129.0,3349.2 L1130.2,3348.6 L1131.5,3349.6 L1132.8,3350.0 L1134.0,3349.9 L1135.2,3350.2 L1136.5,3349.8 L1137.8,3349.0 L1139.0,3350.0 L1140.2,3349.4 L1141.5,3350.0 L1142.8,3348.9 L1144.0,3348.0 L1145.2,3348.6 L1146.5,3349.4 L1147.8,3349.6 L1149.0,3349.3 L1150.2,3350.0 L1151.5,3348.7 L1152.8,3349.0 L1154.0,3349.8 L1155.2,3349.4 L1156.5,3349.4 L1157.8,3350.2 L1159.0,3349.8 L1160.2,3348.8 L1161.5,3349.2 L1162.8,3348.3 L1164.0,3349.4 L1165.2,3349.7 L1166.5,3348.4 L1167.8,3350.2 L1169.0,3350.5 L1170.2,3349.7 L1171.5,3350.0 L1172.8,3350.4 L1174.0,3349.5 L1175.2,3350.0 L1176.5,3349.7 L1177.8,3348.7 L1179.0,3349.0 L1180.2,3349.0 L1181.5,3350.1 L1182.8,3349.5 L1184.0,3349.9 L1185.2,3349.2 L1186.5,3348.8 L1187.8,3350.6 L1189.0,3351.0 L1190.2,3349.8 L1191.5,3349.5 L1192.8,3350.2 L1194.0,3349.1 L1195.2,3349.5 L1196.5,3348.9 L1197.8,3349.7 L1199.0,3349.5 L1200.2,3349.1 L1201.5,3348.8 L1202.8,3348.5 L1204.0,3348.8 L1205.2,3349.8 L1206.5,3349.0 L1207.8,3349.9 L1209.0,3349.0 L1210.2,3349.4 L1211.5,3349.2 L1212.8,3349.6 L1214.0,3349.9 L1215.2,3348.5 L1216.5,3349.9 L1217.8,3349.8 L1219.0,3349.5 L1220.2,3349.6 L1221.5,3349.4 L1222.8,3349.8 L1224.0,3349.4 L1225.2,3349.1 L1226.5,3349.6 L1227.8,3349.9 L1229.0,3349.7 L1230.2,3349.5 L1231.5,3349.5 L1232.8,3349.1 L1234.0,3349.4 L1235.2,3348.6 L1236.5,3349.6 L1237.8,3350.3 L1239.0,3349.8 L1240.2,3349.4 L1241.5,3350.3 L1242.8,3349.8 L1244.0,3349.9 L1245.2,3350.0 L1246.5,3350.1 L1247.8,3349.5 L1249.0,3349.0 L1250.2,3350.1 L1251.5,3349.5 L1252.8,3349.1 L1254.0,3349.7 L1255.2,3350.0 L1256.5,3348.6 L1257.8,3350.1 L1259.0,3349.3 L1260.2,3350.6 L1261.5,3350.0 L1262.8,3349.5 L1264.0,3350.3 L1265.2,3350.3 L1266.5,3349.6 L1267.8,3349.9 L1269.0,3349.4 L1270.2,3350.2 L1271.5,3348.9 L1272.8,3349.5 L1274.0,3348.5 L1275.2,3349.8 L1276.5,3348.2 L1277.8,3348.9 L1279.0,3349.6 L1280.2,3349.4 L1281.5,3349.3 L1282.8,3349.1 L1284.0,3349.4 L1285.2,3348.6 L1286.5,3349.8 L1287.8,3350.1 L1289.0,3350.1 L1290.2,3349.7 L1291.5,3350.4 L1292.8,3349.9 L1294.0,3350.2 L1295.2,3350.0 L1296.5,3349.8 L1297.8,3349.4 L1299.0,3348.3 L1300.2,3350.0 L1301.5,3349.5 L1302.8,3350.6 L1304.0,3348.6 L1305.2,3350.0 L1306.5,3348.9 L1307.8,3349.3 L1309.0,3348.9 L1310.2,3349.5 L1311.5,3349.3 L1312.8,3349.8 L1314.0,3349.3 L1315.2,3349.5 L1316.5,3350.1 L1317.8,3349.6 L1319.0,3349.3 L1320.2,3350.1 L1321.5,3349.4 L1322.8,3349.7 L1324.0,3349.3 L1325.2,3349.3 L1326.5,3348.1 L1327.8,3349.9 L1329.0,3349.1 L1330.2,3350.1 L1331.5,3350.7 L1332.8,3349.0 L1334.0,3350.1 L1335.2,3349.6 L1336.5,3349.8 L1337.8,3348.9 L1339.0,3349.5 L1340.2,3349.5 L1341.5,3350.2 L1342.8,3350.6 L1344.0,3349.7 L1345.2,3349.5 L1346.5,3350.9 L1347.8,3349.6 L1349.0,3349.7 L1350.2,3349.8 L1351.5,3350.0 L1352.8,3350.2 L1354.0,3349.6 L1355.2,3350.0 L1356.5,3351.0 L1357.8,3350.8 L1359.0,3350.2 L1360.2,3350.1 L1361.5,3350.1 L1362.8,3350.9 L1364.0,3349.9 L1365.2,3350.3 L1366.5,3349.9 L1367.8,3349.8 L1369.0,3350.1 L1370.2,3350.2 L1371.5,3349.8 L1372.8,3350.1 L1374.0,3350.0 L1375.2,3349.9 L1376.5,3349.8 L1377.8,3350.2 L1379.0,3350.5 L1380.2,3350.8 L1381.5,3350.3 L1382.8,3350.1 L1384.0,3350.2 L1385.2,3351.2 L1386.5,3350.7 L1387.8,3349.8 L1389.0,3350.3 L1390.2,3350.3 L1391.5,3350.3 L1392.8,3349.7 L1394.0,3350.4 L1395.2,3349.7 L1396.5,3350.1 L1397.8,3351.3 L1399.0,3351.0 L1400.2,3350.1 L1401.5,3349.8 L1402.8,3349.8 L1404.0,3349.3 L1405.2,3350.0 L1406.5,3350.3 L1407.8,3350.1 L1409.0,3350.9 L1410.2,3350.7 L1411.5,3350.3 L1412.8,3351.5 L1414.0,3351.1 L1415.2,3350.6 L1416.5,3351.5 L1417.8,3351.2 L1419.0,3350.0 L1420.2,3350.5 L1421.5,3350.0 L1422.8,3349.6 L1424.0,3351.4 L1425.2,3351.2 L1426.5,3349.9 L1427.8,3350.8 L1429.0,3349.9 L1430.2,3351.4 L1431.5,3350.8 L1432.8,3350.8 L1434.0,3351.6 L1435.2,3351.0 L1436.5,3351.0 L1437.8,3351.5 L1439.0,3350.8 L1440.2,3351.3 L1441.5,3350.7 L1442.8,3351.2 L1444.0,3351.1 L1445.2,3351.2 L1446.5,3350.2 L1447.8,3351.7 L1448.0,3350.7" fill="none" stroke="#505050" stroke-width="5.2" stroke-linejoin="round" stroke-linecap="butt"/>
<path d="M129.0,3055.3 L130.2,3055.7 L131.5,3056.0 L132.8,3056.3 L134.0,3055.3 L135.2,3055.8 L136.5,3055.8 L137.8,3055.0 L139.0,3055.5 L140.2,3054.8 L141.5,3055.2 L142.8,3055.4 L144.0,3054.3 L145.2,3054.8 L146.5,3054.9 L147.8,3055.4 L149.0,3054.8 L150.2,3055.6 L151.5,3054.8 L152.8,3055.0 L154.0,3055.7 L155.2,3055.4 L156.5,3055.2 L157.8,3055.2 L159.0,3055.7 L160.2,3056.0 L161.5,3054.9 L162.8,3054.8 L164.0,3054.6 L165.2,3056.1 L166.5,3054.8 L167.8,3054.4 L169.0,3055.5 L170.2,3055.7 L171.5,3054.4 L172.8,3055.1 L174.0,3054.4 L175.2,3054.8 L176.5,3055.9 L177.8,3055.0 L179.0,3054.9 L180.2,3054.7 L181.5,3054.9 L182.8,3054.8 L184.0,3054.1 L185.2,3054.2 L186.5,3056.0 L187.8,3054.6 L189.0,3055.7 L190.2,3054.6 L191.5,3055.7 L192.8,3055.4 L194.0,3054.9 L195.2,3056.1 L196.5,3054.4 L197.8,3054.8 L199.0,3054.3 L200.2,3054.3 L201.5,3054.5 L202.8,3054.2 L204.0,3054.6 L205.2,3055.6 L206.5,3053.9 L207.8,3054.1 L209.0,3054.2 L210.2,3054.5 L211.5,3055.3 L212.8,3055.2 L214.0,3055.1 L215.2,3054.9 L216.5,3055.9 L217.8,3053.8 L219.0,3053.8 L220.2,3054.4 L221.5,3054.5 L222.8,3054.2 L224.0,3053.7 L225.2,3053.5 L226.5,3054.0 L227.8,3053.8 L229.0,3054.0 L230.2,3053.7 L231.5,3054.8 L232.8,3054.3 L234.0,3055.2 L235.2,3053.9 L236.5,3054.3 L237.8,3054.1 L239.0,3054.3 L240.2,3054.2 L241.5,3054.1 L242.8,3053.3 L244.0,3054.1 L245.2,3054.6 L246.5,3053.1 L247.8,3054.0 L249.0,3054.6 L250.2,3054.9 L251.5,3054.2 L252.8,3054.5 L254.0,3055.3 L255.2,3055.1 L256.5,3054.1 L257.8,3054.1 L259.0,3055.0 L260.2,3054.4 L261.5,3054.1 L262.8,3054.2 L264.0,3054.5 L265.2,3054.1 L266.5,3054.2 L267.8,3054.3 L269.0,3053.7 L270.2,3055.3 L271.5,3055.0 L272.8,3055.1 L274.0,3054.2 L275.2,3054.3 L276.5,3054.6 L277.8,3054.8 L279.0,3053.4 L280.2,3054.3 L281.5,3053.7 L282.8,3054.3 L284.0,3054.0 L285.2,3055.3 L286.5,3054.7 L287.8,3054.3 L289.0,3054.9 L290.2,3054.2 L291.5,3054.0 L292.8,3054.3 L294.0,3054.0 L295.2,3054.2 L296.5,3054.5 L297.8,3054.0 L299.0,3054.1 L300.2,3054.7 L301.5,3054.1 L302.8,3054.4 L304.0,3053.9 L305.2,3053.3 L306.5,3053.4 L307.8,3053.1 L309.0,3054.7 L310.2,3054.1 L311.5,3053.7 L312.8,3053.5 L314.0,3054.2 L315.2,3053.9 L316.5,3054.2 L317.8,3053.6 L319.0,3053.4 L320.2,3054.8 L321.5,3053.5 L322.8,3053.9 L324.0,3054.6 L325.2,3053.0 L326.5,3054.3 L327.8,3053.9 L329.0,3053.8 L330.2,3054.0 L331.5,3053.1 L332.8,3052.6 L334.0,3054.8 L335.2,3053.5 L336.5,3054.2 L337.8,3054.2 L339.0,3053.9 L340.2,3053.8 L341.5,3053.8 L342.8,3054.3 L344.0,3053.7 L345.2,3054.1 L346.5,3053.3 L347.8,3053.2 L349.0,3053.6 L350.2,3053.8 L351.5,3053.9 L352.8,3054.8 L354.0,3054.1 L355.2,3053.8 L356.5,3054.8 L357.8,3053.9 L359.0,3053.9 L360.2,3053.8 L361.5,3053.2 L362.8,3052.8 L364.0,3053.4 L365.2,3053.2 L366.5,3052.8 L367.8,3053.4 L369.0,3053.1 L370.2,3053.0 L371.5,3052.3 L372.8,3053.2 L374.0,3054.2 L375.2,3053.8 L376.5,3053.8 L377.8,3053.4 L379.0,3053.9 L380.2,3053.0 L381.5,3052.9 L382.8,3053.5 L384.0,3052.3 L385.2,3053.1 L386.5,3053.3 L387.8,3053.9 L389.0,3052.6 L390.2,3053.2 L391.5,3052.6 L392.8,3052.6 L394.0,3051.5 L395.2,3052.6 L396.5,3053.6 L397.8,3053.2 L399.0,3053.0 L400.2,3054.1 L401.5,3053.1 L402.8,3052.0 L404.0,3052.5 L405.2,3052.5 L406.5,3053.6 L407.8,3052.2 L409.0,3052.8 L410.2,3053.2 L411.5,3052.2 L412.8,3052.6 L414.0,3051.6 L415.2,3052.7 L416.5,3051.4 L417.8,3052.1 L419.0,3053.2 L420.2,3052.7 L421.5,3052.3 L422.8,3052.4 L424.0,3053.5 L425.2,3052.6 L426.5,3052.9 L427.8,3052.1 L429.0,3052.2 L430.2,3051.9 L431.5,3052.3 L432.8,3052.2 L434.0,3053.0 L435.2,3052.9 L436.5,3052.3 L437.8,3052.0 L439.0,3050.8 L440.2,3051.9 L441.5,3052.4 L442.8,3052.5 L444.0,3050.3 L445.2,3050.6 L446.5,3052.0 L447.8,3051.4 L449.0,3051.7 L450.2,3051.5 L451.5,3052.1 L452.8,3050.7 L454.0,3051.5 L455.2,3052.4 L456.5,3052.1 L457.8,3051.5 L459.0,3052.0 L460.2,3051.9 L461.5,3051.2 L462.8,3052.0 L464.0,3052.1 L465.2,3051.6 L466.5,3052.0 L467.8,3050.9 L469.0,3052.0 L470.2,3051.4 L471.5,3051.0 L472.8,3051.2 L474.0,3052.0 L475.2,3051.0 L476.5,3051.1 L477.8,3051.1 L479.0,3051.0 L480.2,3051.8 L481.5,3052.5 L482.8,3052.0 L484.0,3051.6 L485.2,3051.8 L486.5,3051.2 L487.8,3051.0 L489.0,3050.4 L490.2,3051.8 L491.5,3050.9 L492.8,3050.7 L494.0,3050.7 L495.2,3051.0 L496.5,3050.6 L497.8,3050.9 L499.0,3051.0 L500.2,3051.7 L501.5,3050.1 L502.8,3050.9 L504.0,3050.2 L505.2,3050.3 L506.5,3051.3 L507.8,3050.9 L509.0,3050.3 L510.2,3050.7 L511.5,3050.5 L512.8,3051.1 L514.0,3050.2 L515.2,3050.9 L516.5,3050.4 L517.8,3050.5 L519.0,3050.5 L520.2,3050.2 L521.5,3050.5 L522.8,3050.8 L524.0,3050.0 L525.2,3050.2 L526.5,3050.5 L527.8,3050.0 L529.0,3051.0 L530.2,3050.8 L531.5,3049.2 L532.8,3050.1 L534.0,3050.0 L535.2,3050.8 L536.5,3050.9 L537.8,3049.7 L539.0,3049.8 L540.2,3050.0 L541.5,3049.6 L542.8,3050.2 L544.0,3050.4 L545.2,3050.1 L546.5,3050.5 L547.8,3050.4 L549.0,3049.7 L550.2,3049.5 L551.5,3049.4 L552.8,3050.2 L554.0,3050.1 L555.2,3050.1 L556.5,3049.4 L557.8,3049.3 L559.0,3049.5 L560.2,3050.0 L561.5,3049.4 L562.8,3049.2 L564.0,3048.6 L565.2,3049.3 L566.5,3049.3 L567.8,3048.4 L569.0,3049.9 L570.2,3048.4 L571.5,3049.4 L572.8,3048.9 L574.0,3049.1 L575.2,3048.7 L576.5,3048.8 L577.8,3049.5 L579.0,3048.9 L580.2,3048.8 L581.5,3049.7 L582.8,3049.5 L584.0,3049.2 L585.2,3049.3 L586.5,3050.0 L587.8,3048.9 L589.0,3049.1 L590.2,3049.2 L591.5,3048.0 L592.8,3047.4 L594.0,3048.5 L595.2,3048.8 L596.5,3048.5 L597.8,3048.0 L599.0,3047.9 L600.2,3048.7 L601.5,3048.0 L602.8,3047.4 L604.0,3048.7 L605.2,3048.6 L606.5,3048.7 L607.8,3048.8 L609.0,3049.0 L610.2,3048.7 L611.5,3048.2 L612.8,3047.2 L614.0,3048.4 L615.2,3048.1 L616.5,3048.7 L617.8,3048.6 L619.0,3048.2 L620.2,3048.6 L621.5,3047.7 L622.8,3047.6 L624.0,3047.1 L625.2,3047.3 L626.5,3047.4 L627.8,3047.8 L629.0,3046.9 L630.2,3047.6 L631.5,3048.5 L632.8,3046.5 L634.0,3047.0 L635.2,3047.1 L636.5,3047.6 L637.8,3048.1 L639.0,3047.7 L640.2,3046.8 L641.5,3046.5 L642.8,3046.7 L644.0,3046.8 L645.2,3046.8 L646.5,3046.1 L647.8,3047.2 L649.0,3046.1 L650.2,3046.7 L651.5,3046.5 L652.8,3045.6 L654.0,3046.2 L655.2,3046.1 L656.5,3045.9 L657.8,3046.4 L659.0,3045.7 L660.2,3047.0 L661.5,3046.4 L662.8,3045.2 L664.0,3044.3 L665.2,3046.2 L666.5,3045.7 L667.8,3045.6 L669.0,3044.8 L670.2,3044.7 L671.5,3044.4 L672.8,3046.6 L674.0,3046.1 L675.2,3045.0 L676.5,3046.3 L677.8,3044.4 L679.0,3045.6 L680.2,3045.6 L681.5,3044.6 L682.8,3044.8 L684.0,3044.5 L685.2,3045.1 L686.5,3045.7 L687.8,3045.4 L689.0,3044.9 L690.2,3045.2 L691.5,3043.5 L692.8,3045.4 L694.0,3044.2 L695.2,3043.5 L696.5,3043.8 L697.8,3043.3 L699.0,3043.7 L700.2,3043.9 L701.5,3042.3 L702.8,3044.2 L704.0,3044.5 L705.2,3043.0 L706.5,3044.2 L707.8,3044.1 L709.0,3044.0 L710.2,3044.2 L711.5,3042.5 L712.8,3043.8 L714.0,3042.9 L715.2,3044.6 L716.5,3042.8 L717.8,3042.8 L719.0,3044.0 L720.2,3043.8 L721.5,3043.6 L722.8,3043.5 L724.0,3043.6 L725.2,3044.3 L726.5,3043.0 L727.8,3043.0 L729.0,3042.9 L730.2,3043.1 L731.5,3043.1 L732.8,3042.3 L734.0,3043.2 L735.2,3042.3 L736.5,3042.8 L737.8,3042.8 L739.0,3042.7 L740.2,3043.7 L741.5,3043.9 L742.8,3043.6 L744.0,3043.8 L745.2,3042.9 L746.5,3043.7 L747.8,3042.9 L749.0,3043.2 L750.2,3043.3 L751.5,3042.2 L752.8,3042.6 L754.0,3042.8 L755.2,3043.2 L756.5,3042.9 L757.8,3042.6 L759.0,3042.6 L760.2,3043.1 L761.5,3042.5 L762.8,3042.8 L764.0,3043.3 L765.2,3043.5 L766.5,3043.0 L767.8,3042.4 L769.0,3043.4 L770.2,3043.6 L771.5,3043.0 L772.8,3043.2 L774.0,3042.1 L775.2,3044.0 L776.5,3042.9 L777.8,3043.9 L779.0,3043.5 L780.2,3043.6 L781.5,3043.7 L782.8,3042.8 L784.0,3045.3 L785.2,3042.9 L786.5,3043.7 L787.8,3042.8 L789.0,3042.3 L790.2,3042.2 L791.5,3040.5 L792.8,3040.9 L794.0,3040.9 L795.2,3040.4 L796.5,3040.3 L797.8,3039.6 L799.0,3039.2 L800.2,3039.2 L801.5,3039.4 L802.8,3039.7 L804.0,3039.2 L805.2,3039.6 L806.5,3038.8 L807.8,3038.7 L809.0,3038.3 L810.2,3037.2 L811.5,3038.2 L812.8,3037.1 L814.0,3037.2 L815.2,3038.0 L816.5,3036.1 L817.8,3036.3 L819.0,3035.5 L820.2,3034.2 L821.5,3032.5 L822.8,3030.7 L824.0,3030.2 L825.2,3028.0 L826.5,3028.5 L827.8,3030.0 L829.0,3029.7 L830.2,3029.5 L831.5,3029.8 L832.8,3030.7 L834.0,3032.4 L835.2,3032.0 L836.5,3031.9 L837.8,3033.0 L839.0,3033.5 L840.2,3035.1 L841.5,3035.6 L842.8,3036.8 L844.0,3037.0 L845.2,3038.3 L846.5,3038.3 L847.8,3038.6 L849.0,3038.4 L850.2,3038.9 L851.5,3039.5 L852.8,3039.2 L854.0,3040.8 L855.2,3039.9 L856.5,3039.9 L857.8,3040.8 L859.0,3040.3 L860.2,3040.8 L861.5,3040.7 L862.8,3040.5 L864.0,3041.8 L865.2,3041.3 L866.5,3042.0 L867.8,3041.4 L869.0,3041.1 L870.2,3041.3 L871.5,3041.8 L872.8,3042.0 L874.0,3042.3 L875.2,3042.6 L876.5,3041.9 L877.8,3042.7 L879.0,3042.0 L880.2,3042.2 L881.5,3044.1 L882.8,3043.5 L884.0,3042.9 L885.2,3044.0 L886.5,3044.0 L887.8,3043.8 L889.0,3044.2 L890.2,3043.4 L891.5,3043.6 L892.8,3043.4 L894.0,3044.2 L895.2,3043.2 L896.5,3043.8 L897.8,3044.3 L899.0,3043.9 L900.2,3044.4 L901.5,3045.2 L902.8,3043.7 L904.0,3044.9 L905.2,3043.9 L906.5,3043.6 L907.8,3044.4 L909.0,3044.9 L910.2,3044.0 L911.5,3044.0 L912.8,3044.3 L914.0,3044.3 L915.2,3044.9 L916.5,3044.4 L917.8,3045.0 L919.0,3045.3 L920.2,3044.8 L921.5,3045.6 L922.8,3044.8 L924.0,3044.7 L925.2,3046.2 L926.5,3045.9 L927.8,3045.3 L929.0,3045.6 L930.2,3045.4 L931.5,3044.9 L932.8,3045.6 L934.0,3045.4 L935.2,3046.1 L936.5,3044.4 L937.8,3045.9 L939.0,3045.4 L940.2,3044.9 L941.5,3045.0 L942.8,3045.0 L944.0,3044.5 L945.2,3045.0 L946.5,3045.7 L947.8,3044.4 L949.0,3045.3 L950.2,3044.3 L951.5,3045.3 L952.8,3045.9 L954.0,3045.7 L955.2,3045.8 L956.5,3045.3 L957.8,3046.2 L959.0,3045.5 L960.2,3046.3 L961.5,3045.9 L962.8,3045.5 L964.0,3046.6 L965.2,3045.6 L966.5,3046.2 L967.8,3045.6 L969.0,3045.5 L970.2,3046.1 L971.5,3045.8 L972.8,3045.7 L974.0,3045.6 L975.2,3045.9 L976.5,3045.8 L977.8,3045.6 L979.0,3045.2 L980.2,3044.5 L981.5,3045.9 L982.8,3045.8 L984.0,3046.6 L985.2,3046.2 L986.5,3046.5 L987.8,3046.8 L989.0,3045.9 L990.2,3045.5 L991.5,3046.3 L992.8,3045.5 L994.0,3045.7 L995.2,3046.6 L996.5,3046.2 L997.8,3046.5 L999.0,3045.4 L1000.2,3046.2 L1001.5,3046.8 L1002.8,3045.6 L1004.0,3046.4 L1005.2,3046.6 L1006.5,3045.2 L1007.8,3047.2 L1009.0,3045.9 L1010.2,3046.1 L1011.5,3046.9 L1012.8,3045.2 L1014.0,3046.3 L1015.2,3045.9 L1016.5,3046.1 L1017.8,3045.6 L1019.0,3046.9 L1020.2,3045.7 L1021.5,3046.6 L1022.8,3046.7 L1024.0,3046.4 L1025.2,3046.3 L1026.5,3046.3 L1027.8,3046.9 L1029.0,3046.6 L1030.2,3046.3 L1031.5,3045.9 L1032.8,3046.4 L1034.0,3046.7 L1035.2,3046.3 L1036.5,3047.2 L1037.8,3045.4 L1039.0,3047.9 L1040.2,3046.4 L1041.5,3045.8 L1042.8,3045.4 L1044.0,3046.9 L1045.2,3046.8 L1046.5,3046.5 L1047.8,3046.6 L1049.0,3046.8 L1050.2,3046.5 L1051.5,3047.5 L1052.8,3047.2 L1054.0,3046.9 L1055.2,3046.3 L1056.5,3047.8 L1057.8,3046.8 L1059.0,3046.3 L1060.2,3047.7 L1061.5,3047.2 L1062.8,3045.8 L1064.0,3046.1 L1065.2,3046.6 L1066.5,3046.0 L1067.8,3046.7 L1069.0,3048.3 L1070.2,3048.6 L1071.5,3047.0 L1072.8,3047.5 L1074.0,3047.6 L1075.2,3047.2 L1076.5,3046.4 L1077.8,3047.8 L1079.0,3047.0 L1080.2,3047.4 L1081.5,3047.5 L1082.8,3046.7 L1084.0,3047.9 L1085.2,3047.0 L1086.5,3047.0 L1087.8,3046.8 L1089.0,3047.5 L1090.2,3047.7 L1091.5,3046.8 L1092.8,3047.3 L1094.0,3046.8 L1095.2,3046.4 L1096.5,3046.9 L1097.8,3047.4 L1099.0,3047.4 L1100.2,3047.7 L1101.5,3046.9 L1102.8,3047.2 L1104.0,3047.5 L1105.2,3047.8 L1106.5,3047.6 L1107.8,3047.1 L1109.0,3046.9 L1110.2,3048.3 L1111.5,3048.2 L1112.8,3047.2 L1114.0,3048.5 L1115.2,3047.7 L1116.5,3047.9 L1117.8,3048.3 L1119.0,3047.5 L1120.2,3047.4 L1121.5,3046.9 L1122.8,3048.2 L1124.0,3048.4 L1125.2,3048.6 L1126.5,3048.4 L1127.8,3048.3 L1129.0,3048.8 L1130.2,3047.6 L1131.5,3048.4 L1132.8,3048.5 L1134.0,3048.1 L1135.2,3049.1 L1136.5,3048.5 L1137.8,3049.0 L1139.0,3048.8 L1140.2,3048.4 L1141.5,3049.6 L1142.8,3049.1 L1144.0,3048.6 L1145.2,3048.6 L1146.5,3047.9 L1147.8,3048.5 L1149.0,3048.4 L1150.2,3048.7 L1151.5,3048.4 L1152.8,3049.0 L1154.0,3048.6 L1155.2,3047.8 L1156.5,3048.3 L1157.8,3048.3 L1159.0,3048.1 L1160.2,3048.8 L1161.5,3049.5 L1162.8,3048.4 L1164.0,3047.9 L1165.2,3048.9 L1166.5,3050.6 L1167.8,3048.8 L1169.0,3049.3 L1170.2,3049.0 L1171.5,3049.8 L1172.8,3050.0 L1174.0,3049.2 L1175.2,3049.9 L1176.5,3048.6 L1177.8,3049.3 L1179.0,3048.4 L1180.2,3049.3 L1181.5,3048.8 L1182.8,3049.1 L1184.0,3048.5 L1185.2,3049.2 L1186.5,3049.2 L1187.8,3048.9 L1189.0,3048.8 L1190.2,3048.6 L1191.5,3049.1 L1192.8,3049.6 L1194.0,3049.4 L1195.2,3049.6 L1196.5,3050.2 L1197.8,3049.3 L1199.0,3049.7 L1200.2,3050.0 L1201.5,3049.9 L1202.8,3049.6 L1204.0,3049.3 L1205.2,3050.3 L1206.5,3049.2 L1207.8,3049.2 L1209.0,3049.8 L1210.2,3050.3 L1211.5,3050.4 L1212.8,3049.7 L1214.0,3050.1 L1215.2,3050.0 L1216.5,3049.8 L1217.8,3050.1 L1219.0,3050.0 L1220.2,3049.8 L1221.5,3050.6 L1222.8,3049.3 L1224.0,3050.3 L1225.2,3050.7 L1226.5,3050.7 L1227.8,3049.6 L1229.0,3049.5 L1230.2,3048.7 L1231.5,3049.4 L1232.8,3050.7 L1234.0,3048.6 L1235.2,3048.6 L1236.5,3049.9 L1237.8,3049.8 L1239.0,3048.5 L1240.2,3049.3 L1241.5,3049.5 L1242.8,3048.5 L1244.0,3049.8 L1245.2,3048.7 L1246.5,3050.0 L1247.8,3049.4 L1249.0,3048.9 L1250.2,3048.3 L1251.5,3049.2 L1252.8,3049.5 L1254.0,3049.4 L1255.2,3049.4 L1256.5,3049.3 L1257.8,3050.0 L1259.0,3049.2 L1260.2,3049.6 L1261.5,3049.9 L1262.8,3049.7 L1264.0,3050.2 L1265.2,3050.6 L1266.5,3049.5 L1267.8,3050.0 L1269.0,3048.3 L1270.2,3049.6 L1271.5,3050.2 L1272.8,3049.1 L1274.0,3050.5 L1275.2,3048.5 L1276.5,3050.2 L1277.8,3049.1 L1279.0,3048.8 L1280.2,3048.8 L1281.5,3049.0 L1282.8,3048.6 L1284.0,3048.5 L1285.2,3048.7 L1286.5,3049.7 L1287.8,3049.6 L1289.0,3050.1 L1290.2,3048.9 L1291.5,3049.2 L1292.8,3049.2 L1294.0,3049.6 L1295.2,3049.6 L1296.5,3050.5 L1297.8,3050.0 L1299.0,3049.6 L1300.2,3050.2 L1301.5,3049.1 L1302.8,3048.9 L1304.0,3050.2 L1305.2,3049.9 L1306.5,3049.9 L1307.8,3050.3 L1309.0,3049.5 L1310.2,3049.7 L1311.5,3050.0 L1312.8,3050.1 L1314.0,3050.2 L1315.2,3049.6 L1316.5,3049.6 L1317.8,3048.0 L1319.0,3050.1 L1320.2,3048.5 L1321.5,3049.4 L1322.8,3050.8 L1324.0,3049.2 L1325.2,3048.6 L1326.5,3050.3 L1327.8,3049.1 L1329.0,3049.3 L1330.2,3049.2 L1331.5,3049.7 L1332.8,3049.8 L1334.0,3049.3 L1335.2,3050.1 L1336.5,3049.0 L1337.8,3050.0 L1339.0,3049.3 L1340.2,3050.0 L1341.5,3049.3 L1342.8,3049.5 L1344.0,3050.7 L1345.2,3049.2 L1346.5,3049.2 L1347.8,3050.1 L1349.0,3049.5 L1350.2,3049.3 L1351.5,3049.7 L1352.8,3050.9 L1354.0,3049.2 L1355.2,3049.4 L1356.5,3049.7 L1357.8,3048.9 L1359.0,3049.5 L1360.2,3049.8 L1361.5,3049.1 L1362.8,3050.1 L1364.0,3048.8 L1365.2,3049.1 L1366.5,3049.6 L1367.8,3051.3 L1369.0,3048.5 L1370.2,3049.7 L1371.5,3050.9 L1372.8,3049.1 L1374.0,3050.0 L1375.2,3049.6 L1376.5,3048.8 L1377.8,3049.7 L1379.0,3049.0 L1380.2,3049.6 L1381.5,3048.8 L1382.8,3050.0 L1384.0,3048.3 L1385.2,3049.5 L1386.5,3050.4 L1387.8,3049.9 L1389.0,3049.5 L1390.2,3049.6 L1391.5,3049.4 L1392.8,3051.1 L1394.0,3049.6 L1395.2,3049.6 L1396.5,3049.4 L1397.8,3049.5 L1399.0,3050.2 L1400.2,3049.6 L1401.5,3049.4 L1402.8,3049.6 L1404.0,3049.7 L1405.2,3050.1 L1406.5,3049.9 L1407.8,3050.0 L1409.0,3049.7 L1410.2,3050.8 L1411.5,3050.1 L1412.8,3049.9 L1414.0,3050.3 L1415.2,3050.2 L1416.5,3049.5 L1417.8,3050.1 L1419.0,3051.2 L1420.2,3050.7 L1421.5,3051.1 L1422.8,3050.2 L1424.0,3049.9 L1425.2,3050.3 L1426.5,3051.4 L1427.8,3049.9 L1429.0,3050.0 L1430.2,3051.0 L1431.5,3050.3 L1432.8,3050.4 L1434.0,3050.8 L1435.2,3050.7 L1436.5,3050.5 L1437.8,3050.9 L1439.0,3050.6 L1440.2,3050.9 L1441.5,3051.4 L1442.8,3050.5 L1444.0,3050.9 L1445.2,3050.4 L1446.5,3051.4 L1447.8,3051.4 L1448.0,3051.4" fill="none" stroke="#f44242" stroke-width="5.2" stroke-linejoin="round" stroke-linecap="butt"/>
<path d="M129.0,2757.1 L130.2,2757.4 L131.5,2757.7 L132.8,2757.1 L134.0,2757.6 L135.2,2756.9 L136.5,2757.8 L137.8,2756.0 L139.0,2757.4 L140.2,2757.2 L141.5,2757.1 L142.8,2756.3 L144.0,2757.7 L145.2,2757.0 L146.5,2756.4 L147.8,2756.6 L149.0,2756.7 L150.2,2756.8 L151.5,2756.2 L152.8,2756.2 L154.0,2756.9 L155.2,2756.6 L156.5,2757.7 L157.8,2756.4 L159.0,2756.9 L160.2,2757.5 L161.5,2756.6 L162.8,2757.3 L164.0,2756.9 L165.2,2756.7 L166.5,2757.6 L167.8,2756.3 L169.0,2756.7 L170.2,2756.3 L171.5,2757.1 L172.8,2757.5 L174.0,2756.7 L175.2,2757.2 L176.5,2756.4 L177.8,2757.4 L179.0,2756.6 L180.2,2756.4 L181.5,2757.3 L182.8,2756.6 L184.0,2756.9 L185.2,2756.6 L186.5,2757.0 L187.8,2756.7 L189.0,2755.9 L190.2,2756.7 L191.5,2756.8 L192.8,2756.7 L194.0,2756.3 L195.2,2757.4 L196.5,2756.2 L197.8,2756.5 L199.0,2756.5 L200.2,2755.9 L201.5,2755.8 L202.8,2756.7 L204.0,2756.5 L205.2,2756.2 L206.5,2755.2 L207.8,2755.7 L209.0,2756.0 L210.2,2756.2 L211.5,2756.4 L212.8,2756.1 L214.0,2756.4 L215.2,2756.8 L216.5,2754.7 L217.8,2756.5 L219.0,2755.9 L220.2,2756.5 L221.5,2756.4 L222.8,2755.7 L224.0,2755.8 L225.2,2756.4 L226.5,2756.3 L227.8,2756.8 L229.0,2756.2 L230.2,2757.4 L231.5,2756.0 L232.8,2757.2 L234.0,2755.6 L235.2,2756.2 L236.5,2756.6 L237.8,2755.3 L239.0,2755.5 L240.2,2756.0 L241.5,2756.5 L242.8,2756.7 L244.0,2756.2 L245.2,2756.5 L246.5,2755.3 L247.8,2755.7 L249.0,2756.8 L250.2,2755.7 L251.5,2756.0 L252.8,2755.1 L254.0,2756.0 L255.2,2755.2 L256.5,2756.2 L257.8,2756.9 L259.0,2756.2 L260.2,2756.0 L261.5,2755.6 L262.8,2756.1 L264.0,2755.2 L265.2,2755.4 L266.5,2756.8 L267.8,2755.1 L269.0,2755.4 L270.2,2755.0 L271.5,2756.3 L272.8,2755.5 L274.0,2754.9 L275.2,2755.1 L276.5,2756.3 L277.8,2756.0 L279.0,2755.9 L280.2,2755.4 L281.5,2755.7 L282.8,2756.0 L284.0,2755.6 L285.2,2754.3 L286.5,2754.0 L287.8,2754.2 L289.0,2755.2 L290.2,2754.3 L291.5,2754.5 L292.8,2755.1 L294.0,2754.8 L295.2,2754.6 L296.5,2755.7 L297.8,2755.5 L299.0,2755.6 L300.2,2755.6 L301.5,2755.7 L302.8,2754.9 L304.0,2754.8 L305.2,2753.8 L306.5,2754.6 L307.8,2754.6 L309.0,2755.5 L310.2,2755.3 L311.5,2755.7 L312.8,2755.7 L314.0,2755.8 L315.2,2755.4 L316.5,2755.2 L317.8,2754.9 L319.0,2754.8 L320.2,2754.2 L321.5,2754.8 L322.8,2754.5 L324.0,2753.4 L325.2,2753.0 L326.5,2754.1 L327.8,2754.2 L329.0,2754.2 L330.2,2755.2 L331.5,2754.2 L332.8,2754.0 L334.0,2754.7 L335.2,2754.9 L336.5,2755.3 L337.8,2753.8 L339.0,2754.2 L340.2,2754.1 L341.5,2755.1 L342.8,2754.5 L344.0,2754.1 L345.2,2754.5 L346.5,2754.0 L347.8,2754.1 L349.0,2754.2 L350.2,2753.8 L351.5,2754.0 L352.8,2754.3 L354.0,2754.1 L355.2,2754.8 L356.5,2754.4 L357.8,2754.0 L359.0,2752.9 L360.2,2753.4 L361.5,2753.9 L362.8,2753.8 L364.0,2753.2 L365.2,2753.6 L366.5,2753.8 L367.8,2753.4 L369.0,2753.6 L370.2,2753.5 L371.5,2753.1 L372.8,2752.9 L374.0,2753.3 L375.2,2753.5 L376.5,2752.9 L377.8,2752.3 L379.0,2753.0 L380.2,2753.7 L381.5,2752.6 L382.8,2753.8 L384.0,2753.2 L385.2,2753.5 L386.5,2753.0 L387.8,2753.6 L389.0,2753.3 L390.2,2753.3 L391.5,2752.1 L392.8,2753.4 L394.0,2752.1 L395.2,2752.8 L396.5,2753.2 L397.8,2752.8 L399.0,2753.2 L400.2,2753.0 L401.5,2753.0 L402.8,2752.5 L404.0,2753.4 L405.2,2753.5 L406.5,2752.5 L407.8,2752.3 L409.0,2752.8 L410.2,2752.2 L411.5,2752.7 L412.8,2753.1 L414.0,2753.1 L415.2,2753.5 L416.5,2753.0 L417.8,2752.2 L419.0,2752.2 L420.2,2752.9 L421.5,2753.6 L422.8,2752.3 L424.0,2751.9 L425.2,2753.0 L426.5,2752.1 L427.8,2752.4 L429.0,2752.5 L430.2,2751.6 L431.5,2751.9 L432.8,2751.9 L434.0,2752.5 L435.2,2752.5 L436.5,2752.0 L437.8,2752.4 L439.0,2751.3 L440.2,2752.3 L441.5,2752.3 L442.8,2751.9 L444.0,2751.0 L445.2,2751.5 L446.5,2751.1 L447.8,2752.2 L449.0,2751.3 L450.2,2751.5 L451.5,2751.6 L452.8,2751.7 L454.0,2751.8 L455.2,2751.9 L456.5,2751.2 L457.8,2752.2 L459.0,2751.3 L460.2,2751.7 L461.5,2751.2 L462.8,2751.5 L464.0,2750.9 L465.2,2750.1 L466.5,2750.3 L467.8,2750.8 L469.0,2751.5 L470.2,2750.6 L471.5,2750.9 L472.8,2751.5 L474.0,2750.7 L475.2,2751.3 L476.5,2751.2 L477.8,2750.5 L479.0,2750.8 L480.2,2751.3 L481.5,2751.4 L482.8,2750.7 L484.0,2752.2 L485.2,2750.9 L486.5,2750.4 L487.8,2750.1 L489.0,2750.0 L490.2,2751.0 L491.5,2749.0 L492.8,2750.3 L494.0,2749.6 L495.2,2750.4 L496.5,2750.4 L497.8,2749.7 L499.0,2750.0 L500.2,2751.1 L501.5,2750.2 L502.8,2750.4 L504.0,2750.3 L505.2,2750.9 L506.5,2751.0 L507.8,2750.8 L509.0,2750.5 L510.2,2750.4 L511.5,2749.6 L512.8,2750.8 L514.0,2749.8 L515.2,2749.5 L516.5,2749.8 L517.8,2749.6 L519.0,2750.2 L520.2,2750.4 L521.5,2750.7 L522.8,2749.9 L524.0,2749.6 L525.2,2749.7 L526.5,2749.1 L527.8,2749.1 L529.0,2750.4 L530.2,2749.0 L531.5,2749.1 L532.8,2749.7 L534.0,2749.5 L535.2,2749.6 L536.5,2748.6 L537.8,2748.5 L539.0,2749.7 L540.2,2748.7 L541.5,2748.9 L542.8,2748.9 L544.0,2747.7 L545.2,2748.5 L546.5,2748.1 L547.8,2748.8 L549.0,2748.4 L550.2,2747.5 L551.5,2749.0 L552.8,2747.1 L554.0,2748.2 L555.2,2747.9 L556.5,2748.0 L557.8,2748.4 L559.0,2748.8 L560.2,2747.8 L561.5,2747.9 L562.8,2748.4 L564.0,2748.2 L565.2,2748.3 L566.5,2748.1 L567.8,2747.8 L569.0,2747.5 L570.2,2747.5 L571.5,2748.1 L572.8,2748.2 L574.0,2748.6 L575.2,2747.0 L576.5,2747.4 L577.8,2747.3 L579.0,2747.0 L580.2,2746.5 L581.5,2748.1 L582.8,2747.8 L584.0,2746.9 L585.2,2746.6 L586.5,2746.9 L587.8,2746.3 L589.0,2746.8 L590.2,2747.4 L591.5,2747.8 L592.8,2747.3 L594.0,2747.4 L595.2,2746.2 L596.5,2745.0 L597.8,2747.1 L599.0,2746.5 L600.2,2746.3 L601.5,2747.2 L602.8,2745.9 L604.0,2745.9 L605.2,2745.9 L606.5,2747.0 L607.8,2746.8 L609.0,2745.5 L610.2,2747.2 L611.5,2746.2 L612.8,2746.4 L614.0,2745.6 L615.2,2746.8 L616.5,2746.1 L617.8,2746.7 L619.0,2745.4 L620.2,2746.3 L621.5,2745.9 L622.8,2745.9 L624.0,2745.4 L625.2,2745.5 L626.5,2745.3 L627.8,2745.5 L629.0,2745.8 L630.2,2745.9 L631.5,2744.7 L632.8,2744.9 L634.0,2745.1 L635.2,2744.7 L636.5,2745.3 L637.8,2745.3 L639.0,2745.3 L640.2,2745.5 L641.5,2745.8 L642.8,2745.6 L644.0,2745.4 L645.2,2745.5 L646.5,2744.6 L647.8,2744.7 L649.0,2745.5 L650.2,2745.5 L651.5,2746.3 L652.8,2745.0 L654.0,2744.6 L655.2,2745.3 L656.5,2744.8 L657.8,2744.6 L659.0,2745.6 L660.2,2745.9 L661.5,2745.0 L662.8,2744.6 L664.0,2745.0 L665.2,2744.8 L666.5,2744.0 L667.8,2745.2 L669.0,2745.0 L670.2,2745.5 L671.5,2744.4 L672.8,2744.7 L674.0,2744.5 L675.2,2743.7 L676.5,2745.8 L677.8,2743.4 L679.0,2743.8 L680.2,2744.1 L681.5,2743.5 L682.8,2744.6 L684.0,2744.0 L685.2,2744.3 L686.5,2744.5 L687.8,2744.4 L689.0,2744.4 L690.2,2744.2 L691.5,2744.5 L692.8,2744.7 L694.0,2744.1 L695.2,2744.0 L696.5,2744.1 L697.8,2744.5 L699.0,2744.0 L700.2,2743.8 L701.5,2743.4 L702.8,2745.2 L704.0,2743.6 L705.2,2745.1 L706.5,2744.7 L707.8,2744.7 L709.0,2744.2 L710.2,2744.5 L711.5,2744.3 L712.8,2744.5 L714.0,2744.5 L715.2,2744.8 L716.5,2743.4 L717.8,2744.0 L719.0,2744.6 L720.2,2744.5 L721.5,2743.2 L722.8,2744.2 L724.0,2743.9 L725.2,2743.8 L726.5,2742.5 L727.8,2744.2 L729.0,2743.0 L730.2,2744.9 L731.5,2744.1 L732.8,2743.7 L734.0,2744.0 L735.2,2743.9 L736.5,2743.6 L737.8,2743.8 L739.0,2743.9 L740.2,2743.4 L741.5,2744.3 L742.8,2744.5 L744.0,2744.4 L745.2,2744.4 L746.5,2744.5 L747.8,2744.2 L749.0,2744.5 L750.2,2743.8 L751.5,2743.8 L752.8,2744.2 L754.0,2744.5 L755.2,2743.4 L756.5,2742.7 L757.8,2744.5 L759.0,2744.0 L760.2,2744.5 L761.5,2744.0 L762.8,2743.9 L764.0,2743.5 L765.2,2743.2 L766.5,2744.4 L767.8,2744.1 L769.0,2744.0 L770.2,2743.3 L771.5,2743.5 L772.8,2743.5 L774.0,2743.6 L775.2,2742.2 L776.5,2743.9 L777.8,2744.7 L779.0,2743.6 L780.2,2743.9 L781.5,2744.1 L782.8,2743.4 L784.0,2744.2 L785.2,2743.4 L786.5,2743.6 L787.8,2744.0 L789.0,2743.8 L790.2,2743.6 L791.5,2742.9 L792.8,2743.4 L794.0,2742.3 L795.2,2742.8 L796.5,2741.8 L797.8,2741.3 L799.0,2741.4 L800.2,2740.6 L801.5,2740.4 L802.8,2740.2 L804.0,2740.3 L805.2,2740.0 L806.5,2739.6 L807.8,2739.0 L809.0,2738.0 L810.2,2738.2 L811.5,2737.9 L812.8,2737.6 L814.0,2737.1 L815.2,2736.6 L816.5,2736.6 L817.8,2735.2 L819.0,2735.0 L820.2,2734.7 L821.5,2733.4 L822.8,2732.7 L824.0,2732.6 L825.2,2732.4 L826.5,2732.7 L827.8,2733.3 L829.0,2732.8 L830.2,2733.5 L831.5,2733.4 L832.8,2733.9 L834.0,2734.6 L835.2,2734.5 L836.5,2735.6 L837.8,2735.3 L839.0,2735.9 L840.2,2736.1 L841.5,2736.8 L842.8,2737.1 L844.0,2737.7 L845.2,2737.4 L846.5,2738.6 L847.8,2739.6 L849.0,2738.1 L850.2,2740.2 L851.5,2739.4 L852.8,2740.0 L854.0,2739.2 L855.2,2740.8 L856.5,2739.5 L857.8,2740.1 L859.0,2741.1 L860.2,2739.7 L861.5,2739.2 L862.8,2740.5 L864.0,2740.2 L865.2,2740.3 L866.5,2740.3 L867.8,2740.1 L869.0,2741.7 L870.2,2741.7 L871.5,2740.5 L872.8,2741.1 L874.0,2741.1 L875.2,2741.9 L876.5,2740.8 L877.8,2742.2 L879.0,2741.6 L880.2,2741.3 L881.5,2741.7 L882.8,2741.4 L884.0,2743.0 L885.2,2741.7 L886.5,2741.6 L887.8,2742.0 L889.0,2742.9 L890.2,2741.6 L891.5,2741.2 L892.8,2742.8 L894.0,2742.5 L895.2,2742.1 L896.5,2742.4 L897.8,2743.2 L899.0,2741.4 L900.2,2743.4 L901.5,2742.7 L902.8,2743.3 L904.0,2743.1 L905.2,2744.8 L906.5,2742.8 L907.8,2743.8 L909.0,2741.7 L910.2,2743.1 L911.5,2743.6 L912.8,2742.5 L914.0,2742.3 L915.2,2743.5 L916.5,2744.1 L917.8,2744.3 L919.0,2743.5 L920.2,2744.1 L921.5,2743.3 L922.8,2745.2 L924.0,2744.1 L925.2,2745.0 L926.5,2744.3 L927.8,2744.3 L929.0,2745.6 L930.2,2744.2 L931.5,2745.5 L932.8,2744.7 L934.0,2744.3 L935.2,2744.1 L936.5,2745.2 L937.8,2744.7 L939.0,2744.6 L940.2,2743.9 L941.5,2745.5 L942.8,2745.6 L944.0,2745.2 L945.2,2745.6 L946.5,2743.8 L947.8,2745.4 L949.0,2745.8 L950.2,2745.9 L951.5,2745.5 L952.8,2746.0 L954.0,2745.5 L955.2,2745.7 L956.5,2745.4 L957.8,2746.1 L959.0,2745.7 L960.2,2745.9 L961.5,2747.0 L962.8,2746.5 L964.0,2746.5 L965.2,2745.7 L966.5,2746.3 L967.8,2747.2 L969.0,2747.0 L970.2,2746.8 L971.5,2746.8 L972.8,2747.0 L974.0,2747.1 L975.2,2746.7 L976.5,2745.6 L977.8,2748.1 L979.0,2747.6 L980.2,2747.0 L981.5,2747.7 L982.8,2746.3 L984.0,2747.6 L985.2,2747.0 L986.5,2747.5 L987.8,2746.8 L989.0,2747.1 L990.2,2747.4 L991.5,2747.7 L992.8,2747.5 L994.0,2747.5 L995.2,2746.9 L996.5,2748.3 L997.8,2747.6 L999.0,2747.5 L1000.2,2747.5 L1001.5,2747.0 L1002.8,2747.3 L1004.0,2746.8 L1005.2,2747.9 L1006.5,2747.8 L1007.8,2748.0 L1009.0,2747.0 L1010.2,2747.6 L1011.5,2747.2 L1012.8,2748.1 L1014.0,2746.8 L1015.2,2746.9 L1016.5,2748.5 L1017.8,2748.0 L1019.0,2746.9 L1020.2,2748.6 L1021.5,2748.7 L1022.8,2748.6 L1024.0,2746.7 L1025.2,2747.8 L1026.5,2747.3 L1027.8,2747.6 L1029.0,2746.8 L1030.2,2748.7 L1031.5,2747.5 L1032.8,2748.1 L1034.0,2748.4 L1035.2,2748.6 L1036.5,2748.5 L1037.8,2748.1 L1039.0,2748.5 L1040.2,2748.3 L1041.5,2747.1 L1042.8,2748.8 L1044.0,2747.9 L1045.2,2748.0 L1046.5,2747.9 L1047.8,2747.2 L1049.0,2747.3 L1050.2,2746.8 L1051.5,2748.1 L1052.8,2748.4 L1054.0,2748.0 L1055.2,2747.4 L1056.5,2748.7 L1057.8,2747.8 L1059.0,2747.3 L1060.2,2747.1 L1061.5,2748.3 L1062.8,2749.1 L1064.0,2748.2 L1065.2,2748.0 L1066.5,2748.2 L1067.8,2747.8 L1069.0,2748.2 L1070.2,2748.6 L1071.5,2748.3 L1072.8,2749.2 L1074.0,2748.2 L1075.2,2749.2 L1076.5,2749.1 L1077.8,2748.7 L1079.0,2749.0 L1080.2,2749.1 L1081.5,2750.2 L1082.8,2749.0 L1084.0,2750.1 L1085.2,2750.0 L1086.5,2749.4 L1087.8,2750.6 L1089.0,2748.5 L1090.2,2749.8 L1091.5,2749.8 L1092.8,2749.9 L1094.0,2750.5 L1095.2,2749.7 L1096.5,2750.0 L1097.8,2750.9 L1099.0,2750.2 L1100.2,2749.8 L1101.5,2750.9 L1102.8,2750.5 L1104.0,2750.3 L1105.2,2750.8 L1106.5,2750.1 L1107.8,2750.0 L1109.0,2750.2 L1110.2,2750.4 L1111.5,2750.5 L1112.8,2749.6 L1114.0,2751.3 L1115.2,2750.7 L1116.5,2750.4 L1117.8,2750.5 L1119.0,2748.9 L1120.2,2750.8 L1121.5,2749.8 L1122.8,2750.6 L1124.0,2749.8 L1125.2,2750.8 L1126.5,2750.0 L1127.8,2750.1 L1129.0,2751.1 L1130.2,2750.7 L1131.5,2749.6 L1132.8,2749.9 L1134.0,2750.4 L1135.2,2750.1 L1136.5,2750.8 L1137.8,2750.0 L1139.0,2749.3 L1140.2,2749.9 L1141.5,2750.4 L1142.8,2750.8 L1144.0,2750.9 L1145.2,2751.1 L1146.5,2750.6 L1147.8,2750.2 L1149.0,2750.8 L1150.2,2750.4 L1151.5,2750.3 L1152.8,2750.3 L1154.0,2750.9 L1155.2,2751.3 L1156.5,2751.2 L1157.8,2749.8 L1159.0,2751.5 L1160.2,2750.2 L1161.5,2750.7 L1162.8,2751.1 L1164.0,2750.0 L1165.2,2750.2 L1166.5,2750.5 L1167.8,2751.8 L1169.0,2751.3 L1170.2,2750.2 L1171.5,2750.7 L1172.8,2750.8 L1174.0,2750.8 L1175.2,2750.3 L1176.5,2751.4 L1177.8,2750.3 L1179.0,2750.9 L1180.2,2749.6 L1181.5,2750.5 L1182.8,2750.6 L1184.0,2751.2 L1185.2,2749.1 L1186.5,2750.8 L1187.8,2751.0 L1189.0,2750.5 L1190.2,2751.4 L1191.5,2751.8 L1192.8,2751.3 L1194.0,2751.0 L1195.2,2751.3 L1196.5,2750.7 L1197.8,2751.2 L1199.0,2750.8 L1200.2,2750.2 L1201.5,2750.1 L1202.8,2751.4 L1204.0,2751.0 L1205.2,2750.6 L1206.5,2750.9 L1207.8,2751.7 L1209.0,2750.0 L1210.2,2750.5 L1211.5,2751.4 L1212.8,2751.4 L1214.0,2750.4 L1215.2,2750.6 L1216.5,2751.2 L1217.8,2752.0 L1219.0,2751.3 L1220.2,2750.1 L1221.5,2752.0 L1222.8,2751.4 L1224.0,2751.2 L1225.2,2750.6 L1226.5,2751.9 L1227.8,2751.2 L1229.0,2751.3 L1230.2,2751.3 L1231.5,2751.4 L1232.8,2751.4 L1234.0,2752.0 L1235.2,2750.5 L1236.5,2751.1 L1237.8,2750.9 L1239.0,2752.3 L1240.2,2751.3 L1241.5,2750.8 L1242.8,2751.6 L1244.0,2751.4 L1245.2,2751.3 L1246.5,2751.5 L1247.8,2751.2 L1249.0,2750.9 L1250.2,2752.9 L1251.5,2751.8 L1252.8,2751.3 L1254.0,2752.3 L1255.2,2752.5 L1256.5,2750.9 L1257.8,2751.6 L1259.0,2752.1 L1260.2,2751.4 L1261.5,2752.3 L1262.8,2751.2 L1264.0,2751.5 L1265.2,2751.7 L1266.5,2752.2 L1267.8,2752.1 L1269.0,2751.7 L1270.2,2751.8 L1271.5,2750.9 L1272.8,2753.0 L1274.0,2751.6 L1275.2,2751.6 L1276.5,2752.0 L1277.8,2752.0 L1279.0,2751.8 L1280.2,2751.4 L1281.5,2750.8 L1282.8,2751.5 L1284.0,2751.3 L1285.2,2751.5 L1286.5,2751.7 L1287.8,2751.9 L1289.0,2752.6 L1290.2,2751.8 L1291.5,2751.1 L1292.8,2752.3 L1294.0,2752.5 L1295.2,2751.0 L1296.5,2752.2 L1297.8,2752.2 L1299.0,2751.7 L1300.2,2752.0 L1301.5,2752.1 L1302.8,2752.2 L1304.0,2752.5 L1305.2,2751.9 L1306.5,2752.0 L1307.8,2753.5 L1309.0,2751.4 L1310.2,2751.9 L1311.5,2751.9 L1312.8,2752.5 L1314.0,2752.6 L1315.2,2751.4 L1316.5,2752.8 L1317.8,2751.6 L1319.0,2753.6 L1320.2,2751.8 L1321.5,2752.7 L1322.8,2752.0 L1324.0,2752.6 L1325.2,2751.8 L1326.5,2752.2 L1327.8,2752.1 L1329.0,2752.0 L1330.2,2752.2 L1331.5,2751.5 L1332.8,2751.6 L1334.0,2751.0 L1335.2,2751.6 L1336.5,2751.3 L1337.8,2752.0 L1339.0,2752.0 L1340.2,2751.4 L1341.5,2752.1 L1342.8,2752.7 L1344.0,2752.0 L1345.2,2751.4 L1346.5,2753.4 L1347.8,2752.3 L1349.0,2752.4 L1350.2,2753.3 L1351.5,2751.3 L1352.8,2752.0 L1354.0,2750.7 L1355.2,2751.9 L1356.5,2751.9 L1357.8,2751.2 L1359.0,2751.1 L1360.2,2751.5 L1361.5,2751.4 L1362.8,2752.5 L1364.0,2751.4 L1365.2,2751.4 L1366.5,2751.3 L1367.8,2750.4 L1369.0,2751.0 L1370.2,2750.6 L1371.5,2751.4 L1372.8,2750.4 L1374.0,2751.0 L1375.2,2751.7 L1376.5,2750.5 L1377.8,2750.8 L1379.0,2752.2 L1380.2,2751.0 L1381.5,2751.7 L1382.8,2751.9 L1384.0,2751.0 L1385.2,2750.6 L1386.5,2752.6 L1387.8,2751.5 L1389.0,2752.1 L1390.2,2751.4 L1391.5,2752.0 L1392.8,2751.1 L1394.0,2751.1 L1395.2,2751.4 L1396.5,2751.5 L1397.8,2751.6 L1399.0,2751.6 L1400.2,2752.0 L1401.5,2751.4 L1402.8,2752.3 L1404.0,2751.5 L1405.2,2752.2 L1406.5,2752.5 L1407.8,2752.8 L1409.0,2750.6 L1410.2,2752.7 L1411.5,2751.0 L1412.8,2752.8 L1414.0,2752.1 L1415.2,2752.1 L1416.5,2751.5 L1417.8,2752.5 L1419.0,2752.5 L1420.2,2751.9 L1421.5,2751.8 L1422.8,2752.5 L1424.0,2752.6 L1425.2,2752.5 L1426.5,2751.9 L1427.8,2752.2 L1429.0,2752.7 L1430.2,2752.6 L1431.5,2752.8 L1432.8,2752.2 L1434.0,2751.7 L1435.2,2752.4 L1436.5,2752.6 L1437.8,2752.0 L1439.0,2752.5 L1440.2,2751.9 L1441.5,2752.6 L1442.8,2752.2 L1444.0,2753.8 L1445.2,2753.4 L1446.5,2752.9 L1447.8,2752.0 L1448.0,2752.1" fill="none" stroke="#1b66dc" stroke-width="5.2" stroke-linejoin="round" stroke-linecap="butt"/>
<line x1="825.4" y1="2695" x2="825.4" y2="3388" stroke="#000" stroke-width="6" stroke-dasharray="41 34"/>
<line x1="1218.8" y1="2673.4" x2="1218.8" y2="3377" stroke="#000" stroke-width="6" stroke-dasharray="41 34"/>
<text x="138.8" y="2522.7" style="font-size:130px">(c)</text>
<text x="140.8" y="3478" text-anchor="middle">150</text>
<text x="360.2" y="3478" text-anchor="middle">120</text>
<text x="579.7" y="3478" text-anchor="middle">90</text>
<text x="799.1" y="3478" text-anchor="middle">60</text>
<text x="1018.6" y="3478" text-anchor="middle">30</text>
<text x="1238.0" y="3478" text-anchor="middle">0</text>
<text x="1457.5" y="3478" text-anchor="middle">−30</text>
<text id="a1" x="222" y="249" textLength="574.60" lengthAdjust="spacing">Al<tspan font-size="62" dy="16">F</tspan><tspan dy="-16">(800)/ Al</tspan><tspan font-size="62" dy="16">F</tspan><tspan dy="-16">(F)=0.4</tspan></text>
<text id="a2" x="141.0" y="365.5" textLength="565.14" lengthAdjust="spacing">Pd/Beta−Al−800HTA</text>
<text id="a3" x="849" y="104.7" textLength="183.31" lengthAdjust="spacing">54ppm</text>
<text id="a4" x="923.0" y="319.6" textLength="182.44" lengthAdjust="spacing">30ppm</text>
<text id="a5" x="1168" y="303.2" textLength="149.40" lengthAdjust="spacing">0ppm</text>
<text id="a6" x="210" y="555.3" textLength="576.49" lengthAdjust="spacing">Al<tspan font-size="62" dy="16">F</tspan><tspan dy="-16">(750)/ Al</tspan><tspan font-size="62" dy="16">F</tspan><tspan dy="-16">(F)=0.6</tspan></text>
<text id="a7" x="145" y="680" textLength="561.42" lengthAdjust="spacing">Pd/Beta−Al−750HTA</text>
<text id="a8" x="153" y="966" textLength="309.82" lengthAdjust="spacing">Pd/Beta−Al</text>
<text id="a9" x="514.0" y="1166.5" textLength="559.68" lengthAdjust="spacing">Chemical shift (ppm)</text>
<text id="b1" x="213" y="1480.4" textLength="575.65" lengthAdjust="spacing">Al<tspan font-size="62" dy="16">F</tspan><tspan dy="-16">(800)/ Al</tspan><tspan font-size="62" dy="16">F</tspan><tspan dy="-16">(F)=0.7</tspan></text>
<text id="b2" x="143.0" y="1571.8" textLength="541.86" lengthAdjust="spacing">Pd/Beta−C−800HTA</text>
<text id="b3" x="846" y="1386" textLength="184.31" lengthAdjust="spacing">54ppm</text>
<text id="b4" x="1172.0" y="1515" textLength="149.66" lengthAdjust="spacing">0ppm</text>
<text id="b6" x="205" y="1773.4" textLength="574.60" lengthAdjust="spacing">Al<tspan font-size="62" dy="16">F</tspan><tspan dy="-16">(750)/ Al</tspan><tspan font-size="62" dy="16">F</tspan><tspan dy="-16">(F)=0.9</tspan></text>
<text id="b7" x="143.8" y="1868.7" textLength="539.09" lengthAdjust="spacing">Pd/Beta−C−750HTA</text>
<text id="b8" x="144" y="2166.5" textLength="282.47" lengthAdjust="spacing">Pd/Beta−C</text>
<text id="b9" x="513.0" y="2362.3" textLength="559.68" lengthAdjust="spacing">Chemical shift (ppm)</text>
<text id="c1" x="231.6" y="2643.9" textLength="524.81" lengthAdjust="spacing">Al<tspan font-size="62" dy="16">F</tspan><tspan dy="-16">(800)/ Al</tspan><tspan font-size="62" dy="16">F</tspan><tspan dy="-16">(F)=1</tspan></text>
<text id="c2" x="139" y="2740.8" textLength="553.28" lengthAdjust="spacing">Pd/Beta−Si−800HTA</text>
<text id="c3" x="801" y="2665.7" textLength="184.06" lengthAdjust="spacing">54ppm</text>
<text id="c4" x="1153.0" y="2659.4" textLength="150.20" lengthAdjust="spacing">0ppm</text>
<text id="c6" x="253.8" y="2930.6" textLength="523.43" lengthAdjust="spacing">Al<tspan font-size="62" dy="16">F</tspan><tspan dy="-16">(750)/ Al</tspan><tspan font-size="62" dy="16">F</tspan><tspan dy="-16">(F)=1</tspan></text>
<text id="c7" x="153.8" y="3043.5" textLength="551.37" lengthAdjust="spacing">Pd/Beta−Si−750HTA</text>
<text id="c8" x="153.8" y="3341.6" textLength="294.26" lengthAdjust="spacing">Pd/Beta−Si</text>
<text id="c9" x="510.8" y="3525.7" textLength="556.74" lengthAdjust="spacing">Chemical shift (ppm)</text>
<text id="ay" transform="translate(88,712.4) rotate(-90)" x="0" y="0" textLength="375.63" lengthAdjust="spacing">Intensity (a.u.)</text>
<text id="by" transform="translate(79.8,1881) rotate(-90)" x="0" y="0" textLength="379.58" lengthAdjust="spacing">Intensity (a.u.)</text>
<text id="cy" transform="translate(97.8,3134.2) rotate(-90)" x="0" y="0" textLength="380.43" lengthAdjust="spacing">Intensity (a.u.)</text>
</g>
</svg>
</body></html>
